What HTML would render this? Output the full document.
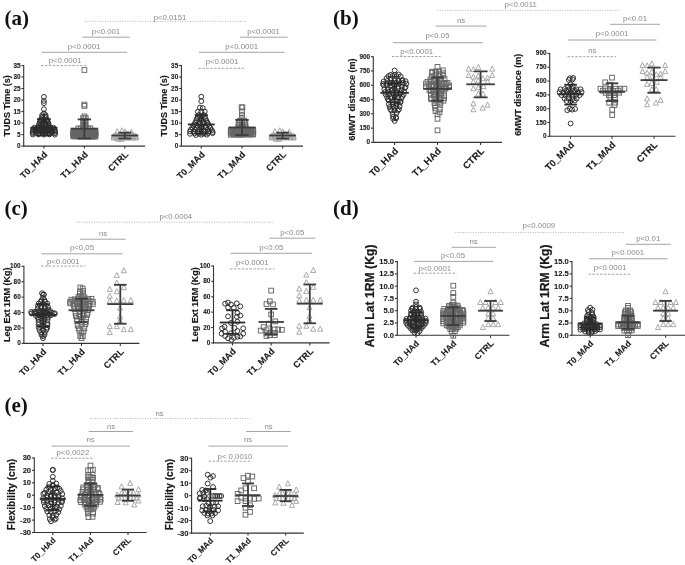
<!DOCTYPE html>
<html><head><meta charset="utf-8"><title>Figure</title>
<style>
html,body{margin:0;padding:0;background:#fff;}
body{width:685px;height:565px;overflow:hidden;font-family:"Liberation Sans",sans-serif;}
svg{display:block;will-change:transform;}
svg text{font-family:"Liberation Sans",sans-serif;}
</style></head><body>
<svg width="685" height="565" viewBox="0 0 685 565">
<rect width="685" height="565" fill="#fff"/>
<text x="4.5" y="24.8" style="font-family:'Liberation Serif',serif" font-size="21" font-weight="bold" fill="#111">(a)</text>
<text x="333" y="24.8" style="font-family:'Liberation Serif',serif" font-size="21" font-weight="bold" fill="#111">(b)</text>
<text x="4.5" y="214.9" style="font-family:'Liberation Serif',serif" font-size="21" font-weight="bold" fill="#111">(c)</text>
<text x="333" y="214.9" style="font-family:'Liberation Serif',serif" font-size="21" font-weight="bold" fill="#111">(d)</text>
<text x="4.5" y="411.6" style="font-family:'Liberation Serif',serif" font-size="21" font-weight="bold" fill="#111">(e)</text>
<g stroke="#333" stroke-width="1.1" fill="none">
<line x1="23.7" y1="65" x2="23.7" y2="146.6"/>
<line x1="23.2" y1="146.1" x2="145" y2="146.1"/>
<line x1="21.4" y1="146.1" x2="23.7" y2="146.1"/>
<line x1="21.4" y1="134.59" x2="23.7" y2="134.59"/>
<line x1="21.4" y1="123.07" x2="23.7" y2="123.07"/>
<line x1="21.4" y1="111.56" x2="23.7" y2="111.56"/>
<line x1="21.4" y1="100.04" x2="23.7" y2="100.04"/>
<line x1="21.4" y1="88.53" x2="23.7" y2="88.53"/>
<line x1="21.4" y1="77.01" x2="23.7" y2="77.01"/>
<line x1="21.4" y1="65.5" x2="23.7" y2="65.5"/>
<line x1="43.9" y1="146.1" x2="43.9" y2="148.6"/>
<line x1="84.4" y1="146.1" x2="84.4" y2="148.6"/>
<line x1="124.8" y1="146.1" x2="124.8" y2="148.6"/>
</g>
<g font-size="6.4" font-weight="bold" fill="#1a1a1a" stroke="#1a1a1a" stroke-width="0.1" text-anchor="end">
<text x="20.5" y="148.15">0</text>
<text x="20.5" y="136.63">5</text>
<text x="20.5" y="125.12">10</text>
<text x="20.5" y="113.61">15</text>
<text x="20.5" y="102.09">20</text>
<text x="20.5" y="90.58">25</text>
<text x="20.5" y="79.06">30</text>
<text x="20.5" y="67.55">35</text>
</g>
<g font-size="9" font-weight="bold" fill="#1a1a1a" stroke="#1a1a1a" stroke-width="0.12" text-anchor="end">
<text transform="translate(47.9 155.1) rotate(-45)">T0_HAd</text>
<text transform="translate(88.4 155.1) rotate(-45)">T1_HAd</text>
<text transform="translate(128.8 155.1) rotate(-45)">CTRL</text>
</g>
<text transform="translate(10 105.8) rotate(-90)" font-size="9" font-weight="bold" fill="#1a1a1a" stroke="#1a1a1a" stroke-width="0.16" text-anchor="middle">TUDS Time (s)</text>
<circle cx="32.9" cy="134.52" r="2.42" fill="none" stroke="#2a2a2a" stroke-width="0.95"/>
<circle cx="38.4" cy="134.45" r="2.42" fill="none" stroke="#2a2a2a" stroke-width="0.95"/>
<circle cx="43.9" cy="134.65" r="2.42" fill="none" stroke="#2a2a2a" stroke-width="0.95"/>
<circle cx="49.4" cy="134.41" r="2.42" fill="none" stroke="#2a2a2a" stroke-width="0.95"/>
<circle cx="54.9" cy="134.6" r="2.42" fill="none" stroke="#2a2a2a" stroke-width="0.95"/>
<circle cx="32.7" cy="133.15" r="2.42" fill="none" stroke="#2a2a2a" stroke-width="0.95"/>
<circle cx="35.9" cy="133.03" r="2.42" fill="none" stroke="#2a2a2a" stroke-width="0.95"/>
<circle cx="39.1" cy="133.21" r="2.42" fill="none" stroke="#2a2a2a" stroke-width="0.95"/>
<circle cx="42.3" cy="133.02" r="2.42" fill="none" stroke="#2a2a2a" stroke-width="0.95"/>
<circle cx="45.5" cy="133.18" r="2.42" fill="none" stroke="#2a2a2a" stroke-width="0.95"/>
<circle cx="48.7" cy="133.03" r="2.42" fill="none" stroke="#2a2a2a" stroke-width="0.95"/>
<circle cx="51.9" cy="133.04" r="2.42" fill="none" stroke="#2a2a2a" stroke-width="0.95"/>
<circle cx="55.1" cy="133.17" r="2.42" fill="none" stroke="#2a2a2a" stroke-width="0.95"/>
<circle cx="32.7" cy="131.95" r="2.42" fill="none" stroke="#2a2a2a" stroke-width="0.95"/>
<circle cx="35.5" cy="131.67" r="2.42" fill="none" stroke="#2a2a2a" stroke-width="0.95"/>
<circle cx="38.3" cy="131.71" r="2.42" fill="none" stroke="#2a2a2a" stroke-width="0.95"/>
<circle cx="41.1" cy="131.87" r="2.42" fill="none" stroke="#2a2a2a" stroke-width="0.95"/>
<circle cx="43.9" cy="132" r="2.42" fill="none" stroke="#2a2a2a" stroke-width="0.95"/>
<circle cx="46.7" cy="131.85" r="2.42" fill="none" stroke="#2a2a2a" stroke-width="0.95"/>
<circle cx="49.5" cy="131.78" r="2.42" fill="none" stroke="#2a2a2a" stroke-width="0.95"/>
<circle cx="52.3" cy="132.01" r="2.42" fill="none" stroke="#2a2a2a" stroke-width="0.95"/>
<circle cx="55.1" cy="131.64" r="2.42" fill="none" stroke="#2a2a2a" stroke-width="0.95"/>
<circle cx="32.9" cy="130.58" r="2.42" fill="none" stroke="#2a2a2a" stroke-width="0.95"/>
<circle cx="35.65" cy="130.36" r="2.42" fill="none" stroke="#2a2a2a" stroke-width="0.95"/>
<circle cx="38.4" cy="130.3" r="2.42" fill="none" stroke="#2a2a2a" stroke-width="0.95"/>
<circle cx="41.15" cy="130.29" r="2.42" fill="none" stroke="#2a2a2a" stroke-width="0.95"/>
<circle cx="43.9" cy="130.36" r="2.42" fill="none" stroke="#2a2a2a" stroke-width="0.95"/>
<circle cx="46.65" cy="130.57" r="2.42" fill="none" stroke="#2a2a2a" stroke-width="0.95"/>
<circle cx="49.4" cy="130.31" r="2.42" fill="none" stroke="#2a2a2a" stroke-width="0.95"/>
<circle cx="52.15" cy="130.47" r="2.42" fill="none" stroke="#2a2a2a" stroke-width="0.95"/>
<circle cx="54.9" cy="130.5" r="2.42" fill="none" stroke="#2a2a2a" stroke-width="0.95"/>
<circle cx="33.4" cy="129.01" r="2.42" fill="none" stroke="#2a2a2a" stroke-width="0.95"/>
<circle cx="36.4" cy="129.08" r="2.42" fill="none" stroke="#2a2a2a" stroke-width="0.95"/>
<circle cx="39.4" cy="128.88" r="2.42" fill="none" stroke="#2a2a2a" stroke-width="0.95"/>
<circle cx="42.4" cy="128.88" r="2.42" fill="none" stroke="#2a2a2a" stroke-width="0.95"/>
<circle cx="45.4" cy="128.94" r="2.42" fill="none" stroke="#2a2a2a" stroke-width="0.95"/>
<circle cx="48.4" cy="129.13" r="2.42" fill="none" stroke="#2a2a2a" stroke-width="0.95"/>
<circle cx="51.4" cy="129.03" r="2.42" fill="none" stroke="#2a2a2a" stroke-width="0.95"/>
<circle cx="54.4" cy="128.98" r="2.42" fill="none" stroke="#2a2a2a" stroke-width="0.95"/>
<circle cx="34.4" cy="127.71" r="2.42" fill="none" stroke="#2a2a2a" stroke-width="0.95"/>
<circle cx="37.57" cy="127.66" r="2.42" fill="none" stroke="#2a2a2a" stroke-width="0.95"/>
<circle cx="40.73" cy="127.6" r="2.42" fill="none" stroke="#2a2a2a" stroke-width="0.95"/>
<circle cx="43.9" cy="127.79" r="2.42" fill="none" stroke="#2a2a2a" stroke-width="0.95"/>
<circle cx="47.07" cy="127.76" r="2.42" fill="none" stroke="#2a2a2a" stroke-width="0.95"/>
<circle cx="50.23" cy="127.57" r="2.42" fill="none" stroke="#2a2a2a" stroke-width="0.95"/>
<circle cx="53.4" cy="127.71" r="2.42" fill="none" stroke="#2a2a2a" stroke-width="0.95"/>
<circle cx="38.9" cy="126.31" r="2.42" fill="none" stroke="#2a2a2a" stroke-width="0.95"/>
<circle cx="42.23" cy="126.45" r="2.42" fill="none" stroke="#2a2a2a" stroke-width="0.95"/>
<circle cx="45.57" cy="126.39" r="2.42" fill="none" stroke="#2a2a2a" stroke-width="0.95"/>
<circle cx="48.9" cy="126.21" r="2.42" fill="none" stroke="#2a2a2a" stroke-width="0.95"/>
<circle cx="39.1" cy="125.11" r="2.42" fill="none" stroke="#2a2a2a" stroke-width="0.95"/>
<circle cx="42.3" cy="124.76" r="2.42" fill="none" stroke="#2a2a2a" stroke-width="0.95"/>
<circle cx="45.5" cy="124.88" r="2.42" fill="none" stroke="#2a2a2a" stroke-width="0.95"/>
<circle cx="48.7" cy="125.02" r="2.42" fill="none" stroke="#2a2a2a" stroke-width="0.95"/>
<circle cx="39.4" cy="123.39" r="2.42" fill="none" stroke="#2a2a2a" stroke-width="0.95"/>
<circle cx="42.4" cy="123.53" r="2.42" fill="none" stroke="#2a2a2a" stroke-width="0.95"/>
<circle cx="45.4" cy="123.35" r="2.42" fill="none" stroke="#2a2a2a" stroke-width="0.95"/>
<circle cx="48.4" cy="123.6" r="2.42" fill="none" stroke="#2a2a2a" stroke-width="0.95"/>
<circle cx="39.9" cy="122.26" r="2.42" fill="none" stroke="#2a2a2a" stroke-width="0.95"/>
<circle cx="43.9" cy="122.18" r="2.42" fill="none" stroke="#2a2a2a" stroke-width="0.95"/>
<circle cx="47.9" cy="122.3" r="2.42" fill="none" stroke="#2a2a2a" stroke-width="0.95"/>
<circle cx="40.4" cy="120.69" r="2.42" fill="none" stroke="#2a2a2a" stroke-width="0.95"/>
<circle cx="43.9" cy="120.85" r="2.42" fill="none" stroke="#2a2a2a" stroke-width="0.95"/>
<circle cx="47.4" cy="120.81" r="2.42" fill="none" stroke="#2a2a2a" stroke-width="0.95"/>
<circle cx="40.9" cy="119.42" r="2.42" fill="none" stroke="#2a2a2a" stroke-width="0.95"/>
<circle cx="43.9" cy="119.37" r="2.42" fill="none" stroke="#2a2a2a" stroke-width="0.95"/>
<circle cx="46.9" cy="119.52" r="2.42" fill="none" stroke="#2a2a2a" stroke-width="0.95"/>
<circle cx="42.1" cy="118.18" r="2.42" fill="none" stroke="#2a2a2a" stroke-width="0.95"/>
<circle cx="45.7" cy="117.99" r="2.42" fill="none" stroke="#2a2a2a" stroke-width="0.95"/>
<circle cx="42.2" cy="116.69" r="2.42" fill="none" stroke="#2a2a2a" stroke-width="0.95"/>
<circle cx="45.6" cy="116.45" r="2.42" fill="none" stroke="#2a2a2a" stroke-width="0.95"/>
<circle cx="42.2" cy="115.09" r="2.42" fill="none" stroke="#2a2a2a" stroke-width="0.95"/>
<circle cx="45.6" cy="115.07" r="2.42" fill="none" stroke="#2a2a2a" stroke-width="0.95"/>
<circle cx="43.9" cy="113.37" r="2.42" fill="none" stroke="#2a2a2a" stroke-width="0.95"/>
<circle cx="43.9" cy="109.15" r="2.42" fill="none" stroke="#2a2a2a" stroke-width="0.95"/>
<circle cx="43.9" cy="103.18" r="2.42" fill="none" stroke="#2a2a2a" stroke-width="0.95"/>
<circle cx="43.9" cy="100.92" r="2.42" fill="none" stroke="#2a2a2a" stroke-width="0.95"/>
<circle cx="43.9" cy="96.89" r="2.42" fill="none" stroke="#2a2a2a" stroke-width="0.95"/>
<g stroke="#2a2a2a" stroke-width="1.8" fill="none">
<line x1="30.4" y1="127.68" x2="57.4" y2="127.68"/>
<line x1="43.9" y1="119.16" x2="43.9" y2="135.51"/>
<line x1="37" y1="119.16" x2="50.8" y2="119.16"/>
<line x1="37" y1="135.51" x2="50.8" y2="135.51"/>
</g>
<rect x="71.03" y="133.91" width="4.74" height="4.74" fill="none" stroke="#666666" stroke-width="0.95"/>
<rect x="72.6" y="134.04" width="4.74" height="4.74" fill="none" stroke="#666666" stroke-width="0.95"/>
<rect x="74.17" y="133.96" width="4.74" height="4.74" fill="none" stroke="#666666" stroke-width="0.95"/>
<rect x="75.74" y="133.94" width="4.74" height="4.74" fill="none" stroke="#666666" stroke-width="0.95"/>
<rect x="77.31" y="133.92" width="4.74" height="4.74" fill="none" stroke="#666666" stroke-width="0.95"/>
<rect x="78.89" y="134.14" width="4.74" height="4.74" fill="none" stroke="#666666" stroke-width="0.95"/>
<rect x="80.46" y="133.95" width="4.74" height="4.74" fill="none" stroke="#666666" stroke-width="0.95"/>
<rect x="82.03" y="133.98" width="4.74" height="4.74" fill="none" stroke="#666666" stroke-width="0.95"/>
<rect x="83.6" y="134.02" width="4.74" height="4.74" fill="none" stroke="#666666" stroke-width="0.95"/>
<rect x="85.17" y="134.17" width="4.74" height="4.74" fill="none" stroke="#666666" stroke-width="0.95"/>
<rect x="86.74" y="133.93" width="4.74" height="4.74" fill="none" stroke="#666666" stroke-width="0.95"/>
<rect x="88.31" y="134.04" width="4.74" height="4.74" fill="none" stroke="#666666" stroke-width="0.95"/>
<rect x="89.89" y="134.07" width="4.74" height="4.74" fill="none" stroke="#666666" stroke-width="0.95"/>
<rect x="91.46" y="134.17" width="4.74" height="4.74" fill="none" stroke="#666666" stroke-width="0.95"/>
<rect x="93.03" y="134.15" width="4.74" height="4.74" fill="none" stroke="#666666" stroke-width="0.95"/>
<rect x="71.03" y="133.24" width="4.74" height="4.74" fill="none" stroke="#666666" stroke-width="0.95"/>
<rect x="72.5" y="133.07" width="4.74" height="4.74" fill="none" stroke="#666666" stroke-width="0.95"/>
<rect x="73.96" y="133.11" width="4.74" height="4.74" fill="none" stroke="#666666" stroke-width="0.95"/>
<rect x="75.43" y="133.09" width="4.74" height="4.74" fill="none" stroke="#666666" stroke-width="0.95"/>
<rect x="76.9" y="133.25" width="4.74" height="4.74" fill="none" stroke="#666666" stroke-width="0.95"/>
<rect x="78.36" y="133.27" width="4.74" height="4.74" fill="none" stroke="#666666" stroke-width="0.95"/>
<rect x="79.83" y="133.03" width="4.74" height="4.74" fill="none" stroke="#666666" stroke-width="0.95"/>
<rect x="81.3" y="133.04" width="4.74" height="4.74" fill="none" stroke="#666666" stroke-width="0.95"/>
<rect x="82.76" y="133.05" width="4.74" height="4.74" fill="none" stroke="#666666" stroke-width="0.95"/>
<rect x="84.23" y="133.06" width="4.74" height="4.74" fill="none" stroke="#666666" stroke-width="0.95"/>
<rect x="85.7" y="133.13" width="4.74" height="4.74" fill="none" stroke="#666666" stroke-width="0.95"/>
<rect x="87.16" y="133.16" width="4.74" height="4.74" fill="none" stroke="#666666" stroke-width="0.95"/>
<rect x="88.63" y="133.06" width="4.74" height="4.74" fill="none" stroke="#666666" stroke-width="0.95"/>
<rect x="90.1" y="132.99" width="4.74" height="4.74" fill="none" stroke="#666666" stroke-width="0.95"/>
<rect x="91.56" y="133.11" width="4.74" height="4.74" fill="none" stroke="#666666" stroke-width="0.95"/>
<rect x="93.03" y="133.1" width="4.74" height="4.74" fill="none" stroke="#666666" stroke-width="0.95"/>
<rect x="71.03" y="132" width="4.74" height="4.74" fill="none" stroke="#666666" stroke-width="0.95"/>
<rect x="72.5" y="132.12" width="4.74" height="4.74" fill="none" stroke="#666666" stroke-width="0.95"/>
<rect x="73.96" y="132.04" width="4.74" height="4.74" fill="none" stroke="#666666" stroke-width="0.95"/>
<rect x="75.43" y="131.99" width="4.74" height="4.74" fill="none" stroke="#666666" stroke-width="0.95"/>
<rect x="76.9" y="132.02" width="4.74" height="4.74" fill="none" stroke="#666666" stroke-width="0.95"/>
<rect x="78.36" y="132.04" width="4.74" height="4.74" fill="none" stroke="#666666" stroke-width="0.95"/>
<rect x="79.83" y="131.85" width="4.74" height="4.74" fill="none" stroke="#666666" stroke-width="0.95"/>
<rect x="81.3" y="132.1" width="4.74" height="4.74" fill="none" stroke="#666666" stroke-width="0.95"/>
<rect x="82.76" y="132.07" width="4.74" height="4.74" fill="none" stroke="#666666" stroke-width="0.95"/>
<rect x="84.23" y="132.1" width="4.74" height="4.74" fill="none" stroke="#666666" stroke-width="0.95"/>
<rect x="85.7" y="132.07" width="4.74" height="4.74" fill="none" stroke="#666666" stroke-width="0.95"/>
<rect x="87.16" y="131.95" width="4.74" height="4.74" fill="none" stroke="#666666" stroke-width="0.95"/>
<rect x="88.63" y="131.95" width="4.74" height="4.74" fill="none" stroke="#666666" stroke-width="0.95"/>
<rect x="90.1" y="131.86" width="4.74" height="4.74" fill="none" stroke="#666666" stroke-width="0.95"/>
<rect x="91.56" y="132.02" width="4.74" height="4.74" fill="none" stroke="#666666" stroke-width="0.95"/>
<rect x="93.03" y="131.85" width="4.74" height="4.74" fill="none" stroke="#666666" stroke-width="0.95"/>
<rect x="71.03" y="130.7" width="4.74" height="4.74" fill="none" stroke="#666666" stroke-width="0.95"/>
<rect x="72.5" y="130.75" width="4.74" height="4.74" fill="none" stroke="#666666" stroke-width="0.95"/>
<rect x="73.96" y="130.73" width="4.74" height="4.74" fill="none" stroke="#666666" stroke-width="0.95"/>
<rect x="75.43" y="130.78" width="4.74" height="4.74" fill="none" stroke="#666666" stroke-width="0.95"/>
<rect x="76.9" y="130.7" width="4.74" height="4.74" fill="none" stroke="#666666" stroke-width="0.95"/>
<rect x="78.36" y="130.68" width="4.74" height="4.74" fill="none" stroke="#666666" stroke-width="0.95"/>
<rect x="79.83" y="130.73" width="4.74" height="4.74" fill="none" stroke="#666666" stroke-width="0.95"/>
<rect x="81.3" y="130.71" width="4.74" height="4.74" fill="none" stroke="#666666" stroke-width="0.95"/>
<rect x="82.76" y="130.79" width="4.74" height="4.74" fill="none" stroke="#666666" stroke-width="0.95"/>
<rect x="84.23" y="130.69" width="4.74" height="4.74" fill="none" stroke="#666666" stroke-width="0.95"/>
<rect x="85.7" y="130.94" width="4.74" height="4.74" fill="none" stroke="#666666" stroke-width="0.95"/>
<rect x="87.16" y="130.87" width="4.74" height="4.74" fill="none" stroke="#666666" stroke-width="0.95"/>
<rect x="88.63" y="130.73" width="4.74" height="4.74" fill="none" stroke="#666666" stroke-width="0.95"/>
<rect x="90.1" y="130.76" width="4.74" height="4.74" fill="none" stroke="#666666" stroke-width="0.95"/>
<rect x="91.56" y="130.79" width="4.74" height="4.74" fill="none" stroke="#666666" stroke-width="0.95"/>
<rect x="93.03" y="130.79" width="4.74" height="4.74" fill="none" stroke="#666666" stroke-width="0.95"/>
<rect x="71.03" y="129.57" width="4.74" height="4.74" fill="none" stroke="#666666" stroke-width="0.95"/>
<rect x="72.5" y="129.79" width="4.74" height="4.74" fill="none" stroke="#666666" stroke-width="0.95"/>
<rect x="73.96" y="129.83" width="4.74" height="4.74" fill="none" stroke="#666666" stroke-width="0.95"/>
<rect x="75.43" y="129.67" width="4.74" height="4.74" fill="none" stroke="#666666" stroke-width="0.95"/>
<rect x="76.9" y="129.68" width="4.74" height="4.74" fill="none" stroke="#666666" stroke-width="0.95"/>
<rect x="78.36" y="129.56" width="4.74" height="4.74" fill="none" stroke="#666666" stroke-width="0.95"/>
<rect x="79.83" y="129.56" width="4.74" height="4.74" fill="none" stroke="#666666" stroke-width="0.95"/>
<rect x="81.3" y="129.63" width="4.74" height="4.74" fill="none" stroke="#666666" stroke-width="0.95"/>
<rect x="82.76" y="129.61" width="4.74" height="4.74" fill="none" stroke="#666666" stroke-width="0.95"/>
<rect x="84.23" y="129.78" width="4.74" height="4.74" fill="none" stroke="#666666" stroke-width="0.95"/>
<rect x="85.7" y="129.58" width="4.74" height="4.74" fill="none" stroke="#666666" stroke-width="0.95"/>
<rect x="87.16" y="129.54" width="4.74" height="4.74" fill="none" stroke="#666666" stroke-width="0.95"/>
<rect x="88.63" y="129.82" width="4.74" height="4.74" fill="none" stroke="#666666" stroke-width="0.95"/>
<rect x="90.1" y="129.69" width="4.74" height="4.74" fill="none" stroke="#666666" stroke-width="0.95"/>
<rect x="91.56" y="129.57" width="4.74" height="4.74" fill="none" stroke="#666666" stroke-width="0.95"/>
<rect x="93.03" y="129.69" width="4.74" height="4.74" fill="none" stroke="#666666" stroke-width="0.95"/>
<rect x="71.03" y="128.39" width="4.74" height="4.74" fill="none" stroke="#666666" stroke-width="0.95"/>
<rect x="72.5" y="128.54" width="4.74" height="4.74" fill="none" stroke="#666666" stroke-width="0.95"/>
<rect x="73.96" y="128.67" width="4.74" height="4.74" fill="none" stroke="#666666" stroke-width="0.95"/>
<rect x="75.43" y="128.64" width="4.74" height="4.74" fill="none" stroke="#666666" stroke-width="0.95"/>
<rect x="76.9" y="128.59" width="4.74" height="4.74" fill="none" stroke="#666666" stroke-width="0.95"/>
<rect x="78.36" y="128.46" width="4.74" height="4.74" fill="none" stroke="#666666" stroke-width="0.95"/>
<rect x="79.83" y="128.49" width="4.74" height="4.74" fill="none" stroke="#666666" stroke-width="0.95"/>
<rect x="81.3" y="128.43" width="4.74" height="4.74" fill="none" stroke="#666666" stroke-width="0.95"/>
<rect x="82.76" y="128.61" width="4.74" height="4.74" fill="none" stroke="#666666" stroke-width="0.95"/>
<rect x="84.23" y="128.54" width="4.74" height="4.74" fill="none" stroke="#666666" stroke-width="0.95"/>
<rect x="85.7" y="128.61" width="4.74" height="4.74" fill="none" stroke="#666666" stroke-width="0.95"/>
<rect x="87.16" y="128.48" width="4.74" height="4.74" fill="none" stroke="#666666" stroke-width="0.95"/>
<rect x="88.63" y="128.45" width="4.74" height="4.74" fill="none" stroke="#666666" stroke-width="0.95"/>
<rect x="90.1" y="128.62" width="4.74" height="4.74" fill="none" stroke="#666666" stroke-width="0.95"/>
<rect x="91.56" y="128.68" width="4.74" height="4.74" fill="none" stroke="#666666" stroke-width="0.95"/>
<rect x="93.03" y="128.64" width="4.74" height="4.74" fill="none" stroke="#666666" stroke-width="0.95"/>
<rect x="76.03" y="126.09" width="4.74" height="4.74" fill="none" stroke="#666666" stroke-width="0.95"/>
<rect x="78.43" y="126.09" width="4.74" height="4.74" fill="none" stroke="#666666" stroke-width="0.95"/>
<rect x="80.83" y="126.07" width="4.74" height="4.74" fill="none" stroke="#666666" stroke-width="0.95"/>
<rect x="83.23" y="125.91" width="4.74" height="4.74" fill="none" stroke="#666666" stroke-width="0.95"/>
<rect x="85.63" y="126" width="4.74" height="4.74" fill="none" stroke="#666666" stroke-width="0.95"/>
<rect x="88.03" y="125.95" width="4.74" height="4.74" fill="none" stroke="#666666" stroke-width="0.95"/>
<rect x="81.03" y="123.78" width="4.74" height="4.74" fill="none" stroke="#666666" stroke-width="0.95"/>
<rect x="83.03" y="123.78" width="4.74" height="4.74" fill="none" stroke="#666666" stroke-width="0.95"/>
<rect x="81.03" y="122.25" width="4.74" height="4.74" fill="none" stroke="#666666" stroke-width="0.95"/>
<rect x="83.03" y="122.24" width="4.74" height="4.74" fill="none" stroke="#666666" stroke-width="0.95"/>
<rect x="81.03" y="120.3" width="4.74" height="4.74" fill="none" stroke="#666666" stroke-width="0.95"/>
<rect x="83.03" y="120.38" width="4.74" height="4.74" fill="none" stroke="#666666" stroke-width="0.95"/>
<rect x="81.03" y="118.38" width="4.74" height="4.74" fill="none" stroke="#666666" stroke-width="0.95"/>
<rect x="83.03" y="118.53" width="4.74" height="4.74" fill="none" stroke="#666666" stroke-width="0.95"/>
<rect x="80.73" y="115.78" width="4.74" height="4.74" fill="none" stroke="#666666" stroke-width="0.95"/>
<rect x="83.33" y="115.77" width="4.74" height="4.74" fill="none" stroke="#666666" stroke-width="0.95"/>
<rect x="82.03" y="113.98" width="4.74" height="4.74" fill="none" stroke="#666666" stroke-width="0.95"/>
<rect x="82.03" y="103.57" width="4.74" height="4.74" fill="none" stroke="#666666" stroke-width="0.95"/>
<rect x="82.03" y="102.2" width="4.74" height="4.74" fill="none" stroke="#666666" stroke-width="0.95"/>
<rect x="82.03" y="67.64" width="4.74" height="4.74" fill="none" stroke="#666666" stroke-width="0.95"/>
<g stroke="#3c3c3c" stroke-width="1.8" fill="none">
<line x1="70.9" y1="128.6" x2="97.9" y2="128.6"/>
<line x1="84.4" y1="119.39" x2="84.4" y2="138.5"/>
<line x1="77.7" y1="119.39" x2="91.1" y2="119.39"/>
<line x1="77.7" y1="138.5" x2="91.1" y2="138.5"/>
</g>
<path d="M118.3 136.21L120.82 141.24L115.78 141.24Z" fill="none" stroke="#a4a4a4" stroke-width="0.95"/>
<path d="M121.3 136.33L123.82 141.37L118.78 141.37Z" fill="none" stroke="#a4a4a4" stroke-width="0.95"/>
<path d="M113.8 135.04L116.32 140.07L111.28 140.07Z" fill="none" stroke="#a4a4a4" stroke-width="0.95"/>
<path d="M116.94 135.02L119.46 140.05L114.43 140.05Z" fill="none" stroke="#a4a4a4" stroke-width="0.95"/>
<path d="M120.09 134.91L122.6 139.94L117.57 139.94Z" fill="none" stroke="#a4a4a4" stroke-width="0.95"/>
<path d="M123.23 134.96L125.75 139.99L120.71 139.99Z" fill="none" stroke="#a4a4a4" stroke-width="0.95"/>
<path d="M126.37 135.01L128.89 140.04L123.85 140.04Z" fill="none" stroke="#a4a4a4" stroke-width="0.95"/>
<path d="M129.51 134.79L132.03 139.82L127 139.82Z" fill="none" stroke="#a4a4a4" stroke-width="0.95"/>
<path d="M132.66 134.96L135.17 140L130.14 140Z" fill="none" stroke="#a4a4a4" stroke-width="0.95"/>
<path d="M135.8 135.04L138.32 140.07L133.28 140.07Z" fill="none" stroke="#a4a4a4" stroke-width="0.95"/>
<path d="M113.8 134.08L116.32 139.11L111.28 139.11Z" fill="none" stroke="#a4a4a4" stroke-width="0.95"/>
<path d="M116.55 134.07L119.07 139.1L114.03 139.1Z" fill="none" stroke="#a4a4a4" stroke-width="0.95"/>
<path d="M119.3 133.99L121.82 139.02L116.78 139.02Z" fill="none" stroke="#a4a4a4" stroke-width="0.95"/>
<path d="M122.05 133.9L124.57 138.93L119.53 138.93Z" fill="none" stroke="#a4a4a4" stroke-width="0.95"/>
<path d="M124.8 134.08L127.32 139.11L122.28 139.11Z" fill="none" stroke="#a4a4a4" stroke-width="0.95"/>
<path d="M127.55 133.94L130.07 138.98L125.03 138.98Z" fill="none" stroke="#a4a4a4" stroke-width="0.95"/>
<path d="M130.3 134.08L132.82 139.12L127.78 139.12Z" fill="none" stroke="#a4a4a4" stroke-width="0.95"/>
<path d="M133.05 134.14L135.57 139.17L130.53 139.17Z" fill="none" stroke="#a4a4a4" stroke-width="0.95"/>
<path d="M135.8 133.96L138.32 139L133.28 139Z" fill="none" stroke="#a4a4a4" stroke-width="0.95"/>
<path d="M113.8 133.04L116.32 138.08L111.28 138.08Z" fill="none" stroke="#a4a4a4" stroke-width="0.95"/>
<path d="M116.94 133.21L119.46 138.24L114.43 138.24Z" fill="none" stroke="#a4a4a4" stroke-width="0.95"/>
<path d="M120.09 133.14L122.6 138.17L117.57 138.17Z" fill="none" stroke="#a4a4a4" stroke-width="0.95"/>
<path d="M123.23 132.97L125.75 138.01L120.71 138.01Z" fill="none" stroke="#a4a4a4" stroke-width="0.95"/>
<path d="M126.37 132.96L128.89 137.99L123.85 137.99Z" fill="none" stroke="#a4a4a4" stroke-width="0.95"/>
<path d="M129.51 132.97L132.03 138L127 138Z" fill="none" stroke="#a4a4a4" stroke-width="0.95"/>
<path d="M132.66 133.19L135.17 138.23L130.14 138.23Z" fill="none" stroke="#a4a4a4" stroke-width="0.95"/>
<path d="M135.8 133.17L138.32 138.2L133.28 138.2Z" fill="none" stroke="#a4a4a4" stroke-width="0.95"/>
<path d="M116.3 132.05L118.82 137.08L113.78 137.08Z" fill="none" stroke="#a4a4a4" stroke-width="0.95"/>
<path d="M120.55 132.25L123.07 137.28L118.03 137.28Z" fill="none" stroke="#a4a4a4" stroke-width="0.95"/>
<path d="M124.8 132.3L127.32 137.33L122.28 137.33Z" fill="none" stroke="#a4a4a4" stroke-width="0.95"/>
<path d="M129.05 132.2L131.57 137.23L126.53 137.23Z" fill="none" stroke="#a4a4a4" stroke-width="0.95"/>
<path d="M133.3 132.11L135.82 137.14L130.78 137.14Z" fill="none" stroke="#a4a4a4" stroke-width="0.95"/>
<path d="M120.8 131.25L123.32 136.28L118.28 136.28Z" fill="none" stroke="#a4a4a4" stroke-width="0.95"/>
<path d="M125.8 131.12L128.32 136.15L123.28 136.15Z" fill="none" stroke="#a4a4a4" stroke-width="0.95"/>
<path d="M130.8 131.09L133.32 136.12L128.28 136.12Z" fill="none" stroke="#a4a4a4" stroke-width="0.95"/>
<path d="M117.1 128.7L119.62 133.73L114.58 133.73Z" fill="none" stroke="#a4a4a4" stroke-width="0.95"/>
<path d="M121.9 127.78L124.42 132.81L119.38 132.81Z" fill="none" stroke="#a4a4a4" stroke-width="0.95"/>
<path d="M125 128.93L127.52 133.96L122.48 133.96Z" fill="none" stroke="#a4a4a4" stroke-width="0.95"/>
<path d="M127.9 131L130.42 136.03L125.38 136.03Z" fill="none" stroke="#a4a4a4" stroke-width="0.95"/>
<path d="M131.3 129.39L133.82 134.42L128.78 134.42Z" fill="none" stroke="#a4a4a4" stroke-width="0.95"/>
<g stroke="#3c3c3c" stroke-width="1.8" fill="none">
<line x1="111.3" y1="135.51" x2="138.3" y2="135.51"/>
<line x1="124.8" y1="132.74" x2="124.8" y2="138.5"/>
<line x1="118.4" y1="132.74" x2="131.2" y2="132.74"/>
<line x1="118.4" y1="138.5" x2="131.2" y2="138.5"/>
</g>
<line x1="85" y1="21.4" x2="246" y2="21.4" stroke="#9a9a9a" stroke-width="0.8" stroke-dasharray="0.9 1.6"/>
<text x="170" y="19.54" font-size="7.8" fill="#8a8a8a" text-anchor="middle">p&lt;0.0151</text>
<line x1="82.4" y1="37.2" x2="130" y2="37.2" stroke="#9a9a9a" stroke-width="0.9"/>
<text x="106" y="33.94" font-size="7.8" fill="#8a8a8a" text-anchor="middle">p&lt;0.001</text>
<line x1="41.7" y1="52.3" x2="127" y2="52.3" stroke="#9a9a9a" stroke-width="0.9"/>
<text x="84" y="48.54" font-size="7.8" fill="#8a8a8a" text-anchor="middle">p&lt;0.0001</text>
<line x1="41" y1="65.6" x2="87.4" y2="65.6" stroke="#9a9a9a" stroke-width="0.9" stroke-dasharray="2.5 1.4"/>
<text x="65" y="62.54" font-size="7.8" fill="#8a8a8a" text-anchor="middle">p&lt;0.0001</text>
<g stroke="#333" stroke-width="1.1" fill="none">
<line x1="181.4" y1="65" x2="181.4" y2="146.6"/>
<line x1="180.9" y1="146.1" x2="303" y2="146.1"/>
<line x1="179.1" y1="146.1" x2="181.4" y2="146.1"/>
<line x1="179.1" y1="134.59" x2="181.4" y2="134.59"/>
<line x1="179.1" y1="123.07" x2="181.4" y2="123.07"/>
<line x1="179.1" y1="111.56" x2="181.4" y2="111.56"/>
<line x1="179.1" y1="100.04" x2="181.4" y2="100.04"/>
<line x1="179.1" y1="88.53" x2="181.4" y2="88.53"/>
<line x1="179.1" y1="77.01" x2="181.4" y2="77.01"/>
<line x1="179.1" y1="65.5" x2="181.4" y2="65.5"/>
<line x1="201.3" y1="146.1" x2="201.3" y2="148.6"/>
<line x1="242" y1="146.1" x2="242" y2="148.6"/>
<line x1="282.6" y1="146.1" x2="282.6" y2="148.6"/>
</g>
<g font-size="6.4" font-weight="bold" fill="#1a1a1a" stroke="#1a1a1a" stroke-width="0.1" text-anchor="end">
<text x="178.2" y="148.15">0</text>
<text x="178.2" y="136.63">5</text>
<text x="178.2" y="125.12">10</text>
<text x="178.2" y="113.61">15</text>
<text x="178.2" y="102.09">20</text>
<text x="178.2" y="90.58">25</text>
<text x="178.2" y="79.06">30</text>
<text x="178.2" y="67.55">35</text>
</g>
<g font-size="9" font-weight="bold" fill="#1a1a1a" stroke="#1a1a1a" stroke-width="0.12" text-anchor="end">
<text transform="translate(205.3 155.1) rotate(-45)">T0_MAd</text>
<text transform="translate(246 155.1) rotate(-45)">T1_MAd</text>
<text transform="translate(286.6 155.1) rotate(-45)">CTRL</text>
</g>
<text transform="translate(167 105.8) rotate(-90)" font-size="9" font-weight="bold" fill="#1a1a1a" stroke="#1a1a1a" stroke-width="0.16" text-anchor="middle">TUDS Time (s)</text>
<circle cx="195.8" cy="135.01" r="2.42" fill="none" stroke="#2a2a2a" stroke-width="0.95"/>
<circle cx="201.3" cy="134.72" r="2.42" fill="none" stroke="#2a2a2a" stroke-width="0.95"/>
<circle cx="206.8" cy="134.61" r="2.42" fill="none" stroke="#2a2a2a" stroke-width="0.95"/>
<circle cx="190" cy="133.82" r="2.42" fill="none" stroke="#2a2a2a" stroke-width="0.95"/>
<circle cx="194.52" cy="133.37" r="2.42" fill="none" stroke="#2a2a2a" stroke-width="0.95"/>
<circle cx="199.04" cy="133.77" r="2.42" fill="none" stroke="#2a2a2a" stroke-width="0.95"/>
<circle cx="203.56" cy="133.73" r="2.42" fill="none" stroke="#2a2a2a" stroke-width="0.95"/>
<circle cx="208.08" cy="133.17" r="2.42" fill="none" stroke="#2a2a2a" stroke-width="0.95"/>
<circle cx="212.6" cy="133.21" r="2.42" fill="none" stroke="#2a2a2a" stroke-width="0.95"/>
<circle cx="190" cy="131.41" r="2.42" fill="none" stroke="#2a2a2a" stroke-width="0.95"/>
<circle cx="193.77" cy="131.36" r="2.42" fill="none" stroke="#2a2a2a" stroke-width="0.95"/>
<circle cx="197.53" cy="131.67" r="2.42" fill="none" stroke="#2a2a2a" stroke-width="0.95"/>
<circle cx="201.3" cy="131.38" r="2.42" fill="none" stroke="#2a2a2a" stroke-width="0.95"/>
<circle cx="205.07" cy="131.52" r="2.42" fill="none" stroke="#2a2a2a" stroke-width="0.95"/>
<circle cx="208.83" cy="131.26" r="2.42" fill="none" stroke="#2a2a2a" stroke-width="0.95"/>
<circle cx="212.6" cy="131.96" r="2.42" fill="none" stroke="#2a2a2a" stroke-width="0.95"/>
<circle cx="190.8" cy="129.62" r="2.42" fill="none" stroke="#2a2a2a" stroke-width="0.95"/>
<circle cx="195" cy="129.71" r="2.42" fill="none" stroke="#2a2a2a" stroke-width="0.95"/>
<circle cx="199.2" cy="129.82" r="2.42" fill="none" stroke="#2a2a2a" stroke-width="0.95"/>
<circle cx="203.4" cy="130.11" r="2.42" fill="none" stroke="#2a2a2a" stroke-width="0.95"/>
<circle cx="207.6" cy="129.68" r="2.42" fill="none" stroke="#2a2a2a" stroke-width="0.95"/>
<circle cx="211.8" cy="130.13" r="2.42" fill="none" stroke="#2a2a2a" stroke-width="0.95"/>
<circle cx="192.3" cy="127.91" r="2.42" fill="none" stroke="#2a2a2a" stroke-width="0.95"/>
<circle cx="196.8" cy="127.94" r="2.42" fill="none" stroke="#2a2a2a" stroke-width="0.95"/>
<circle cx="201.3" cy="127.93" r="2.42" fill="none" stroke="#2a2a2a" stroke-width="0.95"/>
<circle cx="205.8" cy="127.47" r="2.42" fill="none" stroke="#2a2a2a" stroke-width="0.95"/>
<circle cx="210.3" cy="127.85" r="2.42" fill="none" stroke="#2a2a2a" stroke-width="0.95"/>
<circle cx="193.3" cy="125.78" r="2.42" fill="none" stroke="#2a2a2a" stroke-width="0.95"/>
<circle cx="197.3" cy="125.62" r="2.42" fill="none" stroke="#2a2a2a" stroke-width="0.95"/>
<circle cx="201.3" cy="126.33" r="2.42" fill="none" stroke="#2a2a2a" stroke-width="0.95"/>
<circle cx="205.3" cy="125.77" r="2.42" fill="none" stroke="#2a2a2a" stroke-width="0.95"/>
<circle cx="209.3" cy="126.04" r="2.42" fill="none" stroke="#2a2a2a" stroke-width="0.95"/>
<circle cx="194.3" cy="124.43" r="2.42" fill="none" stroke="#2a2a2a" stroke-width="0.95"/>
<circle cx="198.97" cy="124.27" r="2.42" fill="none" stroke="#2a2a2a" stroke-width="0.95"/>
<circle cx="203.63" cy="124.07" r="2.42" fill="none" stroke="#2a2a2a" stroke-width="0.95"/>
<circle cx="208.3" cy="124.24" r="2.42" fill="none" stroke="#2a2a2a" stroke-width="0.95"/>
<circle cx="195.3" cy="122.43" r="2.42" fill="none" stroke="#2a2a2a" stroke-width="0.95"/>
<circle cx="199.3" cy="122.64" r="2.42" fill="none" stroke="#2a2a2a" stroke-width="0.95"/>
<circle cx="203.3" cy="122.03" r="2.42" fill="none" stroke="#2a2a2a" stroke-width="0.95"/>
<circle cx="207.3" cy="122.43" r="2.42" fill="none" stroke="#2a2a2a" stroke-width="0.95"/>
<circle cx="196.3" cy="120.31" r="2.42" fill="none" stroke="#2a2a2a" stroke-width="0.95"/>
<circle cx="201.3" cy="120.34" r="2.42" fill="none" stroke="#2a2a2a" stroke-width="0.95"/>
<circle cx="206.3" cy="120.78" r="2.42" fill="none" stroke="#2a2a2a" stroke-width="0.95"/>
<circle cx="197" cy="118.7" r="2.42" fill="none" stroke="#2a2a2a" stroke-width="0.95"/>
<circle cx="201.3" cy="118.75" r="2.42" fill="none" stroke="#2a2a2a" stroke-width="0.95"/>
<circle cx="205.6" cy="118.93" r="2.42" fill="none" stroke="#2a2a2a" stroke-width="0.95"/>
<circle cx="197.7" cy="117.22" r="2.42" fill="none" stroke="#2a2a2a" stroke-width="0.95"/>
<circle cx="201.3" cy="116.8" r="2.42" fill="none" stroke="#2a2a2a" stroke-width="0.95"/>
<circle cx="204.9" cy="116.95" r="2.42" fill="none" stroke="#2a2a2a" stroke-width="0.95"/>
<circle cx="198.8" cy="115.02" r="2.42" fill="none" stroke="#2a2a2a" stroke-width="0.95"/>
<circle cx="203.8" cy="115.02" r="2.42" fill="none" stroke="#2a2a2a" stroke-width="0.95"/>
<circle cx="197.8" cy="111.73" r="2.42" fill="none" stroke="#2a2a2a" stroke-width="0.95"/>
<circle cx="201.3" cy="111.51" r="2.42" fill="none" stroke="#2a2a2a" stroke-width="0.95"/>
<circle cx="204.8" cy="111.59" r="2.42" fill="none" stroke="#2a2a2a" stroke-width="0.95"/>
<circle cx="199.9" cy="107.62" r="2.42" fill="none" stroke="#2a2a2a" stroke-width="0.95"/>
<circle cx="202.7" cy="108.04" r="2.42" fill="none" stroke="#2a2a2a" stroke-width="0.95"/>
<circle cx="201.3" cy="101.14" r="2.42" fill="none" stroke="#2a2a2a" stroke-width="0.95"/>
<circle cx="201.3" cy="96.7" r="2.42" fill="none" stroke="#2a2a2a" stroke-width="0.95"/>
<g stroke="#2a2a2a" stroke-width="1.8" fill="none">
<line x1="187.9" y1="124.45" x2="214.7" y2="124.45"/>
<line x1="201.3" y1="115.01" x2="201.3" y2="133.89"/>
<line x1="194.8" y1="115.01" x2="207.8" y2="115.01"/>
<line x1="194.8" y1="133.89" x2="207.8" y2="133.89"/>
</g>
<rect x="228.43" y="132.35" width="4.74" height="4.74" fill="none" stroke="#666666" stroke-width="0.95"/>
<rect x="231.23" y="132.14" width="4.74" height="4.74" fill="none" stroke="#666666" stroke-width="0.95"/>
<rect x="234.03" y="132.23" width="4.74" height="4.74" fill="none" stroke="#666666" stroke-width="0.95"/>
<rect x="236.83" y="132.35" width="4.74" height="4.74" fill="none" stroke="#666666" stroke-width="0.95"/>
<rect x="239.63" y="132.32" width="4.74" height="4.74" fill="none" stroke="#666666" stroke-width="0.95"/>
<rect x="242.43" y="132.11" width="4.74" height="4.74" fill="none" stroke="#666666" stroke-width="0.95"/>
<rect x="245.23" y="132.1" width="4.74" height="4.74" fill="none" stroke="#666666" stroke-width="0.95"/>
<rect x="248.03" y="132.2" width="4.74" height="4.74" fill="none" stroke="#666666" stroke-width="0.95"/>
<rect x="250.83" y="132.09" width="4.74" height="4.74" fill="none" stroke="#666666" stroke-width="0.95"/>
<rect x="228.43" y="131.22" width="4.74" height="4.74" fill="none" stroke="#666666" stroke-width="0.95"/>
<rect x="230.92" y="131.16" width="4.74" height="4.74" fill="none" stroke="#666666" stroke-width="0.95"/>
<rect x="233.41" y="131.34" width="4.74" height="4.74" fill="none" stroke="#666666" stroke-width="0.95"/>
<rect x="235.9" y="131.38" width="4.74" height="4.74" fill="none" stroke="#666666" stroke-width="0.95"/>
<rect x="238.38" y="131.41" width="4.74" height="4.74" fill="none" stroke="#666666" stroke-width="0.95"/>
<rect x="240.87" y="131.19" width="4.74" height="4.74" fill="none" stroke="#666666" stroke-width="0.95"/>
<rect x="243.36" y="131.36" width="4.74" height="4.74" fill="none" stroke="#666666" stroke-width="0.95"/>
<rect x="245.85" y="131.34" width="4.74" height="4.74" fill="none" stroke="#666666" stroke-width="0.95"/>
<rect x="248.34" y="131.19" width="4.74" height="4.74" fill="none" stroke="#666666" stroke-width="0.95"/>
<rect x="250.83" y="131.41" width="4.74" height="4.74" fill="none" stroke="#666666" stroke-width="0.95"/>
<rect x="228.43" y="130.51" width="4.74" height="4.74" fill="none" stroke="#666666" stroke-width="0.95"/>
<rect x="230.67" y="130.29" width="4.74" height="4.74" fill="none" stroke="#666666" stroke-width="0.95"/>
<rect x="232.91" y="130.51" width="4.74" height="4.74" fill="none" stroke="#666666" stroke-width="0.95"/>
<rect x="235.15" y="130.34" width="4.74" height="4.74" fill="none" stroke="#666666" stroke-width="0.95"/>
<rect x="237.39" y="130.37" width="4.74" height="4.74" fill="none" stroke="#666666" stroke-width="0.95"/>
<rect x="239.63" y="130.52" width="4.74" height="4.74" fill="none" stroke="#666666" stroke-width="0.95"/>
<rect x="241.87" y="130.47" width="4.74" height="4.74" fill="none" stroke="#666666" stroke-width="0.95"/>
<rect x="244.11" y="130.27" width="4.74" height="4.74" fill="none" stroke="#666666" stroke-width="0.95"/>
<rect x="246.35" y="130.35" width="4.74" height="4.74" fill="none" stroke="#666666" stroke-width="0.95"/>
<rect x="248.59" y="130.38" width="4.74" height="4.74" fill="none" stroke="#666666" stroke-width="0.95"/>
<rect x="250.83" y="130.32" width="4.74" height="4.74" fill="none" stroke="#666666" stroke-width="0.95"/>
<rect x="228.43" y="129.36" width="4.74" height="4.74" fill="none" stroke="#666666" stroke-width="0.95"/>
<rect x="230.67" y="129.4" width="4.74" height="4.74" fill="none" stroke="#666666" stroke-width="0.95"/>
<rect x="232.91" y="129.52" width="4.74" height="4.74" fill="none" stroke="#666666" stroke-width="0.95"/>
<rect x="235.15" y="129.31" width="4.74" height="4.74" fill="none" stroke="#666666" stroke-width="0.95"/>
<rect x="237.39" y="129.47" width="4.74" height="4.74" fill="none" stroke="#666666" stroke-width="0.95"/>
<rect x="239.63" y="129.43" width="4.74" height="4.74" fill="none" stroke="#666666" stroke-width="0.95"/>
<rect x="241.87" y="129.31" width="4.74" height="4.74" fill="none" stroke="#666666" stroke-width="0.95"/>
<rect x="244.11" y="129.4" width="4.74" height="4.74" fill="none" stroke="#666666" stroke-width="0.95"/>
<rect x="246.35" y="129.49" width="4.74" height="4.74" fill="none" stroke="#666666" stroke-width="0.95"/>
<rect x="248.59" y="129.45" width="4.74" height="4.74" fill="none" stroke="#666666" stroke-width="0.95"/>
<rect x="250.83" y="129.32" width="4.74" height="4.74" fill="none" stroke="#666666" stroke-width="0.95"/>
<rect x="228.43" y="128.68" width="4.74" height="4.74" fill="none" stroke="#666666" stroke-width="0.95"/>
<rect x="230.67" y="128.62" width="4.74" height="4.74" fill="none" stroke="#666666" stroke-width="0.95"/>
<rect x="232.91" y="128.67" width="4.74" height="4.74" fill="none" stroke="#666666" stroke-width="0.95"/>
<rect x="235.15" y="128.41" width="4.74" height="4.74" fill="none" stroke="#666666" stroke-width="0.95"/>
<rect x="237.39" y="128.46" width="4.74" height="4.74" fill="none" stroke="#666666" stroke-width="0.95"/>
<rect x="239.63" y="128.39" width="4.74" height="4.74" fill="none" stroke="#666666" stroke-width="0.95"/>
<rect x="241.87" y="128.61" width="4.74" height="4.74" fill="none" stroke="#666666" stroke-width="0.95"/>
<rect x="244.11" y="128.46" width="4.74" height="4.74" fill="none" stroke="#666666" stroke-width="0.95"/>
<rect x="246.35" y="128.42" width="4.74" height="4.74" fill="none" stroke="#666666" stroke-width="0.95"/>
<rect x="248.59" y="128.51" width="4.74" height="4.74" fill="none" stroke="#666666" stroke-width="0.95"/>
<rect x="250.83" y="128.65" width="4.74" height="4.74" fill="none" stroke="#666666" stroke-width="0.95"/>
<rect x="228.43" y="127.82" width="4.74" height="4.74" fill="none" stroke="#666666" stroke-width="0.95"/>
<rect x="230.67" y="127.65" width="4.74" height="4.74" fill="none" stroke="#666666" stroke-width="0.95"/>
<rect x="232.91" y="127.62" width="4.74" height="4.74" fill="none" stroke="#666666" stroke-width="0.95"/>
<rect x="235.15" y="127.85" width="4.74" height="4.74" fill="none" stroke="#666666" stroke-width="0.95"/>
<rect x="237.39" y="127.74" width="4.74" height="4.74" fill="none" stroke="#666666" stroke-width="0.95"/>
<rect x="239.63" y="127.78" width="4.74" height="4.74" fill="none" stroke="#666666" stroke-width="0.95"/>
<rect x="241.87" y="127.6" width="4.74" height="4.74" fill="none" stroke="#666666" stroke-width="0.95"/>
<rect x="244.11" y="127.59" width="4.74" height="4.74" fill="none" stroke="#666666" stroke-width="0.95"/>
<rect x="246.35" y="127.78" width="4.74" height="4.74" fill="none" stroke="#666666" stroke-width="0.95"/>
<rect x="248.59" y="127.7" width="4.74" height="4.74" fill="none" stroke="#666666" stroke-width="0.95"/>
<rect x="250.83" y="127.6" width="4.74" height="4.74" fill="none" stroke="#666666" stroke-width="0.95"/>
<rect x="236.13" y="126.13" width="4.74" height="4.74" fill="none" stroke="#666666" stroke-width="0.95"/>
<rect x="238.46" y="126.04" width="4.74" height="4.74" fill="none" stroke="#666666" stroke-width="0.95"/>
<rect x="240.8" y="126.09" width="4.74" height="4.74" fill="none" stroke="#666666" stroke-width="0.95"/>
<rect x="243.13" y="125.87" width="4.74" height="4.74" fill="none" stroke="#666666" stroke-width="0.95"/>
<rect x="236.13" y="124.26" width="4.74" height="4.74" fill="none" stroke="#666666" stroke-width="0.95"/>
<rect x="239.63" y="124.02" width="4.74" height="4.74" fill="none" stroke="#666666" stroke-width="0.95"/>
<rect x="243.13" y="124.26" width="4.74" height="4.74" fill="none" stroke="#666666" stroke-width="0.95"/>
<rect x="236.33" y="122.3" width="4.74" height="4.74" fill="none" stroke="#666666" stroke-width="0.95"/>
<rect x="239.63" y="122.26" width="4.74" height="4.74" fill="none" stroke="#666666" stroke-width="0.95"/>
<rect x="242.93" y="122.33" width="4.74" height="4.74" fill="none" stroke="#666666" stroke-width="0.95"/>
<rect x="236.33" y="120.6" width="4.74" height="4.74" fill="none" stroke="#666666" stroke-width="0.95"/>
<rect x="239.63" y="120.4" width="4.74" height="4.74" fill="none" stroke="#666666" stroke-width="0.95"/>
<rect x="242.93" y="120.36" width="4.74" height="4.74" fill="none" stroke="#666666" stroke-width="0.95"/>
<rect x="237.63" y="118.41" width="4.74" height="4.74" fill="none" stroke="#666666" stroke-width="0.95"/>
<rect x="241.63" y="118.32" width="4.74" height="4.74" fill="none" stroke="#666666" stroke-width="0.95"/>
<rect x="239.63" y="115.52" width="4.74" height="4.74" fill="none" stroke="#666666" stroke-width="0.95"/>
<rect x="239.63" y="112.31" width="4.74" height="4.74" fill="none" stroke="#666666" stroke-width="0.95"/>
<rect x="239.63" y="109.05" width="4.74" height="4.74" fill="none" stroke="#666666" stroke-width="0.95"/>
<rect x="239.23" y="104.95" width="4.74" height="4.74" fill="none" stroke="#666666" stroke-width="0.95"/>
<rect x="240.03" y="104.98" width="4.74" height="4.74" fill="none" stroke="#666666" stroke-width="0.95"/>
<g stroke="#3c3c3c" stroke-width="1.8" fill="none">
<line x1="228.6" y1="127.45" x2="255.4" y2="127.45"/>
<line x1="242" y1="119.85" x2="242" y2="135.05"/>
<line x1="235.3" y1="119.85" x2="248.7" y2="119.85"/>
<line x1="235.3" y1="135.05" x2="248.7" y2="135.05"/>
</g>
<path d="M276.1 136.24L278.62 141.27L273.58 141.27Z" fill="none" stroke="#a4a4a4" stroke-width="0.95"/>
<path d="M279.1 136.37L281.62 141.41L276.58 141.41Z" fill="none" stroke="#a4a4a4" stroke-width="0.95"/>
<path d="M271.6 134.85L274.12 139.89L269.08 139.89Z" fill="none" stroke="#a4a4a4" stroke-width="0.95"/>
<path d="M274.74 134.92L277.26 139.95L272.23 139.95Z" fill="none" stroke="#a4a4a4" stroke-width="0.95"/>
<path d="M277.89 134.82L280.4 139.85L275.37 139.85Z" fill="none" stroke="#a4a4a4" stroke-width="0.95"/>
<path d="M281.03 134.87L283.55 139.9L278.51 139.9Z" fill="none" stroke="#a4a4a4" stroke-width="0.95"/>
<path d="M284.17 134.77L286.69 139.8L281.65 139.8Z" fill="none" stroke="#a4a4a4" stroke-width="0.95"/>
<path d="M287.31 134.84L289.83 139.87L284.8 139.87Z" fill="none" stroke="#a4a4a4" stroke-width="0.95"/>
<path d="M290.46 134.77L292.97 139.8L287.94 139.8Z" fill="none" stroke="#a4a4a4" stroke-width="0.95"/>
<path d="M293.6 134.99L296.12 140.02L291.08 140.02Z" fill="none" stroke="#a4a4a4" stroke-width="0.95"/>
<path d="M271.6 134.01L274.12 139.04L269.08 139.04Z" fill="none" stroke="#a4a4a4" stroke-width="0.95"/>
<path d="M274.35 133.9L276.87 138.93L271.83 138.93Z" fill="none" stroke="#a4a4a4" stroke-width="0.95"/>
<path d="M277.1 133.99L279.62 139.02L274.58 139.02Z" fill="none" stroke="#a4a4a4" stroke-width="0.95"/>
<path d="M279.85 134.12L282.37 139.16L277.33 139.16Z" fill="none" stroke="#a4a4a4" stroke-width="0.95"/>
<path d="M282.6 133.88L285.12 138.91L280.08 138.91Z" fill="none" stroke="#a4a4a4" stroke-width="0.95"/>
<path d="M285.35 134.09L287.87 139.12L282.83 139.12Z" fill="none" stroke="#a4a4a4" stroke-width="0.95"/>
<path d="M288.1 133.97L290.62 139.01L285.58 139.01Z" fill="none" stroke="#a4a4a4" stroke-width="0.95"/>
<path d="M290.85 133.99L293.37 139.03L288.33 139.03Z" fill="none" stroke="#a4a4a4" stroke-width="0.95"/>
<path d="M293.6 134.09L296.12 139.13L291.08 139.13Z" fill="none" stroke="#a4a4a4" stroke-width="0.95"/>
<path d="M271.6 133.04L274.12 138.07L269.08 138.07Z" fill="none" stroke="#a4a4a4" stroke-width="0.95"/>
<path d="M274.74 133.08L277.26 138.11L272.23 138.11Z" fill="none" stroke="#a4a4a4" stroke-width="0.95"/>
<path d="M277.89 133.13L280.4 138.16L275.37 138.16Z" fill="none" stroke="#a4a4a4" stroke-width="0.95"/>
<path d="M281.03 133.22L283.55 138.25L278.51 138.25Z" fill="none" stroke="#a4a4a4" stroke-width="0.95"/>
<path d="M284.17 133.03L286.69 138.06L281.65 138.06Z" fill="none" stroke="#a4a4a4" stroke-width="0.95"/>
<path d="M287.31 133.17L289.83 138.21L284.8 138.21Z" fill="none" stroke="#a4a4a4" stroke-width="0.95"/>
<path d="M290.46 133.14L292.97 138.17L287.94 138.17Z" fill="none" stroke="#a4a4a4" stroke-width="0.95"/>
<path d="M293.6 133.11L296.12 138.15L291.08 138.15Z" fill="none" stroke="#a4a4a4" stroke-width="0.95"/>
<path d="M274.1 132.12L276.62 137.16L271.58 137.16Z" fill="none" stroke="#a4a4a4" stroke-width="0.95"/>
<path d="M278.35 132.11L280.87 137.14L275.83 137.14Z" fill="none" stroke="#a4a4a4" stroke-width="0.95"/>
<path d="M282.6 132.02L285.12 137.05L280.08 137.05Z" fill="none" stroke="#a4a4a4" stroke-width="0.95"/>
<path d="M286.85 132.04L289.37 137.07L284.33 137.07Z" fill="none" stroke="#a4a4a4" stroke-width="0.95"/>
<path d="M291.1 132.02L293.62 137.06L288.58 137.06Z" fill="none" stroke="#a4a4a4" stroke-width="0.95"/>
<path d="M278.6 131.3L281.12 136.34L276.08 136.34Z" fill="none" stroke="#a4a4a4" stroke-width="0.95"/>
<path d="M283.6 131.16L286.12 136.19L281.08 136.19Z" fill="none" stroke="#a4a4a4" stroke-width="0.95"/>
<path d="M288.6 131.13L291.12 136.16L286.08 136.16Z" fill="none" stroke="#a4a4a4" stroke-width="0.95"/>
<path d="M274.9 128.7L277.42 133.73L272.38 133.73Z" fill="none" stroke="#a4a4a4" stroke-width="0.95"/>
<path d="M279.7 127.78L282.22 132.81L277.18 132.81Z" fill="none" stroke="#a4a4a4" stroke-width="0.95"/>
<path d="M282.8 128.93L285.32 133.96L280.28 133.96Z" fill="none" stroke="#a4a4a4" stroke-width="0.95"/>
<path d="M285.7 131L288.22 136.03L283.18 136.03Z" fill="none" stroke="#a4a4a4" stroke-width="0.95"/>
<path d="M289.1 129.39L291.62 134.42L286.58 134.42Z" fill="none" stroke="#a4a4a4" stroke-width="0.95"/>
<g stroke="#3c3c3c" stroke-width="1.8" fill="none">
<line x1="269.1" y1="135.51" x2="296.1" y2="135.51"/>
<line x1="282.6" y1="132.74" x2="282.6" y2="138.5"/>
<line x1="276.2" y1="132.74" x2="289" y2="132.74"/>
<line x1="276.2" y1="138.5" x2="289" y2="138.5"/>
</g>
<line x1="240" y1="37.2" x2="287.7" y2="37.2" stroke="#9a9a9a" stroke-width="0.9"/>
<text x="263.6" y="33.54" font-size="7.8" fill="#8a8a8a" text-anchor="middle">p&lt;0.0001</text>
<line x1="199" y1="52.3" x2="284.4" y2="52.3" stroke="#9a9a9a" stroke-width="0.9"/>
<text x="241.7" y="48.54" font-size="7.8" fill="#8a8a8a" text-anchor="middle">p&lt;0.0001</text>
<line x1="198.5" y1="68.3" x2="245" y2="68.3" stroke="#9a9a9a" stroke-width="0.9" stroke-dasharray="2.5 1.4"/>
<text x="222" y="64.34" font-size="7.8" fill="#8a8a8a" text-anchor="middle">p&lt;0.0001</text>
<g stroke="#333" stroke-width="1.1" fill="none">
<line x1="373.3" y1="56.2" x2="373.3" y2="142.9"/>
<line x1="372.8" y1="142.4" x2="502" y2="142.4"/>
<line x1="371" y1="142.4" x2="373.3" y2="142.4"/>
<line x1="371" y1="128.12" x2="373.3" y2="128.12"/>
<line x1="371" y1="113.83" x2="373.3" y2="113.83"/>
<line x1="371" y1="99.55" x2="373.3" y2="99.55"/>
<line x1="371" y1="85.27" x2="373.3" y2="85.27"/>
<line x1="371" y1="70.98" x2="373.3" y2="70.98"/>
<line x1="371" y1="56.7" x2="373.3" y2="56.7"/>
<line x1="394.6" y1="142.4" x2="394.6" y2="144.9"/>
<line x1="437.5" y1="142.4" x2="437.5" y2="144.9"/>
<line x1="480.6" y1="142.4" x2="480.6" y2="144.9"/>
</g>
<g font-size="6.4" font-weight="bold" fill="#1a1a1a" stroke="#1a1a1a" stroke-width="0.1" text-anchor="end">
<text x="370.1" y="144.45">0</text>
<text x="370.1" y="130.16">150</text>
<text x="370.1" y="115.88">300</text>
<text x="370.1" y="101.6">450</text>
<text x="370.1" y="87.31">600</text>
<text x="370.1" y="73.03">750</text>
<text x="370.1" y="58.75">900</text>
</g>
<g font-size="9.6" font-weight="bold" fill="#1a1a1a" stroke="#1a1a1a" stroke-width="0.12" text-anchor="end">
<text transform="translate(398.8 151.7) rotate(-45)">T0_HAd</text>
<text transform="translate(441.7 151.7) rotate(-45)">T1_HAd</text>
<text transform="translate(484.8 151.7) rotate(-45)">CTRL</text>
</g>
<text transform="translate(355 99.55) rotate(-90)" font-size="9" font-weight="bold" fill="#1a1a1a" stroke="#1a1a1a" stroke-width="0.16" text-anchor="middle">6MWT distance (m)</text>
<circle cx="394.6" cy="70.46" r="2.42" fill="none" stroke="#2a2a2a" stroke-width="0.95"/>
<circle cx="390.6" cy="74.85" r="2.42" fill="none" stroke="#2a2a2a" stroke-width="0.95"/>
<circle cx="394.6" cy="74.92" r="2.42" fill="none" stroke="#2a2a2a" stroke-width="0.95"/>
<circle cx="398.6" cy="74.44" r="2.42" fill="none" stroke="#2a2a2a" stroke-width="0.95"/>
<circle cx="388.6" cy="75.98" r="2.42" fill="none" stroke="#2a2a2a" stroke-width="0.95"/>
<circle cx="392.6" cy="75.89" r="2.42" fill="none" stroke="#2a2a2a" stroke-width="0.95"/>
<circle cx="396.6" cy="76.01" r="2.42" fill="none" stroke="#2a2a2a" stroke-width="0.95"/>
<circle cx="400.6" cy="76.41" r="2.42" fill="none" stroke="#2a2a2a" stroke-width="0.95"/>
<circle cx="386.6" cy="78.16" r="2.42" fill="none" stroke="#2a2a2a" stroke-width="0.95"/>
<circle cx="390.6" cy="78.85" r="2.42" fill="none" stroke="#2a2a2a" stroke-width="0.95"/>
<circle cx="394.6" cy="78.41" r="2.42" fill="none" stroke="#2a2a2a" stroke-width="0.95"/>
<circle cx="398.6" cy="80.09" r="2.42" fill="none" stroke="#2a2a2a" stroke-width="0.95"/>
<circle cx="402.6" cy="80.12" r="2.42" fill="none" stroke="#2a2a2a" stroke-width="0.95"/>
<circle cx="383.6" cy="81.57" r="2.42" fill="none" stroke="#2a2a2a" stroke-width="0.95"/>
<circle cx="387.27" cy="80.84" r="2.42" fill="none" stroke="#2a2a2a" stroke-width="0.95"/>
<circle cx="390.93" cy="82.58" r="2.42" fill="none" stroke="#2a2a2a" stroke-width="0.95"/>
<circle cx="394.6" cy="81" r="2.42" fill="none" stroke="#2a2a2a" stroke-width="0.95"/>
<circle cx="398.27" cy="81.11" r="2.42" fill="none" stroke="#2a2a2a" stroke-width="0.95"/>
<circle cx="401.93" cy="80.26" r="2.42" fill="none" stroke="#2a2a2a" stroke-width="0.95"/>
<circle cx="405.6" cy="81.17" r="2.42" fill="none" stroke="#2a2a2a" stroke-width="0.95"/>
<circle cx="382.9" cy="83.87" r="2.42" fill="none" stroke="#2a2a2a" stroke-width="0.95"/>
<circle cx="386.24" cy="83.94" r="2.42" fill="none" stroke="#2a2a2a" stroke-width="0.95"/>
<circle cx="389.59" cy="83.22" r="2.42" fill="none" stroke="#2a2a2a" stroke-width="0.95"/>
<circle cx="392.93" cy="83.94" r="2.42" fill="none" stroke="#2a2a2a" stroke-width="0.95"/>
<circle cx="396.27" cy="82.75" r="2.42" fill="none" stroke="#2a2a2a" stroke-width="0.95"/>
<circle cx="399.61" cy="83.37" r="2.42" fill="none" stroke="#2a2a2a" stroke-width="0.95"/>
<circle cx="402.96" cy="82.95" r="2.42" fill="none" stroke="#2a2a2a" stroke-width="0.95"/>
<circle cx="406.3" cy="83.69" r="2.42" fill="none" stroke="#2a2a2a" stroke-width="0.95"/>
<circle cx="383.6" cy="85.31" r="2.42" fill="none" stroke="#2a2a2a" stroke-width="0.95"/>
<circle cx="387.27" cy="85.26" r="2.42" fill="none" stroke="#2a2a2a" stroke-width="0.95"/>
<circle cx="390.93" cy="85.94" r="2.42" fill="none" stroke="#2a2a2a" stroke-width="0.95"/>
<circle cx="394.6" cy="85.77" r="2.42" fill="none" stroke="#2a2a2a" stroke-width="0.95"/>
<circle cx="398.27" cy="86.61" r="2.42" fill="none" stroke="#2a2a2a" stroke-width="0.95"/>
<circle cx="401.93" cy="86.48" r="2.42" fill="none" stroke="#2a2a2a" stroke-width="0.95"/>
<circle cx="405.6" cy="87.01" r="2.42" fill="none" stroke="#2a2a2a" stroke-width="0.95"/>
<circle cx="384.3" cy="89.26" r="2.42" fill="none" stroke="#2a2a2a" stroke-width="0.95"/>
<circle cx="387.73" cy="89.4" r="2.42" fill="none" stroke="#2a2a2a" stroke-width="0.95"/>
<circle cx="391.17" cy="89.79" r="2.42" fill="none" stroke="#2a2a2a" stroke-width="0.95"/>
<circle cx="394.6" cy="88.62" r="2.42" fill="none" stroke="#2a2a2a" stroke-width="0.95"/>
<circle cx="398.03" cy="88.47" r="2.42" fill="none" stroke="#2a2a2a" stroke-width="0.95"/>
<circle cx="401.47" cy="90.05" r="2.42" fill="none" stroke="#2a2a2a" stroke-width="0.95"/>
<circle cx="404.9" cy="88.04" r="2.42" fill="none" stroke="#2a2a2a" stroke-width="0.95"/>
<circle cx="385.1" cy="91.9" r="2.42" fill="none" stroke="#2a2a2a" stroke-width="0.95"/>
<circle cx="388.9" cy="91.7" r="2.42" fill="none" stroke="#2a2a2a" stroke-width="0.95"/>
<circle cx="392.7" cy="90.27" r="2.42" fill="none" stroke="#2a2a2a" stroke-width="0.95"/>
<circle cx="396.5" cy="92.17" r="2.42" fill="none" stroke="#2a2a2a" stroke-width="0.95"/>
<circle cx="400.3" cy="92.3" r="2.42" fill="none" stroke="#2a2a2a" stroke-width="0.95"/>
<circle cx="404.1" cy="91.67" r="2.42" fill="none" stroke="#2a2a2a" stroke-width="0.95"/>
<circle cx="385.6" cy="94.4" r="2.42" fill="none" stroke="#2a2a2a" stroke-width="0.95"/>
<circle cx="389.2" cy="94.59" r="2.42" fill="none" stroke="#2a2a2a" stroke-width="0.95"/>
<circle cx="392.8" cy="92.97" r="2.42" fill="none" stroke="#2a2a2a" stroke-width="0.95"/>
<circle cx="396.4" cy="93.89" r="2.42" fill="none" stroke="#2a2a2a" stroke-width="0.95"/>
<circle cx="400" cy="93.85" r="2.42" fill="none" stroke="#2a2a2a" stroke-width="0.95"/>
<circle cx="403.6" cy="94.64" r="2.42" fill="none" stroke="#2a2a2a" stroke-width="0.95"/>
<circle cx="387.1" cy="97.04" r="2.42" fill="none" stroke="#2a2a2a" stroke-width="0.95"/>
<circle cx="390.85" cy="97.1" r="2.42" fill="none" stroke="#2a2a2a" stroke-width="0.95"/>
<circle cx="394.6" cy="96.51" r="2.42" fill="none" stroke="#2a2a2a" stroke-width="0.95"/>
<circle cx="398.35" cy="97.26" r="2.42" fill="none" stroke="#2a2a2a" stroke-width="0.95"/>
<circle cx="402.1" cy="96.75" r="2.42" fill="none" stroke="#2a2a2a" stroke-width="0.95"/>
<circle cx="388" cy="99.25" r="2.42" fill="none" stroke="#2a2a2a" stroke-width="0.95"/>
<circle cx="391.3" cy="98.14" r="2.42" fill="none" stroke="#2a2a2a" stroke-width="0.95"/>
<circle cx="394.6" cy="97.66" r="2.42" fill="none" stroke="#2a2a2a" stroke-width="0.95"/>
<circle cx="397.9" cy="97.91" r="2.42" fill="none" stroke="#2a2a2a" stroke-width="0.95"/>
<circle cx="401.2" cy="98.45" r="2.42" fill="none" stroke="#2a2a2a" stroke-width="0.95"/>
<circle cx="388.6" cy="100.32" r="2.42" fill="none" stroke="#2a2a2a" stroke-width="0.95"/>
<circle cx="392.6" cy="102.07" r="2.42" fill="none" stroke="#2a2a2a" stroke-width="0.95"/>
<circle cx="396.6" cy="101.4" r="2.42" fill="none" stroke="#2a2a2a" stroke-width="0.95"/>
<circle cx="400.6" cy="101.57" r="2.42" fill="none" stroke="#2a2a2a" stroke-width="0.95"/>
<circle cx="388.9" cy="104.04" r="2.42" fill="none" stroke="#2a2a2a" stroke-width="0.95"/>
<circle cx="392.7" cy="104.17" r="2.42" fill="none" stroke="#2a2a2a" stroke-width="0.95"/>
<circle cx="396.5" cy="103.71" r="2.42" fill="none" stroke="#2a2a2a" stroke-width="0.95"/>
<circle cx="400.3" cy="102.55" r="2.42" fill="none" stroke="#2a2a2a" stroke-width="0.95"/>
<circle cx="389.6" cy="106.93" r="2.42" fill="none" stroke="#2a2a2a" stroke-width="0.95"/>
<circle cx="392.93" cy="106.81" r="2.42" fill="none" stroke="#2a2a2a" stroke-width="0.95"/>
<circle cx="396.27" cy="106.22" r="2.42" fill="none" stroke="#2a2a2a" stroke-width="0.95"/>
<circle cx="399.6" cy="106.3" r="2.42" fill="none" stroke="#2a2a2a" stroke-width="0.95"/>
<circle cx="390.3" cy="109.07" r="2.42" fill="none" stroke="#2a2a2a" stroke-width="0.95"/>
<circle cx="394.6" cy="107.65" r="2.42" fill="none" stroke="#2a2a2a" stroke-width="0.95"/>
<circle cx="398.9" cy="109.26" r="2.42" fill="none" stroke="#2a2a2a" stroke-width="0.95"/>
<circle cx="391.3" cy="110.57" r="2.42" fill="none" stroke="#2a2a2a" stroke-width="0.95"/>
<circle cx="394.6" cy="110.15" r="2.42" fill="none" stroke="#2a2a2a" stroke-width="0.95"/>
<circle cx="397.9" cy="110.6" r="2.42" fill="none" stroke="#2a2a2a" stroke-width="0.95"/>
<circle cx="392.6" cy="114.19" r="2.42" fill="none" stroke="#2a2a2a" stroke-width="0.95"/>
<circle cx="396.6" cy="112.94" r="2.42" fill="none" stroke="#2a2a2a" stroke-width="0.95"/>
<circle cx="393.1" cy="116.69" r="2.42" fill="none" stroke="#2a2a2a" stroke-width="0.95"/>
<circle cx="396.1" cy="117.26" r="2.42" fill="none" stroke="#2a2a2a" stroke-width="0.95"/>
<circle cx="393.1" cy="118.58" r="2.42" fill="none" stroke="#2a2a2a" stroke-width="0.95"/>
<circle cx="396.1" cy="118.31" r="2.42" fill="none" stroke="#2a2a2a" stroke-width="0.95"/>
<circle cx="394.6" cy="120.92" r="2.42" fill="none" stroke="#2a2a2a" stroke-width="0.95"/>
<g stroke="#2a2a2a" stroke-width="1.8" fill="none">
<line x1="380.3" y1="92.79" x2="408.9" y2="92.79"/>
<line x1="394.6" y1="83.17" x2="394.6" y2="102.41"/>
<line x1="388.3" y1="83.17" x2="400.9" y2="83.17"/>
<line x1="388.3" y1="102.41" x2="400.9" y2="102.41"/>
</g>
<rect x="435.13" y="64.5" width="4.74" height="4.74" fill="none" stroke="#666666" stroke-width="0.95"/>
<rect x="429.83" y="69.34" width="4.74" height="4.74" fill="none" stroke="#666666" stroke-width="0.95"/>
<rect x="433.36" y="69.04" width="4.74" height="4.74" fill="none" stroke="#666666" stroke-width="0.95"/>
<rect x="436.9" y="69.09" width="4.74" height="4.74" fill="none" stroke="#666666" stroke-width="0.95"/>
<rect x="440.43" y="67.96" width="4.74" height="4.74" fill="none" stroke="#666666" stroke-width="0.95"/>
<rect x="429.83" y="70.57" width="4.74" height="4.74" fill="none" stroke="#666666" stroke-width="0.95"/>
<rect x="433.36" y="70.79" width="4.74" height="4.74" fill="none" stroke="#666666" stroke-width="0.95"/>
<rect x="436.9" y="71.76" width="4.74" height="4.74" fill="none" stroke="#666666" stroke-width="0.95"/>
<rect x="440.43" y="70.89" width="4.74" height="4.74" fill="none" stroke="#666666" stroke-width="0.95"/>
<rect x="429.63" y="73.98" width="4.74" height="4.74" fill="none" stroke="#666666" stroke-width="0.95"/>
<rect x="433.3" y="72.87" width="4.74" height="4.74" fill="none" stroke="#666666" stroke-width="0.95"/>
<rect x="436.96" y="72.97" width="4.74" height="4.74" fill="none" stroke="#666666" stroke-width="0.95"/>
<rect x="440.63" y="73.39" width="4.74" height="4.74" fill="none" stroke="#666666" stroke-width="0.95"/>
<rect x="428.13" y="77.05" width="4.74" height="4.74" fill="none" stroke="#666666" stroke-width="0.95"/>
<rect x="431.63" y="77.09" width="4.74" height="4.74" fill="none" stroke="#666666" stroke-width="0.95"/>
<rect x="435.13" y="77.06" width="4.74" height="4.74" fill="none" stroke="#666666" stroke-width="0.95"/>
<rect x="438.63" y="76.29" width="4.74" height="4.74" fill="none" stroke="#666666" stroke-width="0.95"/>
<rect x="442.13" y="76.74" width="4.74" height="4.74" fill="none" stroke="#666666" stroke-width="0.95"/>
<rect x="425.13" y="79.49" width="4.74" height="4.74" fill="none" stroke="#666666" stroke-width="0.95"/>
<rect x="428.46" y="79.49" width="4.74" height="4.74" fill="none" stroke="#666666" stroke-width="0.95"/>
<rect x="431.8" y="78.8" width="4.74" height="4.74" fill="none" stroke="#666666" stroke-width="0.95"/>
<rect x="435.13" y="80.35" width="4.74" height="4.74" fill="none" stroke="#666666" stroke-width="0.95"/>
<rect x="438.46" y="78.96" width="4.74" height="4.74" fill="none" stroke="#666666" stroke-width="0.95"/>
<rect x="441.8" y="80.52" width="4.74" height="4.74" fill="none" stroke="#666666" stroke-width="0.95"/>
<rect x="445.13" y="80.43" width="4.74" height="4.74" fill="none" stroke="#666666" stroke-width="0.95"/>
<rect x="423.63" y="81.17" width="4.74" height="4.74" fill="none" stroke="#666666" stroke-width="0.95"/>
<rect x="426.91" y="82.05" width="4.74" height="4.74" fill="none" stroke="#666666" stroke-width="0.95"/>
<rect x="430.2" y="82.77" width="4.74" height="4.74" fill="none" stroke="#666666" stroke-width="0.95"/>
<rect x="433.49" y="83.07" width="4.74" height="4.74" fill="none" stroke="#666666" stroke-width="0.95"/>
<rect x="436.77" y="82.03" width="4.74" height="4.74" fill="none" stroke="#666666" stroke-width="0.95"/>
<rect x="440.06" y="81.67" width="4.74" height="4.74" fill="none" stroke="#666666" stroke-width="0.95"/>
<rect x="443.34" y="81.55" width="4.74" height="4.74" fill="none" stroke="#666666" stroke-width="0.95"/>
<rect x="446.63" y="83.02" width="4.74" height="4.74" fill="none" stroke="#666666" stroke-width="0.95"/>
<rect x="423.63" y="84.03" width="4.74" height="4.74" fill="none" stroke="#666666" stroke-width="0.95"/>
<rect x="426.91" y="84.77" width="4.74" height="4.74" fill="none" stroke="#666666" stroke-width="0.95"/>
<rect x="430.2" y="83.89" width="4.74" height="4.74" fill="none" stroke="#666666" stroke-width="0.95"/>
<rect x="433.49" y="84.66" width="4.74" height="4.74" fill="none" stroke="#666666" stroke-width="0.95"/>
<rect x="436.77" y="85.51" width="4.74" height="4.74" fill="none" stroke="#666666" stroke-width="0.95"/>
<rect x="440.06" y="83.87" width="4.74" height="4.74" fill="none" stroke="#666666" stroke-width="0.95"/>
<rect x="443.34" y="85.25" width="4.74" height="4.74" fill="none" stroke="#666666" stroke-width="0.95"/>
<rect x="446.63" y="84.63" width="4.74" height="4.74" fill="none" stroke="#666666" stroke-width="0.95"/>
<rect x="427.13" y="87.95" width="4.74" height="4.74" fill="none" stroke="#666666" stroke-width="0.95"/>
<rect x="430.33" y="87.59" width="4.74" height="4.74" fill="none" stroke="#666666" stroke-width="0.95"/>
<rect x="433.53" y="86.64" width="4.74" height="4.74" fill="none" stroke="#666666" stroke-width="0.95"/>
<rect x="436.73" y="87.98" width="4.74" height="4.74" fill="none" stroke="#666666" stroke-width="0.95"/>
<rect x="439.93" y="87.15" width="4.74" height="4.74" fill="none" stroke="#666666" stroke-width="0.95"/>
<rect x="443.13" y="86.23" width="4.74" height="4.74" fill="none" stroke="#666666" stroke-width="0.95"/>
<rect x="428.53" y="88.76" width="4.74" height="4.74" fill="none" stroke="#666666" stroke-width="0.95"/>
<rect x="431.83" y="89.73" width="4.74" height="4.74" fill="none" stroke="#666666" stroke-width="0.95"/>
<rect x="435.13" y="89.65" width="4.74" height="4.74" fill="none" stroke="#666666" stroke-width="0.95"/>
<rect x="438.43" y="89.35" width="4.74" height="4.74" fill="none" stroke="#666666" stroke-width="0.95"/>
<rect x="441.73" y="89.03" width="4.74" height="4.74" fill="none" stroke="#666666" stroke-width="0.95"/>
<rect x="428.53" y="92.11" width="4.74" height="4.74" fill="none" stroke="#666666" stroke-width="0.95"/>
<rect x="431.83" y="92.05" width="4.74" height="4.74" fill="none" stroke="#666666" stroke-width="0.95"/>
<rect x="435.13" y="93.1" width="4.74" height="4.74" fill="none" stroke="#666666" stroke-width="0.95"/>
<rect x="438.43" y="91.42" width="4.74" height="4.74" fill="none" stroke="#666666" stroke-width="0.95"/>
<rect x="441.73" y="92.92" width="4.74" height="4.74" fill="none" stroke="#666666" stroke-width="0.95"/>
<rect x="428.53" y="95.76" width="4.74" height="4.74" fill="none" stroke="#666666" stroke-width="0.95"/>
<rect x="431.83" y="94.32" width="4.74" height="4.74" fill="none" stroke="#666666" stroke-width="0.95"/>
<rect x="435.13" y="95.94" width="4.74" height="4.74" fill="none" stroke="#666666" stroke-width="0.95"/>
<rect x="438.43" y="95.51" width="4.74" height="4.74" fill="none" stroke="#666666" stroke-width="0.95"/>
<rect x="441.73" y="95.89" width="4.74" height="4.74" fill="none" stroke="#666666" stroke-width="0.95"/>
<rect x="429.13" y="96.95" width="4.74" height="4.74" fill="none" stroke="#666666" stroke-width="0.95"/>
<rect x="433.13" y="97.11" width="4.74" height="4.74" fill="none" stroke="#666666" stroke-width="0.95"/>
<rect x="437.13" y="97.15" width="4.74" height="4.74" fill="none" stroke="#666666" stroke-width="0.95"/>
<rect x="441.13" y="98.37" width="4.74" height="4.74" fill="none" stroke="#666666" stroke-width="0.95"/>
<rect x="432.13" y="100.69" width="4.74" height="4.74" fill="none" stroke="#666666" stroke-width="0.95"/>
<rect x="435.13" y="100.23" width="4.74" height="4.74" fill="none" stroke="#666666" stroke-width="0.95"/>
<rect x="438.13" y="100.37" width="4.74" height="4.74" fill="none" stroke="#666666" stroke-width="0.95"/>
<rect x="432.83" y="102.92" width="4.74" height="4.74" fill="none" stroke="#666666" stroke-width="0.95"/>
<rect x="437.43" y="102.46" width="4.74" height="4.74" fill="none" stroke="#666666" stroke-width="0.95"/>
<rect x="432.83" y="105.43" width="4.74" height="4.74" fill="none" stroke="#666666" stroke-width="0.95"/>
<rect x="437.43" y="106.89" width="4.74" height="4.74" fill="none" stroke="#666666" stroke-width="0.95"/>
<rect x="433.13" y="108.65" width="4.74" height="4.74" fill="none" stroke="#666666" stroke-width="0.95"/>
<rect x="437.13" y="109.95" width="4.74" height="4.74" fill="none" stroke="#666666" stroke-width="0.95"/>
<rect x="435.13" y="111.91" width="4.74" height="4.74" fill="none" stroke="#666666" stroke-width="0.95"/>
<rect x="435.13" y="116.42" width="4.74" height="4.74" fill="none" stroke="#666666" stroke-width="0.95"/>
<rect x="435.13" y="127.96" width="4.74" height="4.74" fill="none" stroke="#666666" stroke-width="0.95"/>
<g stroke="#3c3c3c" stroke-width="1.8" fill="none">
<line x1="423.2" y1="88.79" x2="451.8" y2="88.79"/>
<line x1="437.5" y1="77.46" x2="437.5" y2="100.79"/>
<line x1="431.2" y1="77.46" x2="443.8" y2="77.46"/>
<line x1="431.2" y1="100.79" x2="443.8" y2="100.79"/>
</g>
<path d="M468.6 66.09L471.12 71.12L466.08 71.12Z" fill="none" stroke="#a4a4a4" stroke-width="0.95"/>
<path d="M473.4 66.57L475.92 71.6L470.88 71.6Z" fill="none" stroke="#a4a4a4" stroke-width="0.95"/>
<path d="M478.3 64.47L480.82 69.5L475.78 69.5Z" fill="none" stroke="#a4a4a4" stroke-width="0.95"/>
<path d="M492.2 66.09L494.72 71.12L489.68 71.12Z" fill="none" stroke="#a4a4a4" stroke-width="0.95"/>
<path d="M468.6 72.47L471.12 77.5L466.08 77.5Z" fill="none" stroke="#a4a4a4" stroke-width="0.95"/>
<path d="M473.4 74.09L475.92 79.12L470.88 79.12Z" fill="none" stroke="#a4a4a4" stroke-width="0.95"/>
<path d="M478.3 72.95L480.82 77.98L475.78 77.98Z" fill="none" stroke="#a4a4a4" stroke-width="0.95"/>
<path d="M482.9 75.71L485.42 80.74L480.38 80.74Z" fill="none" stroke="#a4a4a4" stroke-width="0.95"/>
<path d="M487.5 75.04L490.02 80.07L484.98 80.07Z" fill="none" stroke="#a4a4a4" stroke-width="0.95"/>
<path d="M492.2 72.47L494.72 77.5L489.68 77.5Z" fill="none" stroke="#a4a4a4" stroke-width="0.95"/>
<path d="M473.4 78.75L475.92 83.79L470.88 83.79Z" fill="none" stroke="#a4a4a4" stroke-width="0.95"/>
<path d="M478.3 77.8L480.82 82.84L475.78 82.84Z" fill="none" stroke="#a4a4a4" stroke-width="0.95"/>
<path d="M487.5 78.75L490.02 83.79L484.98 83.79Z" fill="none" stroke="#a4a4a4" stroke-width="0.95"/>
<path d="M473.4 85.71L475.92 90.74L470.88 90.74Z" fill="none" stroke="#a4a4a4" stroke-width="0.95"/>
<path d="M478.3 84.66L480.82 89.69L475.78 89.69Z" fill="none" stroke="#a4a4a4" stroke-width="0.95"/>
<path d="M483.6 83.61L486.12 88.64L481.08 88.64Z" fill="none" stroke="#a4a4a4" stroke-width="0.95"/>
<path d="M478.3 91.04L480.82 96.07L475.78 96.07Z" fill="none" stroke="#a4a4a4" stroke-width="0.95"/>
<path d="M482.9 91.04L485.42 96.07L480.38 96.07Z" fill="none" stroke="#a4a4a4" stroke-width="0.95"/>
<path d="M473.4 100.66L475.92 105.69L470.88 105.69Z" fill="none" stroke="#a4a4a4" stroke-width="0.95"/>
<path d="M487.5 102.08L490.02 107.12L484.98 107.12Z" fill="none" stroke="#a4a4a4" stroke-width="0.95"/>
<path d="M473.4 106.75L475.92 111.78L470.88 111.78Z" fill="none" stroke="#a4a4a4" stroke-width="0.95"/>
<path d="M482.6 105.04L485.12 110.07L480.08 110.07Z" fill="none" stroke="#a4a4a4" stroke-width="0.95"/>
<g stroke="#3c3c3c" stroke-width="1.8" fill="none">
<line x1="466.3" y1="84.31" x2="494.9" y2="84.31"/>
<line x1="480.6" y1="71.36" x2="480.6" y2="97.36"/>
<line x1="473.6" y1="71.36" x2="487.6" y2="71.36"/>
<line x1="473.6" y1="97.36" x2="487.6" y2="97.36"/>
</g>
<line x1="437.5" y1="10.4" x2="620" y2="10.4" stroke="#9a9a9a" stroke-width="0.8" stroke-dasharray="0.9 1.6"/>
<text x="520.7" y="6.74" font-size="7.8" fill="#8a8a8a" text-anchor="middle">p&lt;0.0011</text>
<line x1="435.5" y1="26.1" x2="486.3" y2="26.1" stroke="#9a9a9a" stroke-width="0.9"/>
<text x="461" y="22.54" font-size="7.8" fill="#8a8a8a" text-anchor="middle">ns</text>
<line x1="392.8" y1="42.7" x2="482.8" y2="42.7" stroke="#9a9a9a" stroke-width="0.9"/>
<text x="437.5" y="38.24" font-size="7.8" fill="#8a8a8a" text-anchor="middle">p&lt;0.05</text>
<line x1="392" y1="56.5" x2="440.6" y2="56.5" stroke="#9a9a9a" stroke-width="0.9" stroke-dasharray="2.5 1.4"/>
<text x="416.7" y="53.54" font-size="7.8" fill="#8a8a8a" text-anchor="middle">p&lt;0.0001</text>
<g stroke="#333" stroke-width="1.1" fill="none">
<line x1="549.7" y1="52.9" x2="549.7" y2="136.8"/>
<line x1="549.2" y1="136.3" x2="675.5" y2="136.3"/>
<line x1="547.4" y1="136.3" x2="549.7" y2="136.3"/>
<line x1="547.4" y1="122.48" x2="549.7" y2="122.48"/>
<line x1="547.4" y1="108.67" x2="549.7" y2="108.67"/>
<line x1="547.4" y1="94.85" x2="549.7" y2="94.85"/>
<line x1="547.4" y1="81.03" x2="549.7" y2="81.03"/>
<line x1="547.4" y1="67.22" x2="549.7" y2="67.22"/>
<line x1="547.4" y1="53.4" x2="549.7" y2="53.4"/>
<line x1="570.6" y1="136.3" x2="570.6" y2="138.8"/>
<line x1="612" y1="136.3" x2="612" y2="138.8"/>
<line x1="654" y1="136.3" x2="654" y2="138.8"/>
</g>
<g font-size="6.4" font-weight="bold" fill="#1a1a1a" stroke="#1a1a1a" stroke-width="0.1" text-anchor="end">
<text x="546.5" y="138.35">0</text>
<text x="546.5" y="124.53">150</text>
<text x="546.5" y="110.71">300</text>
<text x="546.5" y="96.9">450</text>
<text x="546.5" y="83.08">600</text>
<text x="546.5" y="69.26">750</text>
<text x="546.5" y="55.45">900</text>
</g>
<g font-size="9.4" font-weight="bold" fill="#1a1a1a" stroke="#1a1a1a" stroke-width="0.12" text-anchor="end">
<text transform="translate(574.7 145.5) rotate(-45)">T0_MAd</text>
<text transform="translate(616.1 145.5) rotate(-45)">T1_MAd</text>
<text transform="translate(658.1 145.5) rotate(-45)">CTRL</text>
</g>
<text transform="translate(520.6 94.85) rotate(-90)" font-size="9" font-weight="bold" fill="#1a1a1a" stroke="#1a1a1a" stroke-width="0.16" text-anchor="middle">6MWT distance (m)</text>
<circle cx="570.6" cy="123.5" r="2.42" fill="none" stroke="#2a2a2a" stroke-width="0.95"/>
<circle cx="567.3" cy="110.23" r="2.42" fill="none" stroke="#2a2a2a" stroke-width="0.95"/>
<circle cx="572.1" cy="109.59" r="2.42" fill="none" stroke="#2a2a2a" stroke-width="0.95"/>
<circle cx="569.8" cy="108.67" r="2.42" fill="none" stroke="#2a2a2a" stroke-width="0.95"/>
<circle cx="575.1" cy="108.94" r="2.42" fill="none" stroke="#2a2a2a" stroke-width="0.95"/>
<circle cx="566.6" cy="100.93" r="2.42" fill="none" stroke="#2a2a2a" stroke-width="0.95"/>
<circle cx="570.6" cy="101.3" r="2.42" fill="none" stroke="#2a2a2a" stroke-width="0.95"/>
<circle cx="574.8" cy="100.56" r="2.42" fill="none" stroke="#2a2a2a" stroke-width="0.95"/>
<circle cx="564.6" cy="98.63" r="2.42" fill="none" stroke="#2a2a2a" stroke-width="0.95"/>
<circle cx="568.6" cy="98.35" r="2.42" fill="none" stroke="#2a2a2a" stroke-width="0.95"/>
<circle cx="572.8" cy="99" r="2.42" fill="none" stroke="#2a2a2a" stroke-width="0.95"/>
<circle cx="576.6" cy="98.53" r="2.42" fill="none" stroke="#2a2a2a" stroke-width="0.95"/>
<circle cx="561.6" cy="95.13" r="2.42" fill="none" stroke="#2a2a2a" stroke-width="0.95"/>
<circle cx="565.3" cy="95.4" r="2.42" fill="none" stroke="#2a2a2a" stroke-width="0.95"/>
<circle cx="568.9" cy="94.85" r="2.42" fill="none" stroke="#2a2a2a" stroke-width="0.95"/>
<circle cx="572.5" cy="95.31" r="2.42" fill="none" stroke="#2a2a2a" stroke-width="0.95"/>
<circle cx="576.1" cy="94.94" r="2.42" fill="none" stroke="#2a2a2a" stroke-width="0.95"/>
<circle cx="579.6" cy="95.22" r="2.42" fill="none" stroke="#2a2a2a" stroke-width="0.95"/>
<circle cx="559.6" cy="92.18" r="2.42" fill="none" stroke="#2a2a2a" stroke-width="0.95"/>
<circle cx="563.3" cy="92.46" r="2.42" fill="none" stroke="#2a2a2a" stroke-width="0.95"/>
<circle cx="566.9" cy="91.9" r="2.42" fill="none" stroke="#2a2a2a" stroke-width="0.95"/>
<circle cx="570.6" cy="92.27" r="2.42" fill="none" stroke="#2a2a2a" stroke-width="0.95"/>
<circle cx="574.3" cy="91.99" r="2.42" fill="none" stroke="#2a2a2a" stroke-width="0.95"/>
<circle cx="577.9" cy="92.36" r="2.42" fill="none" stroke="#2a2a2a" stroke-width="0.95"/>
<circle cx="581.6" cy="92.09" r="2.42" fill="none" stroke="#2a2a2a" stroke-width="0.95"/>
<circle cx="560.6" cy="89.32" r="2.42" fill="none" stroke="#2a2a2a" stroke-width="0.95"/>
<circle cx="564.6" cy="89.05" r="2.42" fill="none" stroke="#2a2a2a" stroke-width="0.95"/>
<circle cx="568.6" cy="89.51" r="2.42" fill="none" stroke="#2a2a2a" stroke-width="0.95"/>
<circle cx="572.6" cy="89.14" r="2.42" fill="none" stroke="#2a2a2a" stroke-width="0.95"/>
<circle cx="576.6" cy="89.42" r="2.42" fill="none" stroke="#2a2a2a" stroke-width="0.95"/>
<circle cx="580.6" cy="89.23" r="2.42" fill="none" stroke="#2a2a2a" stroke-width="0.95"/>
<circle cx="566.1" cy="90.52" r="2.42" fill="none" stroke="#2a2a2a" stroke-width="0.95"/>
<circle cx="575.1" cy="90.71" r="2.42" fill="none" stroke="#2a2a2a" stroke-width="0.95"/>
<circle cx="568.1" cy="86.56" r="2.42" fill="none" stroke="#2a2a2a" stroke-width="0.95"/>
<circle cx="572.6" cy="86.1" r="2.42" fill="none" stroke="#2a2a2a" stroke-width="0.95"/>
<circle cx="570.6" cy="84.26" r="2.42" fill="none" stroke="#2a2a2a" stroke-width="0.95"/>
<circle cx="568.8" cy="79.93" r="2.42" fill="none" stroke="#2a2a2a" stroke-width="0.95"/>
<circle cx="572.6" cy="79.38" r="2.42" fill="none" stroke="#2a2a2a" stroke-width="0.95"/>
<circle cx="569.8" cy="78.27" r="2.42" fill="none" stroke="#2a2a2a" stroke-width="0.95"/>
<circle cx="573.2" cy="77.9" r="2.42" fill="none" stroke="#2a2a2a" stroke-width="0.95"/>
<g stroke="#2a2a2a" stroke-width="1.8" fill="none">
<line x1="557.6" y1="94.39" x2="583.6" y2="94.39"/>
<line x1="570.6" y1="84.72" x2="570.6" y2="104.61"/>
<line x1="564.3" y1="84.72" x2="576.9" y2="84.72"/>
<line x1="564.3" y1="104.61" x2="576.9" y2="104.61"/>
</g>
<rect x="609.63" y="75.25" width="4.74" height="4.74" fill="none" stroke="#666666" stroke-width="0.95"/>
<rect x="602.83" y="79.95" width="4.74" height="4.74" fill="none" stroke="#666666" stroke-width="0.95"/>
<rect x="608.13" y="82.35" width="4.74" height="4.74" fill="none" stroke="#666666" stroke-width="0.95"/>
<rect x="598.13" y="86.31" width="4.74" height="4.74" fill="none" stroke="#666666" stroke-width="0.95"/>
<rect x="602.83" y="86.12" width="4.74" height="4.74" fill="none" stroke="#666666" stroke-width="0.95"/>
<rect x="608.03" y="86.49" width="4.74" height="4.74" fill="none" stroke="#666666" stroke-width="0.95"/>
<rect x="613.33" y="86.21" width="4.74" height="4.74" fill="none" stroke="#666666" stroke-width="0.95"/>
<rect x="617.93" y="86.4" width="4.74" height="4.74" fill="none" stroke="#666666" stroke-width="0.95"/>
<rect x="622.03" y="86.31" width="4.74" height="4.74" fill="none" stroke="#666666" stroke-width="0.95"/>
<rect x="600.63" y="88.33" width="4.74" height="4.74" fill="none" stroke="#666666" stroke-width="0.95"/>
<rect x="605.63" y="88.15" width="4.74" height="4.74" fill="none" stroke="#666666" stroke-width="0.95"/>
<rect x="610.63" y="88.52" width="4.74" height="4.74" fill="none" stroke="#666666" stroke-width="0.95"/>
<rect x="615.63" y="88.24" width="4.74" height="4.74" fill="none" stroke="#666666" stroke-width="0.95"/>
<rect x="603.33" y="90.45" width="4.74" height="4.74" fill="none" stroke="#666666" stroke-width="0.95"/>
<rect x="608.03" y="90.27" width="4.74" height="4.74" fill="none" stroke="#666666" stroke-width="0.95"/>
<rect x="612.73" y="90.64" width="4.74" height="4.74" fill="none" stroke="#666666" stroke-width="0.95"/>
<rect x="616.83" y="90.36" width="4.74" height="4.74" fill="none" stroke="#666666" stroke-width="0.95"/>
<rect x="606.63" y="92.94" width="4.74" height="4.74" fill="none" stroke="#666666" stroke-width="0.95"/>
<rect x="611.63" y="92.75" width="4.74" height="4.74" fill="none" stroke="#666666" stroke-width="0.95"/>
<rect x="608.03" y="95.15" width="4.74" height="4.74" fill="none" stroke="#666666" stroke-width="0.95"/>
<rect x="612.73" y="94.97" width="4.74" height="4.74" fill="none" stroke="#666666" stroke-width="0.95"/>
<rect x="606.83" y="100.31" width="4.74" height="4.74" fill="none" stroke="#666666" stroke-width="0.95"/>
<rect x="612.73" y="100.31" width="4.74" height="4.74" fill="none" stroke="#666666" stroke-width="0.95"/>
<rect x="612.13" y="102.7" width="4.74" height="4.74" fill="none" stroke="#666666" stroke-width="0.95"/>
<rect x="609.83" y="107.31" width="4.74" height="4.74" fill="none" stroke="#666666" stroke-width="0.95"/>
<rect x="609.83" y="112.65" width="4.74" height="4.74" fill="none" stroke="#666666" stroke-width="0.95"/>
<g stroke="#3c3c3c" stroke-width="1.8" fill="none">
<line x1="599" y1="91.9" x2="625" y2="91.9"/>
<line x1="612" y1="83.34" x2="612" y2="101.02"/>
<line x1="605.7" y1="83.34" x2="618.3" y2="83.34"/>
<line x1="605.7" y1="101.02" x2="618.3" y2="101.02"/>
</g>
<path d="M642.48 62.39L645 67.42L639.96 67.42Z" fill="none" stroke="#a4a4a4" stroke-width="0.95"/>
<path d="M647.09 62.85L649.6 67.88L644.57 67.88Z" fill="none" stroke="#a4a4a4" stroke-width="0.95"/>
<path d="M651.79 60.82L654.31 65.86L649.28 65.86Z" fill="none" stroke="#a4a4a4" stroke-width="0.95"/>
<path d="M665.14 62.39L667.65 67.42L662.62 67.42Z" fill="none" stroke="#a4a4a4" stroke-width="0.95"/>
<path d="M642.48 68.56L645 73.59L639.96 73.59Z" fill="none" stroke="#a4a4a4" stroke-width="0.95"/>
<path d="M647.09 70.13L649.6 75.16L644.57 75.16Z" fill="none" stroke="#a4a4a4" stroke-width="0.95"/>
<path d="M651.79 69.02L654.31 74.05L649.28 74.05Z" fill="none" stroke="#a4a4a4" stroke-width="0.95"/>
<path d="M656.21 71.69L658.72 76.72L653.69 76.72Z" fill="none" stroke="#a4a4a4" stroke-width="0.95"/>
<path d="M660.62 71.05L663.14 76.08L658.11 76.08Z" fill="none" stroke="#a4a4a4" stroke-width="0.95"/>
<path d="M665.14 68.56L667.65 73.59L662.62 73.59Z" fill="none" stroke="#a4a4a4" stroke-width="0.95"/>
<path d="M647.09 74.64L649.6 79.67L644.57 79.67Z" fill="none" stroke="#a4a4a4" stroke-width="0.95"/>
<path d="M651.79 73.72L654.31 78.75L649.28 78.75Z" fill="none" stroke="#a4a4a4" stroke-width="0.95"/>
<path d="M660.62 74.64L663.14 79.67L658.11 79.67Z" fill="none" stroke="#a4a4a4" stroke-width="0.95"/>
<path d="M647.09 81.36L649.6 86.4L644.57 86.4Z" fill="none" stroke="#a4a4a4" stroke-width="0.95"/>
<path d="M651.79 80.35L654.31 85.38L649.28 85.38Z" fill="none" stroke="#a4a4a4" stroke-width="0.95"/>
<path d="M656.88 79.34L659.4 84.37L654.36 84.37Z" fill="none" stroke="#a4a4a4" stroke-width="0.95"/>
<path d="M651.79 86.52L654.31 91.55L649.28 91.55Z" fill="none" stroke="#a4a4a4" stroke-width="0.95"/>
<path d="M656.21 86.52L658.72 91.55L653.69 91.55Z" fill="none" stroke="#a4a4a4" stroke-width="0.95"/>
<path d="M647.09 95.82L649.6 100.86L644.57 100.86Z" fill="none" stroke="#a4a4a4" stroke-width="0.95"/>
<path d="M660.62 97.21L663.14 102.24L658.11 102.24Z" fill="none" stroke="#a4a4a4" stroke-width="0.95"/>
<path d="M647.09 101.72L649.6 106.75L644.57 106.75Z" fill="none" stroke="#a4a4a4" stroke-width="0.95"/>
<path d="M655.92 100.06L658.44 105.1L653.4 105.1Z" fill="none" stroke="#a4a4a4" stroke-width="0.95"/>
<g stroke="#3c3c3c" stroke-width="1.8" fill="none">
<line x1="640.5" y1="80.11" x2="667.5" y2="80.11"/>
<line x1="654" y1="67.59" x2="654" y2="92.82"/>
<line x1="647.4" y1="67.59" x2="660.6" y2="67.59"/>
<line x1="647.4" y1="92.82" x2="660.6" y2="92.82"/>
</g>
<line x1="610" y1="24.3" x2="660" y2="24.3" stroke="#9a9a9a" stroke-width="0.9"/>
<text x="635" y="20.54" font-size="7.8" fill="#8a8a8a" text-anchor="middle">p&lt;0.01</text>
<line x1="568.3" y1="40" x2="656.6" y2="40" stroke="#9a9a9a" stroke-width="0.9"/>
<text x="612" y="35.74" font-size="7.8" fill="#8a8a8a" text-anchor="middle">p&lt;0.0001</text>
<line x1="567.5" y1="56.7" x2="616" y2="56.7" stroke="#9a9a9a" stroke-width="0.9" stroke-dasharray="2.5 1.4"/>
<text x="592.4" y="52.54" font-size="7.8" fill="#8a8a8a" text-anchor="middle">ns</text>
<g stroke="#333" stroke-width="1.1" fill="none">
<line x1="23.9" y1="265.8" x2="23.9" y2="343.9"/>
<line x1="23.4" y1="343.4" x2="139.4" y2="343.4"/>
<line x1="21.6" y1="343.4" x2="23.9" y2="343.4"/>
<line x1="21.6" y1="327.98" x2="23.9" y2="327.98"/>
<line x1="21.6" y1="312.56" x2="23.9" y2="312.56"/>
<line x1="21.6" y1="297.14" x2="23.9" y2="297.14"/>
<line x1="21.6" y1="281.72" x2="23.9" y2="281.72"/>
<line x1="21.6" y1="266.3" x2="23.9" y2="266.3"/>
<line x1="43" y1="343.4" x2="43" y2="345.9"/>
<line x1="81.5" y1="343.4" x2="81.5" y2="345.9"/>
<line x1="120.3" y1="343.4" x2="120.3" y2="345.9"/>
</g>
<g font-size="6.4" font-weight="bold" fill="#1a1a1a" stroke="#1a1a1a" stroke-width="0.1" text-anchor="end">
<text x="20.7" y="345.45">0</text>
<text x="20.7" y="330.03">20</text>
<text x="20.7" y="314.61">40</text>
<text x="20.7" y="299.19">60</text>
<text x="20.7" y="283.77">80</text>
<text x="20.7" y="268.35">100</text>
</g>
<g font-size="9" font-weight="bold" fill="#1a1a1a" stroke="#1a1a1a" stroke-width="0.12" text-anchor="end">
<text transform="translate(47 352.4) rotate(-45)">T0_HAd</text>
<text transform="translate(85.5 352.4) rotate(-45)">T1_HAd</text>
<text transform="translate(124.3 352.4) rotate(-45)">CTRL</text>
</g>
<text transform="translate(10 304.85) rotate(-90)" font-size="9" font-weight="bold" fill="#1a1a1a" stroke="#1a1a1a" stroke-width="0.16" text-anchor="middle">Leg Ext 1RM (Kg)</text>
<circle cx="43" cy="338.22" r="2.42" fill="none" stroke="#2a2a2a" stroke-width="0.95"/>
<circle cx="43" cy="336.23" r="2.42" fill="none" stroke="#2a2a2a" stroke-width="0.95"/>
<circle cx="41.5" cy="334.97" r="2.42" fill="none" stroke="#2a2a2a" stroke-width="0.95"/>
<circle cx="44.5" cy="334.84" r="2.42" fill="none" stroke="#2a2a2a" stroke-width="0.95"/>
<circle cx="41" cy="332.4" r="2.42" fill="none" stroke="#2a2a2a" stroke-width="0.95"/>
<circle cx="45" cy="332.07" r="2.42" fill="none" stroke="#2a2a2a" stroke-width="0.95"/>
<circle cx="39.5" cy="330.27" r="2.42" fill="none" stroke="#2a2a2a" stroke-width="0.95"/>
<circle cx="43" cy="330.32" r="2.42" fill="none" stroke="#2a2a2a" stroke-width="0.95"/>
<circle cx="46.5" cy="329.61" r="2.42" fill="none" stroke="#2a2a2a" stroke-width="0.95"/>
<circle cx="38.8" cy="327.6" r="2.42" fill="none" stroke="#2a2a2a" stroke-width="0.95"/>
<circle cx="43" cy="326.4" r="2.42" fill="none" stroke="#2a2a2a" stroke-width="0.95"/>
<circle cx="47.2" cy="327.63" r="2.42" fill="none" stroke="#2a2a2a" stroke-width="0.95"/>
<circle cx="38.5" cy="324.81" r="2.42" fill="none" stroke="#2a2a2a" stroke-width="0.95"/>
<circle cx="43" cy="325.35" r="2.42" fill="none" stroke="#2a2a2a" stroke-width="0.95"/>
<circle cx="47.5" cy="325.16" r="2.42" fill="none" stroke="#2a2a2a" stroke-width="0.95"/>
<circle cx="38.5" cy="322.2" r="2.42" fill="none" stroke="#2a2a2a" stroke-width="0.95"/>
<circle cx="43" cy="321.77" r="2.42" fill="none" stroke="#2a2a2a" stroke-width="0.95"/>
<circle cx="47.5" cy="323.35" r="2.42" fill="none" stroke="#2a2a2a" stroke-width="0.95"/>
<circle cx="38.5" cy="319.6" r="2.42" fill="none" stroke="#2a2a2a" stroke-width="0.95"/>
<circle cx="43" cy="320.22" r="2.42" fill="none" stroke="#2a2a2a" stroke-width="0.95"/>
<circle cx="47.5" cy="319.99" r="2.42" fill="none" stroke="#2a2a2a" stroke-width="0.95"/>
<circle cx="38" cy="317.59" r="2.42" fill="none" stroke="#2a2a2a" stroke-width="0.95"/>
<circle cx="41.33" cy="318.39" r="2.42" fill="none" stroke="#2a2a2a" stroke-width="0.95"/>
<circle cx="44.67" cy="318.81" r="2.42" fill="none" stroke="#2a2a2a" stroke-width="0.95"/>
<circle cx="48" cy="317.53" r="2.42" fill="none" stroke="#2a2a2a" stroke-width="0.95"/>
<circle cx="36" cy="315.92" r="2.42" fill="none" stroke="#2a2a2a" stroke-width="0.95"/>
<circle cx="39.5" cy="315.29" r="2.42" fill="none" stroke="#2a2a2a" stroke-width="0.95"/>
<circle cx="43" cy="315.75" r="2.42" fill="none" stroke="#2a2a2a" stroke-width="0.95"/>
<circle cx="46.5" cy="315.45" r="2.42" fill="none" stroke="#2a2a2a" stroke-width="0.95"/>
<circle cx="50" cy="315.05" r="2.42" fill="none" stroke="#2a2a2a" stroke-width="0.95"/>
<circle cx="31.5" cy="313.49" r="2.42" fill="none" stroke="#2a2a2a" stroke-width="0.95"/>
<circle cx="34.79" cy="313.58" r="2.42" fill="none" stroke="#2a2a2a" stroke-width="0.95"/>
<circle cx="38.07" cy="314.83" r="2.42" fill="none" stroke="#2a2a2a" stroke-width="0.95"/>
<circle cx="41.36" cy="314.1" r="2.42" fill="none" stroke="#2a2a2a" stroke-width="0.95"/>
<circle cx="44.64" cy="313.6" r="2.42" fill="none" stroke="#2a2a2a" stroke-width="0.95"/>
<circle cx="47.93" cy="314.83" r="2.42" fill="none" stroke="#2a2a2a" stroke-width="0.95"/>
<circle cx="51.21" cy="315" r="2.42" fill="none" stroke="#2a2a2a" stroke-width="0.95"/>
<circle cx="54.5" cy="314.01" r="2.42" fill="none" stroke="#2a2a2a" stroke-width="0.95"/>
<circle cx="31.2" cy="311.91" r="2.42" fill="none" stroke="#2a2a2a" stroke-width="0.95"/>
<circle cx="34.15" cy="312.01" r="2.42" fill="none" stroke="#2a2a2a" stroke-width="0.95"/>
<circle cx="37.1" cy="311.82" r="2.42" fill="none" stroke="#2a2a2a" stroke-width="0.95"/>
<circle cx="40.05" cy="312.28" r="2.42" fill="none" stroke="#2a2a2a" stroke-width="0.95"/>
<circle cx="43" cy="311.82" r="2.42" fill="none" stroke="#2a2a2a" stroke-width="0.95"/>
<circle cx="45.95" cy="312.09" r="2.42" fill="none" stroke="#2a2a2a" stroke-width="0.95"/>
<circle cx="48.9" cy="312.13" r="2.42" fill="none" stroke="#2a2a2a" stroke-width="0.95"/>
<circle cx="51.85" cy="312.69" r="2.42" fill="none" stroke="#2a2a2a" stroke-width="0.95"/>
<circle cx="54.8" cy="313.26" r="2.42" fill="none" stroke="#2a2a2a" stroke-width="0.95"/>
<circle cx="36" cy="311.47" r="2.42" fill="none" stroke="#2a2a2a" stroke-width="0.95"/>
<circle cx="39.5" cy="310.86" r="2.42" fill="none" stroke="#2a2a2a" stroke-width="0.95"/>
<circle cx="43" cy="310.86" r="2.42" fill="none" stroke="#2a2a2a" stroke-width="0.95"/>
<circle cx="46.5" cy="311.06" r="2.42" fill="none" stroke="#2a2a2a" stroke-width="0.95"/>
<circle cx="50" cy="310.8" r="2.42" fill="none" stroke="#2a2a2a" stroke-width="0.95"/>
<circle cx="37.8" cy="308.41" r="2.42" fill="none" stroke="#2a2a2a" stroke-width="0.95"/>
<circle cx="41.27" cy="307.92" r="2.42" fill="none" stroke="#2a2a2a" stroke-width="0.95"/>
<circle cx="44.73" cy="308.3" r="2.42" fill="none" stroke="#2a2a2a" stroke-width="0.95"/>
<circle cx="48.2" cy="309.55" r="2.42" fill="none" stroke="#2a2a2a" stroke-width="0.95"/>
<circle cx="38" cy="305.72" r="2.42" fill="none" stroke="#2a2a2a" stroke-width="0.95"/>
<circle cx="41.33" cy="306.4" r="2.42" fill="none" stroke="#2a2a2a" stroke-width="0.95"/>
<circle cx="44.67" cy="306.63" r="2.42" fill="none" stroke="#2a2a2a" stroke-width="0.95"/>
<circle cx="48" cy="307.05" r="2.42" fill="none" stroke="#2a2a2a" stroke-width="0.95"/>
<circle cx="38.7" cy="303.57" r="2.42" fill="none" stroke="#2a2a2a" stroke-width="0.95"/>
<circle cx="43" cy="303.67" r="2.42" fill="none" stroke="#2a2a2a" stroke-width="0.95"/>
<circle cx="47.3" cy="303.63" r="2.42" fill="none" stroke="#2a2a2a" stroke-width="0.95"/>
<circle cx="41" cy="301.59" r="2.42" fill="none" stroke="#2a2a2a" stroke-width="0.95"/>
<circle cx="45" cy="301.67" r="2.42" fill="none" stroke="#2a2a2a" stroke-width="0.95"/>
<circle cx="41.5" cy="300.27" r="2.42" fill="none" stroke="#2a2a2a" stroke-width="0.95"/>
<circle cx="44.5" cy="300.08" r="2.42" fill="none" stroke="#2a2a2a" stroke-width="0.95"/>
<circle cx="43" cy="297.81" r="2.42" fill="none" stroke="#2a2a2a" stroke-width="0.95"/>
<circle cx="43" cy="294.74" r="2.42" fill="none" stroke="#2a2a2a" stroke-width="0.95"/>
<circle cx="42" cy="293.21" r="2.42" fill="none" stroke="#2a2a2a" stroke-width="0.95"/>
<circle cx="44" cy="294.43" r="2.42" fill="none" stroke="#2a2a2a" stroke-width="0.95"/>
<g stroke="#2a2a2a" stroke-width="1.8" fill="none">
<line x1="30" y1="314.87" x2="56" y2="314.87"/>
<line x1="43" y1="304.08" x2="43" y2="326.44"/>
<line x1="36.7" y1="304.08" x2="49.3" y2="304.08"/>
<line x1="36.7" y1="326.44" x2="49.3" y2="326.44"/>
</g>
<rect x="79.13" y="335.8" width="4.74" height="4.74" fill="none" stroke="#666666" stroke-width="0.95"/>
<rect x="77.83" y="333.67" width="4.74" height="4.74" fill="none" stroke="#666666" stroke-width="0.95"/>
<rect x="80.43" y="333.83" width="4.74" height="4.74" fill="none" stroke="#666666" stroke-width="0.95"/>
<rect x="79.13" y="330.31" width="4.74" height="4.74" fill="none" stroke="#666666" stroke-width="0.95"/>
<rect x="77.13" y="328.16" width="4.74" height="4.74" fill="none" stroke="#666666" stroke-width="0.95"/>
<rect x="81.13" y="328.9" width="4.74" height="4.74" fill="none" stroke="#666666" stroke-width="0.95"/>
<rect x="76.33" y="326.06" width="4.74" height="4.74" fill="none" stroke="#666666" stroke-width="0.95"/>
<rect x="81.93" y="326.11" width="4.74" height="4.74" fill="none" stroke="#666666" stroke-width="0.95"/>
<rect x="75.33" y="323.19" width="4.74" height="4.74" fill="none" stroke="#666666" stroke-width="0.95"/>
<rect x="79.13" y="322.17" width="4.74" height="4.74" fill="none" stroke="#666666" stroke-width="0.95"/>
<rect x="82.93" y="321.98" width="4.74" height="4.74" fill="none" stroke="#666666" stroke-width="0.95"/>
<rect x="74.83" y="318.96" width="4.74" height="4.74" fill="none" stroke="#666666" stroke-width="0.95"/>
<rect x="79.13" y="319.47" width="4.74" height="4.74" fill="none" stroke="#666666" stroke-width="0.95"/>
<rect x="83.43" y="319.7" width="4.74" height="4.74" fill="none" stroke="#666666" stroke-width="0.95"/>
<rect x="74.53" y="316.97" width="4.74" height="4.74" fill="none" stroke="#666666" stroke-width="0.95"/>
<rect x="79.13" y="316.67" width="4.74" height="4.74" fill="none" stroke="#666666" stroke-width="0.95"/>
<rect x="83.73" y="316.56" width="4.74" height="4.74" fill="none" stroke="#666666" stroke-width="0.95"/>
<rect x="73.63" y="313.64" width="4.74" height="4.74" fill="none" stroke="#666666" stroke-width="0.95"/>
<rect x="77.3" y="313.21" width="4.74" height="4.74" fill="none" stroke="#666666" stroke-width="0.95"/>
<rect x="80.96" y="313.34" width="4.74" height="4.74" fill="none" stroke="#666666" stroke-width="0.95"/>
<rect x="84.63" y="312.63" width="4.74" height="4.74" fill="none" stroke="#666666" stroke-width="0.95"/>
<rect x="73.13" y="310.58" width="4.74" height="4.74" fill="none" stroke="#666666" stroke-width="0.95"/>
<rect x="77.13" y="309.81" width="4.74" height="4.74" fill="none" stroke="#666666" stroke-width="0.95"/>
<rect x="81.13" y="310.78" width="4.74" height="4.74" fill="none" stroke="#666666" stroke-width="0.95"/>
<rect x="85.13" y="310.39" width="4.74" height="4.74" fill="none" stroke="#666666" stroke-width="0.95"/>
<rect x="72.13" y="306.83" width="4.74" height="4.74" fill="none" stroke="#666666" stroke-width="0.95"/>
<rect x="75.63" y="306.58" width="4.74" height="4.74" fill="none" stroke="#666666" stroke-width="0.95"/>
<rect x="79.13" y="306.76" width="4.74" height="4.74" fill="none" stroke="#666666" stroke-width="0.95"/>
<rect x="82.63" y="307.3" width="4.74" height="4.74" fill="none" stroke="#666666" stroke-width="0.95"/>
<rect x="86.13" y="307.38" width="4.74" height="4.74" fill="none" stroke="#666666" stroke-width="0.95"/>
<rect x="71.63" y="303.48" width="4.74" height="4.74" fill="none" stroke="#666666" stroke-width="0.95"/>
<rect x="75.38" y="303.42" width="4.74" height="4.74" fill="none" stroke="#666666" stroke-width="0.95"/>
<rect x="79.13" y="304.05" width="4.74" height="4.74" fill="none" stroke="#666666" stroke-width="0.95"/>
<rect x="82.88" y="304.14" width="4.74" height="4.74" fill="none" stroke="#666666" stroke-width="0.95"/>
<rect x="86.63" y="303.86" width="4.74" height="4.74" fill="none" stroke="#666666" stroke-width="0.95"/>
<rect x="67.83" y="300.93" width="4.74" height="4.74" fill="none" stroke="#666666" stroke-width="0.95"/>
<rect x="71.06" y="301.46" width="4.74" height="4.74" fill="none" stroke="#666666" stroke-width="0.95"/>
<rect x="74.29" y="300.64" width="4.74" height="4.74" fill="none" stroke="#666666" stroke-width="0.95"/>
<rect x="77.51" y="301.04" width="4.74" height="4.74" fill="none" stroke="#666666" stroke-width="0.95"/>
<rect x="80.74" y="301.27" width="4.74" height="4.74" fill="none" stroke="#666666" stroke-width="0.95"/>
<rect x="83.97" y="301.96" width="4.74" height="4.74" fill="none" stroke="#666666" stroke-width="0.95"/>
<rect x="87.2" y="301.52" width="4.74" height="4.74" fill="none" stroke="#666666" stroke-width="0.95"/>
<rect x="90.43" y="301.86" width="4.74" height="4.74" fill="none" stroke="#666666" stroke-width="0.95"/>
<rect x="67.83" y="299.36" width="4.74" height="4.74" fill="none" stroke="#666666" stroke-width="0.95"/>
<rect x="71.06" y="299.02" width="4.74" height="4.74" fill="none" stroke="#666666" stroke-width="0.95"/>
<rect x="74.29" y="299.04" width="4.74" height="4.74" fill="none" stroke="#666666" stroke-width="0.95"/>
<rect x="77.51" y="300.04" width="4.74" height="4.74" fill="none" stroke="#666666" stroke-width="0.95"/>
<rect x="80.74" y="299.68" width="4.74" height="4.74" fill="none" stroke="#666666" stroke-width="0.95"/>
<rect x="83.97" y="299.12" width="4.74" height="4.74" fill="none" stroke="#666666" stroke-width="0.95"/>
<rect x="87.2" y="298.72" width="4.74" height="4.74" fill="none" stroke="#666666" stroke-width="0.95"/>
<rect x="90.43" y="299.39" width="4.74" height="4.74" fill="none" stroke="#666666" stroke-width="0.95"/>
<rect x="69.13" y="297.33" width="4.74" height="4.74" fill="none" stroke="#666666" stroke-width="0.95"/>
<rect x="72.46" y="296.97" width="4.74" height="4.74" fill="none" stroke="#666666" stroke-width="0.95"/>
<rect x="75.8" y="296.74" width="4.74" height="4.74" fill="none" stroke="#666666" stroke-width="0.95"/>
<rect x="79.13" y="297.32" width="4.74" height="4.74" fill="none" stroke="#666666" stroke-width="0.95"/>
<rect x="82.46" y="297.68" width="4.74" height="4.74" fill="none" stroke="#666666" stroke-width="0.95"/>
<rect x="85.8" y="296.7" width="4.74" height="4.74" fill="none" stroke="#666666" stroke-width="0.95"/>
<rect x="89.13" y="296.43" width="4.74" height="4.74" fill="none" stroke="#666666" stroke-width="0.95"/>
<rect x="76.13" y="294.54" width="4.74" height="4.74" fill="none" stroke="#666666" stroke-width="0.95"/>
<rect x="79.13" y="294.66" width="4.74" height="4.74" fill="none" stroke="#666666" stroke-width="0.95"/>
<rect x="82.13" y="295.02" width="4.74" height="4.74" fill="none" stroke="#666666" stroke-width="0.95"/>
<rect x="77.63" y="291.26" width="4.74" height="4.74" fill="none" stroke="#666666" stroke-width="0.95"/>
<rect x="80.63" y="292.1" width="4.74" height="4.74" fill="none" stroke="#666666" stroke-width="0.95"/>
<rect x="77.63" y="288.94" width="4.74" height="4.74" fill="none" stroke="#666666" stroke-width="0.95"/>
<rect x="80.63" y="288.61" width="4.74" height="4.74" fill="none" stroke="#666666" stroke-width="0.95"/>
<rect x="77.93" y="285.1" width="4.74" height="4.74" fill="none" stroke="#666666" stroke-width="0.95"/>
<rect x="80.33" y="286.17" width="4.74" height="4.74" fill="none" stroke="#666666" stroke-width="0.95"/>
<g stroke="#3c3c3c" stroke-width="1.8" fill="none">
<line x1="68.5" y1="310.25" x2="94.5" y2="310.25"/>
<line x1="81.5" y1="298.68" x2="81.5" y2="322.2"/>
<line x1="75.2" y1="298.68" x2="87.8" y2="298.68"/>
<line x1="75.2" y1="322.2" x2="87.8" y2="322.2"/>
</g>
<path d="M123.8 267.72L126.32 272.76L121.28 272.76Z" fill="none" stroke="#a4a4a4" stroke-width="0.95"/>
<path d="M116.8 272.43L119.32 277.46L114.28 277.46Z" fill="none" stroke="#a4a4a4" stroke-width="0.95"/>
<path d="M116.8 279.98L119.32 285.02L114.28 285.02Z" fill="none" stroke="#a4a4a4" stroke-width="0.95"/>
<path d="M123.8 284.69L126.32 289.72L121.28 289.72Z" fill="none" stroke="#a4a4a4" stroke-width="0.95"/>
<path d="M109.8 286.38L112.32 291.42L107.28 291.42Z" fill="none" stroke="#a4a4a4" stroke-width="0.95"/>
<path d="M116.8 288.69L119.32 293.73L114.28 293.73Z" fill="none" stroke="#a4a4a4" stroke-width="0.95"/>
<path d="M109.8 293.09L112.32 298.12L107.28 298.12Z" fill="none" stroke="#a4a4a4" stroke-width="0.95"/>
<path d="M109.8 298.18L112.32 303.21L107.28 303.21Z" fill="none" stroke="#a4a4a4" stroke-width="0.95"/>
<path d="M116.8 297.79L119.32 302.83L114.28 302.83Z" fill="none" stroke="#a4a4a4" stroke-width="0.95"/>
<path d="M123.8 297.48L126.32 302.52L121.28 302.52Z" fill="none" stroke="#a4a4a4" stroke-width="0.95"/>
<path d="M130.8 297.48L133.32 302.52L128.28 302.52Z" fill="none" stroke="#a4a4a4" stroke-width="0.95"/>
<path d="M120 305.12L122.52 310.15L117.48 310.15Z" fill="none" stroke="#a4a4a4" stroke-width="0.95"/>
<path d="M120 313.83L122.52 318.86L117.48 318.86Z" fill="none" stroke="#a4a4a4" stroke-width="0.95"/>
<path d="M120 317.92L122.52 322.95L117.48 322.95Z" fill="none" stroke="#a4a4a4" stroke-width="0.95"/>
<path d="M109.8 323.62L112.32 328.65L107.28 328.65Z" fill="none" stroke="#a4a4a4" stroke-width="0.95"/>
<path d="M116.8 323.62L119.32 328.65L114.28 328.65Z" fill="none" stroke="#a4a4a4" stroke-width="0.95"/>
<path d="M123.8 326.63L126.32 331.66L121.28 331.66Z" fill="none" stroke="#a4a4a4" stroke-width="0.95"/>
<path d="M130.8 326.63L133.32 331.66L128.28 331.66Z" fill="none" stroke="#a4a4a4" stroke-width="0.95"/>
<path d="M109.8 329.63L112.32 334.67L107.28 334.67Z" fill="none" stroke="#a4a4a4" stroke-width="0.95"/>
<g stroke="#3c3c3c" stroke-width="1.8" fill="none">
<line x1="107.3" y1="304.08" x2="133.3" y2="304.08"/>
<line x1="120.3" y1="284.8" x2="120.3" y2="323.74"/>
<line x1="114" y1="284.8" x2="126.6" y2="284.8"/>
<line x1="114" y1="323.74" x2="126.6" y2="323.74"/>
</g>
<line x1="76.6" y1="222.2" x2="273.6" y2="222.2" stroke="#9a9a9a" stroke-width="0.8" stroke-dasharray="0.9 1.6"/>
<text x="175.8" y="218.94" font-size="7.8" fill="#8a8a8a" text-anchor="middle">p&lt;0.0004</text>
<line x1="80" y1="239.2" x2="125.6" y2="239.2" stroke="#9a9a9a" stroke-width="0.9"/>
<text x="103" y="235.74" font-size="7.8" fill="#8a8a8a" text-anchor="middle">ns</text>
<line x1="41.5" y1="253.8" x2="122.6" y2="253.8" stroke="#9a9a9a" stroke-width="0.9"/>
<text x="82" y="250.04" font-size="7.8" fill="#8a8a8a" text-anchor="middle">p&lt;0,05</text>
<line x1="41" y1="266.1" x2="85" y2="266.1" stroke="#9a9a9a" stroke-width="0.9" stroke-dasharray="2.5 1.4"/>
<text x="63.3" y="263.94" font-size="7.8" fill="#8a8a8a" text-anchor="middle">p&lt;0.0001</text>
<g stroke="#333" stroke-width="1.1" fill="none">
<line x1="213.5" y1="265.5" x2="213.5" y2="343.4"/>
<line x1="213" y1="342.9" x2="329.6" y2="342.9"/>
<line x1="211.2" y1="342.9" x2="213.5" y2="342.9"/>
<line x1="211.2" y1="327.52" x2="213.5" y2="327.52"/>
<line x1="211.2" y1="312.14" x2="213.5" y2="312.14"/>
<line x1="211.2" y1="296.76" x2="213.5" y2="296.76"/>
<line x1="211.2" y1="281.38" x2="213.5" y2="281.38"/>
<line x1="211.2" y1="266" x2="213.5" y2="266"/>
<line x1="232.5" y1="342.9" x2="232.5" y2="345.4"/>
<line x1="271.2" y1="342.9" x2="271.2" y2="345.4"/>
<line x1="309.8" y1="342.9" x2="309.8" y2="345.4"/>
</g>
<g font-size="6.4" font-weight="bold" fill="#1a1a1a" stroke="#1a1a1a" stroke-width="0.1" text-anchor="end">
<text x="210.3" y="344.95">0</text>
<text x="210.3" y="329.57">20</text>
<text x="210.3" y="314.19">40</text>
<text x="210.3" y="298.81">60</text>
<text x="210.3" y="283.43">80</text>
<text x="210.3" y="268.05">100</text>
</g>
<g font-size="9" font-weight="bold" fill="#1a1a1a" stroke="#1a1a1a" stroke-width="0.12" text-anchor="end">
<text transform="translate(236.5 351.9) rotate(-45)">T0_MAd</text>
<text transform="translate(275.2 351.9) rotate(-45)">T1_MAd</text>
<text transform="translate(313.8 351.9) rotate(-45)">CTRL</text>
</g>
<text transform="translate(197.5 304.45) rotate(-90)" font-size="9" font-weight="bold" fill="#1a1a1a" stroke="#1a1a1a" stroke-width="0.16" text-anchor="middle">Leg Ext 1RM (Kg)</text>
<circle cx="225.1" cy="303.68" r="2.42" fill="none" stroke="#2a2a2a" stroke-width="0.95"/>
<circle cx="228" cy="302.53" r="2.42" fill="none" stroke="#2a2a2a" stroke-width="0.95"/>
<circle cx="231" cy="304.45" r="2.42" fill="none" stroke="#2a2a2a" stroke-width="0.95"/>
<circle cx="236.8" cy="303.3" r="2.42" fill="none" stroke="#2a2a2a" stroke-width="0.95"/>
<circle cx="240.3" cy="306.37" r="2.42" fill="none" stroke="#2a2a2a" stroke-width="0.95"/>
<circle cx="228" cy="307.53" r="2.42" fill="none" stroke="#2a2a2a" stroke-width="0.95"/>
<circle cx="233.9" cy="307.91" r="2.42" fill="none" stroke="#2a2a2a" stroke-width="0.95"/>
<circle cx="237.4" cy="312.91" r="2.42" fill="none" stroke="#2a2a2a" stroke-width="0.95"/>
<circle cx="228" cy="316.37" r="2.42" fill="none" stroke="#2a2a2a" stroke-width="0.95"/>
<circle cx="240.3" cy="315.6" r="2.42" fill="none" stroke="#2a2a2a" stroke-width="0.95"/>
<circle cx="236.8" cy="316.75" r="2.42" fill="none" stroke="#2a2a2a" stroke-width="0.95"/>
<circle cx="231" cy="322.91" r="2.42" fill="none" stroke="#2a2a2a" stroke-width="0.95"/>
<circle cx="237.4" cy="321.75" r="2.42" fill="none" stroke="#2a2a2a" stroke-width="0.95"/>
<circle cx="224.5" cy="326.75" r="2.42" fill="none" stroke="#2a2a2a" stroke-width="0.95"/>
<circle cx="222" cy="328.29" r="2.42" fill="none" stroke="#2a2a2a" stroke-width="0.95"/>
<circle cx="243.2" cy="328.29" r="2.42" fill="none" stroke="#2a2a2a" stroke-width="0.95"/>
<circle cx="234.5" cy="327.9" r="2.42" fill="none" stroke="#2a2a2a" stroke-width="0.95"/>
<circle cx="225.1" cy="331.75" r="2.42" fill="none" stroke="#2a2a2a" stroke-width="0.95"/>
<circle cx="237.4" cy="330.98" r="2.42" fill="none" stroke="#2a2a2a" stroke-width="0.95"/>
<circle cx="221.6" cy="333.67" r="2.42" fill="none" stroke="#2a2a2a" stroke-width="0.95"/>
<circle cx="243.2" cy="333.67" r="2.42" fill="none" stroke="#2a2a2a" stroke-width="0.95"/>
<circle cx="231" cy="333.29" r="2.42" fill="none" stroke="#2a2a2a" stroke-width="0.95"/>
<circle cx="228" cy="338.29" r="2.42" fill="none" stroke="#2a2a2a" stroke-width="0.95"/>
<circle cx="233.9" cy="337.9" r="2.42" fill="none" stroke="#2a2a2a" stroke-width="0.95"/>
<circle cx="237.4" cy="336.75" r="2.42" fill="none" stroke="#2a2a2a" stroke-width="0.95"/>
<circle cx="225.1" cy="335.98" r="2.42" fill="none" stroke="#2a2a2a" stroke-width="0.95"/>
<circle cx="240.3" cy="336.36" r="2.42" fill="none" stroke="#2a2a2a" stroke-width="0.95"/>
<circle cx="231.5" cy="339.82" r="2.42" fill="none" stroke="#2a2a2a" stroke-width="0.95"/>
<g stroke="#2a2a2a" stroke-width="1.8" fill="none">
<line x1="219.8" y1="322.52" x2="245.2" y2="322.52"/>
<line x1="232.5" y1="310.29" x2="232.5" y2="333.9"/>
<line x1="226.2" y1="310.29" x2="238.8" y2="310.29"/>
<line x1="226.2" y1="333.9" x2="238.8" y2="333.9"/>
</g>
<rect x="268.83" y="288.24" width="4.74" height="4.74" fill="none" stroke="#666666" stroke-width="0.95"/>
<rect x="267.43" y="299" width="4.74" height="4.74" fill="none" stroke="#666666" stroke-width="0.95"/>
<rect x="264.13" y="301.69" width="4.74" height="4.74" fill="none" stroke="#666666" stroke-width="0.95"/>
<rect x="270.63" y="302.08" width="4.74" height="4.74" fill="none" stroke="#666666" stroke-width="0.95"/>
<rect x="268.83" y="312.08" width="4.74" height="4.74" fill="none" stroke="#666666" stroke-width="0.95"/>
<rect x="272.93" y="319" width="4.74" height="4.74" fill="none" stroke="#666666" stroke-width="0.95"/>
<rect x="266.53" y="321.3" width="4.74" height="4.74" fill="none" stroke="#666666" stroke-width="0.95"/>
<rect x="261.23" y="324.76" width="4.74" height="4.74" fill="none" stroke="#666666" stroke-width="0.95"/>
<rect x="258.33" y="328.22" width="4.74" height="4.74" fill="none" stroke="#666666" stroke-width="0.95"/>
<rect x="264.13" y="327.84" width="4.74" height="4.74" fill="none" stroke="#666666" stroke-width="0.95"/>
<rect x="272.33" y="327.07" width="4.74" height="4.74" fill="none" stroke="#666666" stroke-width="0.95"/>
<rect x="275.83" y="327.07" width="4.74" height="4.74" fill="none" stroke="#666666" stroke-width="0.95"/>
<rect x="279.53" y="327.46" width="4.74" height="4.74" fill="none" stroke="#666666" stroke-width="0.95"/>
<rect x="264.13" y="330.92" width="4.74" height="4.74" fill="none" stroke="#666666" stroke-width="0.95"/>
<rect x="267.63" y="330.53" width="4.74" height="4.74" fill="none" stroke="#666666" stroke-width="0.95"/>
<rect x="272.33" y="330.53" width="4.74" height="4.74" fill="none" stroke="#666666" stroke-width="0.95"/>
<rect x="264.13" y="333.61" width="4.74" height="4.74" fill="none" stroke="#666666" stroke-width="0.95"/>
<rect x="267.43" y="332.84" width="4.74" height="4.74" fill="none" stroke="#666666" stroke-width="0.95"/>
<rect x="272.33" y="332.84" width="4.74" height="4.74" fill="none" stroke="#666666" stroke-width="0.95"/>
<g stroke="#3c3c3c" stroke-width="1.8" fill="none">
<line x1="258.5" y1="321.98" x2="283.9" y2="321.98"/>
<line x1="271.2" y1="308.91" x2="271.2" y2="334.29"/>
<line x1="264.9" y1="308.91" x2="277.5" y2="308.91"/>
<line x1="264.9" y1="334.29" x2="277.5" y2="334.29"/>
</g>
<path d="M313.3 267.41L315.82 272.45L310.78 272.45Z" fill="none" stroke="#a4a4a4" stroke-width="0.95"/>
<path d="M306.3 272.1L308.82 277.14L303.78 277.14Z" fill="none" stroke="#a4a4a4" stroke-width="0.95"/>
<path d="M306.3 279.64L308.82 284.67L303.78 284.67Z" fill="none" stroke="#a4a4a4" stroke-width="0.95"/>
<path d="M313.3 284.33L315.82 289.36L310.78 289.36Z" fill="none" stroke="#a4a4a4" stroke-width="0.95"/>
<path d="M299.3 286.02L301.82 291.06L296.78 291.06Z" fill="none" stroke="#a4a4a4" stroke-width="0.95"/>
<path d="M306.3 288.33L308.82 293.36L303.78 293.36Z" fill="none" stroke="#a4a4a4" stroke-width="0.95"/>
<path d="M299.3 292.71L301.82 297.75L296.78 297.75Z" fill="none" stroke="#a4a4a4" stroke-width="0.95"/>
<path d="M299.3 297.79L301.82 302.82L296.78 302.82Z" fill="none" stroke="#a4a4a4" stroke-width="0.95"/>
<path d="M306.3 297.4L308.82 302.44L303.78 302.44Z" fill="none" stroke="#a4a4a4" stroke-width="0.95"/>
<path d="M313.3 297.1L315.82 302.13L310.78 302.13Z" fill="none" stroke="#a4a4a4" stroke-width="0.95"/>
<path d="M320.3 297.1L322.82 302.13L317.78 302.13Z" fill="none" stroke="#a4a4a4" stroke-width="0.95"/>
<path d="M309.5 304.71L312.02 309.74L306.98 309.74Z" fill="none" stroke="#a4a4a4" stroke-width="0.95"/>
<path d="M309.5 313.4L312.02 318.43L306.98 318.43Z" fill="none" stroke="#a4a4a4" stroke-width="0.95"/>
<path d="M309.5 317.47L312.02 322.51L306.98 322.51Z" fill="none" stroke="#a4a4a4" stroke-width="0.95"/>
<path d="M299.3 323.16L301.82 328.2L296.78 328.2Z" fill="none" stroke="#a4a4a4" stroke-width="0.95"/>
<path d="M306.3 323.16L308.82 328.2L303.78 328.2Z" fill="none" stroke="#a4a4a4" stroke-width="0.95"/>
<path d="M313.3 326.16L315.82 331.2L310.78 331.2Z" fill="none" stroke="#a4a4a4" stroke-width="0.95"/>
<path d="M320.3 326.16L322.82 331.2L317.78 331.2Z" fill="none" stroke="#a4a4a4" stroke-width="0.95"/>
<path d="M299.3 329.16L301.82 334.2L296.78 334.2Z" fill="none" stroke="#a4a4a4" stroke-width="0.95"/>
<g stroke="#3c3c3c" stroke-width="1.8" fill="none">
<line x1="296.8" y1="303.68" x2="322.8" y2="303.68"/>
<line x1="309.8" y1="284.46" x2="309.8" y2="323.29"/>
<line x1="303.5" y1="284.46" x2="316.1" y2="284.46"/>
<line x1="303.5" y1="323.29" x2="316.1" y2="323.29"/>
</g>
<line x1="269.3" y1="238.2" x2="315.3" y2="238.2" stroke="#9a9a9a" stroke-width="0.9"/>
<text x="292.2" y="235.24" font-size="7.8" fill="#8a8a8a" text-anchor="middle">p&lt;0.05</text>
<line x1="230.4" y1="253.3" x2="312" y2="253.3" stroke="#9a9a9a" stroke-width="0.9"/>
<text x="271.4" y="249.54" font-size="7.8" fill="#8a8a8a" text-anchor="middle">p&lt;0.05</text>
<line x1="230" y1="268.9" x2="274.4" y2="268.9" stroke="#9a9a9a" stroke-width="0.9" stroke-dasharray="2.5 1.4"/>
<text x="252.3" y="265.14" font-size="7.8" fill="#8a8a8a" text-anchor="middle">p&lt;0.0001</text>
<g stroke="#333" stroke-width="1.1" fill="none">
<line x1="397.3" y1="261.1" x2="397.3" y2="335.8"/>
<line x1="396.8" y1="335.3" x2="509.4" y2="335.3"/>
<line x1="395" y1="335.3" x2="397.3" y2="335.3"/>
<line x1="395" y1="323.02" x2="397.3" y2="323.02"/>
<line x1="395" y1="310.73" x2="397.3" y2="310.73"/>
<line x1="395" y1="298.45" x2="397.3" y2="298.45"/>
<line x1="395" y1="286.17" x2="397.3" y2="286.17"/>
<line x1="395" y1="273.88" x2="397.3" y2="273.88"/>
<line x1="395" y1="261.6" x2="397.3" y2="261.6"/>
<line x1="416" y1="335.3" x2="416" y2="337.8"/>
<line x1="453.3" y1="335.3" x2="453.3" y2="337.8"/>
<line x1="490.5" y1="335.3" x2="490.5" y2="337.8"/>
</g>
<g font-size="7.6" font-weight="bold" fill="#1a1a1a" stroke="#1a1a1a" stroke-width="0.1" text-anchor="end">
<text x="394.1" y="337.73">0.0</text>
<text x="394.1" y="325.45">2.5</text>
<text x="394.1" y="313.17">5.0</text>
<text x="394.1" y="300.88">7.5</text>
<text x="394.1" y="288.6">10.0</text>
<text x="394.1" y="276.32">12.5</text>
<text x="394.1" y="264.03">15.0</text>
</g>
<g font-size="8.5" font-weight="bold" fill="#1a1a1a" stroke="#1a1a1a" stroke-width="0.12" text-anchor="end">
<text transform="translate(419.6 344.1) rotate(-45)">T0_HAd</text>
<text transform="translate(456.9 344.1) rotate(-45)">T1_HAd</text>
<text transform="translate(494.1 344.1) rotate(-45)">CTRL</text>
</g>
<text transform="translate(373.5 296) rotate(-90)" font-size="12.2" font-weight="bold" fill="#1a1a1a" stroke="#1a1a1a" stroke-width="0.22" text-anchor="middle">Arm Lat 1RM (Kg)</text>
<circle cx="414.5" cy="332.62" r="2.42" fill="none" stroke="#2a2a2a" stroke-width="0.95"/>
<circle cx="417.5" cy="333.23" r="2.42" fill="none" stroke="#2a2a2a" stroke-width="0.95"/>
<circle cx="412.5" cy="330.55" r="2.42" fill="none" stroke="#2a2a2a" stroke-width="0.95"/>
<circle cx="416" cy="330.54" r="2.42" fill="none" stroke="#2a2a2a" stroke-width="0.95"/>
<circle cx="419.5" cy="331.19" r="2.42" fill="none" stroke="#2a2a2a" stroke-width="0.95"/>
<circle cx="411" cy="328.67" r="2.42" fill="none" stroke="#2a2a2a" stroke-width="0.95"/>
<circle cx="414.33" cy="329.45" r="2.42" fill="none" stroke="#2a2a2a" stroke-width="0.95"/>
<circle cx="417.67" cy="328.91" r="2.42" fill="none" stroke="#2a2a2a" stroke-width="0.95"/>
<circle cx="421" cy="328.54" r="2.42" fill="none" stroke="#2a2a2a" stroke-width="0.95"/>
<circle cx="409.2" cy="326.62" r="2.42" fill="none" stroke="#2a2a2a" stroke-width="0.95"/>
<circle cx="412.6" cy="326.85" r="2.42" fill="none" stroke="#2a2a2a" stroke-width="0.95"/>
<circle cx="416" cy="327.15" r="2.42" fill="none" stroke="#2a2a2a" stroke-width="0.95"/>
<circle cx="419.4" cy="327.49" r="2.42" fill="none" stroke="#2a2a2a" stroke-width="0.95"/>
<circle cx="422.8" cy="326.52" r="2.42" fill="none" stroke="#2a2a2a" stroke-width="0.95"/>
<circle cx="407.5" cy="324.85" r="2.42" fill="none" stroke="#2a2a2a" stroke-width="0.95"/>
<circle cx="410.9" cy="324.64" r="2.42" fill="none" stroke="#2a2a2a" stroke-width="0.95"/>
<circle cx="414.3" cy="325.55" r="2.42" fill="none" stroke="#2a2a2a" stroke-width="0.95"/>
<circle cx="417.7" cy="324.55" r="2.42" fill="none" stroke="#2a2a2a" stroke-width="0.95"/>
<circle cx="421.1" cy="324.44" r="2.42" fill="none" stroke="#2a2a2a" stroke-width="0.95"/>
<circle cx="424.5" cy="324.45" r="2.42" fill="none" stroke="#2a2a2a" stroke-width="0.95"/>
<circle cx="406.2" cy="322.89" r="2.42" fill="none" stroke="#2a2a2a" stroke-width="0.95"/>
<circle cx="409.47" cy="323.49" r="2.42" fill="none" stroke="#2a2a2a" stroke-width="0.95"/>
<circle cx="412.73" cy="323.48" r="2.42" fill="none" stroke="#2a2a2a" stroke-width="0.95"/>
<circle cx="416" cy="323.3" r="2.42" fill="none" stroke="#2a2a2a" stroke-width="0.95"/>
<circle cx="419.27" cy="323.61" r="2.42" fill="none" stroke="#2a2a2a" stroke-width="0.95"/>
<circle cx="422.53" cy="323.53" r="2.42" fill="none" stroke="#2a2a2a" stroke-width="0.95"/>
<circle cx="425.8" cy="322.81" r="2.42" fill="none" stroke="#2a2a2a" stroke-width="0.95"/>
<circle cx="406.2" cy="320.67" r="2.42" fill="none" stroke="#2a2a2a" stroke-width="0.95"/>
<circle cx="409.47" cy="321.57" r="2.42" fill="none" stroke="#2a2a2a" stroke-width="0.95"/>
<circle cx="412.73" cy="321.35" r="2.42" fill="none" stroke="#2a2a2a" stroke-width="0.95"/>
<circle cx="416" cy="320.49" r="2.42" fill="none" stroke="#2a2a2a" stroke-width="0.95"/>
<circle cx="419.27" cy="321.25" r="2.42" fill="none" stroke="#2a2a2a" stroke-width="0.95"/>
<circle cx="422.53" cy="320.91" r="2.42" fill="none" stroke="#2a2a2a" stroke-width="0.95"/>
<circle cx="425.8" cy="320.9" r="2.42" fill="none" stroke="#2a2a2a" stroke-width="0.95"/>
<circle cx="406.5" cy="318.88" r="2.42" fill="none" stroke="#2a2a2a" stroke-width="0.95"/>
<circle cx="409.67" cy="318.69" r="2.42" fill="none" stroke="#2a2a2a" stroke-width="0.95"/>
<circle cx="412.83" cy="318.49" r="2.42" fill="none" stroke="#2a2a2a" stroke-width="0.95"/>
<circle cx="416" cy="318.82" r="2.42" fill="none" stroke="#2a2a2a" stroke-width="0.95"/>
<circle cx="419.17" cy="318.91" r="2.42" fill="none" stroke="#2a2a2a" stroke-width="0.95"/>
<circle cx="422.33" cy="319.63" r="2.42" fill="none" stroke="#2a2a2a" stroke-width="0.95"/>
<circle cx="425.5" cy="318.63" r="2.42" fill="none" stroke="#2a2a2a" stroke-width="0.95"/>
<circle cx="410" cy="317.68" r="2.42" fill="none" stroke="#2a2a2a" stroke-width="0.95"/>
<circle cx="413" cy="316.77" r="2.42" fill="none" stroke="#2a2a2a" stroke-width="0.95"/>
<circle cx="416" cy="316.95" r="2.42" fill="none" stroke="#2a2a2a" stroke-width="0.95"/>
<circle cx="419" cy="317.51" r="2.42" fill="none" stroke="#2a2a2a" stroke-width="0.95"/>
<circle cx="422" cy="317.51" r="2.42" fill="none" stroke="#2a2a2a" stroke-width="0.95"/>
<circle cx="411" cy="315.07" r="2.42" fill="none" stroke="#2a2a2a" stroke-width="0.95"/>
<circle cx="414.33" cy="314.61" r="2.42" fill="none" stroke="#2a2a2a" stroke-width="0.95"/>
<circle cx="417.67" cy="315.12" r="2.42" fill="none" stroke="#2a2a2a" stroke-width="0.95"/>
<circle cx="421" cy="315" r="2.42" fill="none" stroke="#2a2a2a" stroke-width="0.95"/>
<circle cx="411" cy="313.69" r="2.42" fill="none" stroke="#2a2a2a" stroke-width="0.95"/>
<circle cx="414.33" cy="312.82" r="2.42" fill="none" stroke="#2a2a2a" stroke-width="0.95"/>
<circle cx="417.67" cy="313.03" r="2.42" fill="none" stroke="#2a2a2a" stroke-width="0.95"/>
<circle cx="421" cy="313.67" r="2.42" fill="none" stroke="#2a2a2a" stroke-width="0.95"/>
<circle cx="411" cy="310.66" r="2.42" fill="none" stroke="#2a2a2a" stroke-width="0.95"/>
<circle cx="414.33" cy="311.12" r="2.42" fill="none" stroke="#2a2a2a" stroke-width="0.95"/>
<circle cx="417.67" cy="311.6" r="2.42" fill="none" stroke="#2a2a2a" stroke-width="0.95"/>
<circle cx="421" cy="311.54" r="2.42" fill="none" stroke="#2a2a2a" stroke-width="0.95"/>
<circle cx="412" cy="308.71" r="2.42" fill="none" stroke="#2a2a2a" stroke-width="0.95"/>
<circle cx="416" cy="308.7" r="2.42" fill="none" stroke="#2a2a2a" stroke-width="0.95"/>
<circle cx="420" cy="308.73" r="2.42" fill="none" stroke="#2a2a2a" stroke-width="0.95"/>
<circle cx="412.5" cy="307.8" r="2.42" fill="none" stroke="#2a2a2a" stroke-width="0.95"/>
<circle cx="416" cy="307" r="2.42" fill="none" stroke="#2a2a2a" stroke-width="0.95"/>
<circle cx="419.5" cy="307.59" r="2.42" fill="none" stroke="#2a2a2a" stroke-width="0.95"/>
<circle cx="416" cy="304.33" r="2.42" fill="none" stroke="#2a2a2a" stroke-width="0.95"/>
<circle cx="416" cy="301.7" r="2.42" fill="none" stroke="#2a2a2a" stroke-width="0.95"/>
<circle cx="416" cy="290.32" r="2.42" fill="none" stroke="#2a2a2a" stroke-width="0.95"/>
<g stroke="#2a2a2a" stroke-width="1.8" fill="none">
<line x1="403.5" y1="320.07" x2="428.5" y2="320.07"/>
<line x1="416" y1="312.21" x2="416" y2="327.93"/>
<line x1="409.7" y1="312.21" x2="422.3" y2="312.21"/>
<line x1="409.7" y1="327.93" x2="422.3" y2="327.93"/>
</g>
<rect x="450.93" y="333.39" width="4.74" height="4.74" fill="none" stroke="#666666" stroke-width="0.95"/>
<rect x="449.33" y="329.11" width="4.74" height="4.74" fill="none" stroke="#666666" stroke-width="0.95"/>
<rect x="452.53" y="328.76" width="4.74" height="4.74" fill="none" stroke="#666666" stroke-width="0.95"/>
<rect x="447.93" y="326.76" width="4.74" height="4.74" fill="none" stroke="#666666" stroke-width="0.95"/>
<rect x="450.93" y="326.36" width="4.74" height="4.74" fill="none" stroke="#666666" stroke-width="0.95"/>
<rect x="453.93" y="326.32" width="4.74" height="4.74" fill="none" stroke="#666666" stroke-width="0.95"/>
<rect x="446.43" y="324.08" width="4.74" height="4.74" fill="none" stroke="#666666" stroke-width="0.95"/>
<rect x="449.43" y="324.83" width="4.74" height="4.74" fill="none" stroke="#666666" stroke-width="0.95"/>
<rect x="452.43" y="324.99" width="4.74" height="4.74" fill="none" stroke="#666666" stroke-width="0.95"/>
<rect x="455.43" y="324.71" width="4.74" height="4.74" fill="none" stroke="#666666" stroke-width="0.95"/>
<rect x="444.43" y="323.05" width="4.74" height="4.74" fill="none" stroke="#666666" stroke-width="0.95"/>
<rect x="447.68" y="322.13" width="4.74" height="4.74" fill="none" stroke="#666666" stroke-width="0.95"/>
<rect x="450.93" y="322.34" width="4.74" height="4.74" fill="none" stroke="#666666" stroke-width="0.95"/>
<rect x="454.18" y="322.59" width="4.74" height="4.74" fill="none" stroke="#666666" stroke-width="0.95"/>
<rect x="457.43" y="323.07" width="4.74" height="4.74" fill="none" stroke="#666666" stroke-width="0.95"/>
<rect x="440.93" y="321.1" width="4.74" height="4.74" fill="none" stroke="#666666" stroke-width="0.95"/>
<rect x="444.26" y="320.53" width="4.74" height="4.74" fill="none" stroke="#666666" stroke-width="0.95"/>
<rect x="447.6" y="320.4" width="4.74" height="4.74" fill="none" stroke="#666666" stroke-width="0.95"/>
<rect x="450.93" y="320.58" width="4.74" height="4.74" fill="none" stroke="#666666" stroke-width="0.95"/>
<rect x="454.26" y="320.64" width="4.74" height="4.74" fill="none" stroke="#666666" stroke-width="0.95"/>
<rect x="457.6" y="321.07" width="4.74" height="4.74" fill="none" stroke="#666666" stroke-width="0.95"/>
<rect x="460.93" y="320.33" width="4.74" height="4.74" fill="none" stroke="#666666" stroke-width="0.95"/>
<rect x="440.93" y="318.98" width="4.74" height="4.74" fill="none" stroke="#666666" stroke-width="0.95"/>
<rect x="444.26" y="318.92" width="4.74" height="4.74" fill="none" stroke="#666666" stroke-width="0.95"/>
<rect x="447.6" y="319" width="4.74" height="4.74" fill="none" stroke="#666666" stroke-width="0.95"/>
<rect x="450.93" y="318.95" width="4.74" height="4.74" fill="none" stroke="#666666" stroke-width="0.95"/>
<rect x="454.26" y="318.79" width="4.74" height="4.74" fill="none" stroke="#666666" stroke-width="0.95"/>
<rect x="457.6" y="318.51" width="4.74" height="4.74" fill="none" stroke="#666666" stroke-width="0.95"/>
<rect x="460.93" y="318.5" width="4.74" height="4.74" fill="none" stroke="#666666" stroke-width="0.95"/>
<rect x="440.93" y="316.58" width="4.74" height="4.74" fill="none" stroke="#666666" stroke-width="0.95"/>
<rect x="444.26" y="317" width="4.74" height="4.74" fill="none" stroke="#666666" stroke-width="0.95"/>
<rect x="447.6" y="316.29" width="4.74" height="4.74" fill="none" stroke="#666666" stroke-width="0.95"/>
<rect x="450.93" y="316.41" width="4.74" height="4.74" fill="none" stroke="#666666" stroke-width="0.95"/>
<rect x="454.26" y="316.97" width="4.74" height="4.74" fill="none" stroke="#666666" stroke-width="0.95"/>
<rect x="457.6" y="316.46" width="4.74" height="4.74" fill="none" stroke="#666666" stroke-width="0.95"/>
<rect x="460.93" y="316.28" width="4.74" height="4.74" fill="none" stroke="#666666" stroke-width="0.95"/>
<rect x="440.93" y="314.28" width="4.74" height="4.74" fill="none" stroke="#666666" stroke-width="0.95"/>
<rect x="444.26" y="314.8" width="4.74" height="4.74" fill="none" stroke="#666666" stroke-width="0.95"/>
<rect x="447.6" y="314.57" width="4.74" height="4.74" fill="none" stroke="#666666" stroke-width="0.95"/>
<rect x="450.93" y="315.23" width="4.74" height="4.74" fill="none" stroke="#666666" stroke-width="0.95"/>
<rect x="454.26" y="315.13" width="4.74" height="4.74" fill="none" stroke="#666666" stroke-width="0.95"/>
<rect x="457.6" y="315.24" width="4.74" height="4.74" fill="none" stroke="#666666" stroke-width="0.95"/>
<rect x="460.93" y="314.51" width="4.74" height="4.74" fill="none" stroke="#666666" stroke-width="0.95"/>
<rect x="440.93" y="312.37" width="4.74" height="4.74" fill="none" stroke="#666666" stroke-width="0.95"/>
<rect x="444.26" y="312.38" width="4.74" height="4.74" fill="none" stroke="#666666" stroke-width="0.95"/>
<rect x="447.6" y="312.78" width="4.74" height="4.74" fill="none" stroke="#666666" stroke-width="0.95"/>
<rect x="450.93" y="312.99" width="4.74" height="4.74" fill="none" stroke="#666666" stroke-width="0.95"/>
<rect x="454.26" y="312.73" width="4.74" height="4.74" fill="none" stroke="#666666" stroke-width="0.95"/>
<rect x="457.6" y="312.52" width="4.74" height="4.74" fill="none" stroke="#666666" stroke-width="0.95"/>
<rect x="460.93" y="312.7" width="4.74" height="4.74" fill="none" stroke="#666666" stroke-width="0.95"/>
<rect x="440.93" y="310.94" width="4.74" height="4.74" fill="none" stroke="#666666" stroke-width="0.95"/>
<rect x="444.26" y="310.99" width="4.74" height="4.74" fill="none" stroke="#666666" stroke-width="0.95"/>
<rect x="447.6" y="311.07" width="4.74" height="4.74" fill="none" stroke="#666666" stroke-width="0.95"/>
<rect x="450.93" y="311.17" width="4.74" height="4.74" fill="none" stroke="#666666" stroke-width="0.95"/>
<rect x="454.26" y="310.98" width="4.74" height="4.74" fill="none" stroke="#666666" stroke-width="0.95"/>
<rect x="457.6" y="310.44" width="4.74" height="4.74" fill="none" stroke="#666666" stroke-width="0.95"/>
<rect x="460.93" y="311.16" width="4.74" height="4.74" fill="none" stroke="#666666" stroke-width="0.95"/>
<rect x="440.93" y="308.65" width="4.74" height="4.74" fill="none" stroke="#666666" stroke-width="0.95"/>
<rect x="444.26" y="308.92" width="4.74" height="4.74" fill="none" stroke="#666666" stroke-width="0.95"/>
<rect x="447.6" y="308.73" width="4.74" height="4.74" fill="none" stroke="#666666" stroke-width="0.95"/>
<rect x="450.93" y="309.09" width="4.74" height="4.74" fill="none" stroke="#666666" stroke-width="0.95"/>
<rect x="454.26" y="308.55" width="4.74" height="4.74" fill="none" stroke="#666666" stroke-width="0.95"/>
<rect x="457.6" y="308.6" width="4.74" height="4.74" fill="none" stroke="#666666" stroke-width="0.95"/>
<rect x="460.93" y="308.6" width="4.74" height="4.74" fill="none" stroke="#666666" stroke-width="0.95"/>
<rect x="441.93" y="306.54" width="4.74" height="4.74" fill="none" stroke="#666666" stroke-width="0.95"/>
<rect x="445.53" y="307.27" width="4.74" height="4.74" fill="none" stroke="#666666" stroke-width="0.95"/>
<rect x="449.13" y="306.97" width="4.74" height="4.74" fill="none" stroke="#666666" stroke-width="0.95"/>
<rect x="452.73" y="306.71" width="4.74" height="4.74" fill="none" stroke="#666666" stroke-width="0.95"/>
<rect x="456.33" y="306.78" width="4.74" height="4.74" fill="none" stroke="#666666" stroke-width="0.95"/>
<rect x="459.93" y="307.38" width="4.74" height="4.74" fill="none" stroke="#666666" stroke-width="0.95"/>
<rect x="446.43" y="304.93" width="4.74" height="4.74" fill="none" stroke="#666666" stroke-width="0.95"/>
<rect x="449.43" y="304.65" width="4.74" height="4.74" fill="none" stroke="#666666" stroke-width="0.95"/>
<rect x="452.43" y="305.23" width="4.74" height="4.74" fill="none" stroke="#666666" stroke-width="0.95"/>
<rect x="455.43" y="305.08" width="4.74" height="4.74" fill="none" stroke="#666666" stroke-width="0.95"/>
<rect x="446.73" y="303.45" width="4.74" height="4.74" fill="none" stroke="#666666" stroke-width="0.95"/>
<rect x="449.53" y="302.56" width="4.74" height="4.74" fill="none" stroke="#666666" stroke-width="0.95"/>
<rect x="452.33" y="302.93" width="4.74" height="4.74" fill="none" stroke="#666666" stroke-width="0.95"/>
<rect x="455.13" y="303.28" width="4.74" height="4.74" fill="none" stroke="#666666" stroke-width="0.95"/>
<rect x="450.93" y="300.35" width="4.74" height="4.74" fill="none" stroke="#666666" stroke-width="0.95"/>
<rect x="450.93" y="294.53" width="4.74" height="4.74" fill="none" stroke="#666666" stroke-width="0.95"/>
<rect x="450.93" y="290.71" width="4.74" height="4.74" fill="none" stroke="#666666" stroke-width="0.95"/>
<rect x="450.93" y="283.34" width="4.74" height="4.74" fill="none" stroke="#666666" stroke-width="0.95"/>
<g stroke="#3c3c3c" stroke-width="1.8" fill="none">
<line x1="440.8" y1="315.89" x2="465.8" y2="315.89"/>
<line x1="453.3" y1="307.29" x2="453.3" y2="324.98"/>
<line x1="447" y1="307.29" x2="459.6" y2="307.29"/>
<line x1="447" y1="324.98" x2="459.6" y2="324.98"/>
</g>
<path d="M490.5 288.68L493.02 293.71L487.98 293.71Z" fill="none" stroke="#a4a4a4" stroke-width="0.95"/>
<path d="M480.3 299.49L482.82 304.52L477.78 304.52Z" fill="none" stroke="#a4a4a4" stroke-width="0.95"/>
<path d="M485.6 299.49L488.12 304.52L483.08 304.52Z" fill="none" stroke="#a4a4a4" stroke-width="0.95"/>
<path d="M495.5 299.49L498.02 304.52L492.98 304.52Z" fill="none" stroke="#a4a4a4" stroke-width="0.95"/>
<path d="M500.8 299.49L503.32 304.52L498.28 304.52Z" fill="none" stroke="#a4a4a4" stroke-width="0.95"/>
<path d="M482.9 304.89L485.42 309.92L480.38 309.92Z" fill="none" stroke="#a4a4a4" stroke-width="0.95"/>
<path d="M488.2 304.89L490.72 309.92L485.68 309.92Z" fill="none" stroke="#a4a4a4" stroke-width="0.95"/>
<path d="M493.1 304.89L495.62 309.92L490.58 309.92Z" fill="none" stroke="#a4a4a4" stroke-width="0.95"/>
<path d="M498.2 304.89L500.72 309.92L495.68 309.92Z" fill="none" stroke="#a4a4a4" stroke-width="0.95"/>
<path d="M488.2 310.79L490.72 315.82L485.68 315.82Z" fill="none" stroke="#a4a4a4" stroke-width="0.95"/>
<path d="M493.1 310.79L495.62 315.82L490.58 315.82Z" fill="none" stroke="#a4a4a4" stroke-width="0.95"/>
<path d="M488.2 315.21L490.72 320.24L485.68 320.24Z" fill="none" stroke="#a4a4a4" stroke-width="0.95"/>
<path d="M493.1 315.21L495.62 320.24L490.58 320.24Z" fill="none" stroke="#a4a4a4" stroke-width="0.95"/>
<path d="M488.2 321.6L490.72 326.63L485.68 326.63Z" fill="none" stroke="#a4a4a4" stroke-width="0.95"/>
<path d="M493.1 321.6L495.62 326.63L490.58 326.63Z" fill="none" stroke="#a4a4a4" stroke-width="0.95"/>
<path d="M498.2 321.6L500.72 326.63L495.68 326.63Z" fill="none" stroke="#a4a4a4" stroke-width="0.95"/>
<path d="M482.9 324.54L485.42 329.58L480.38 329.58Z" fill="none" stroke="#a4a4a4" stroke-width="0.95"/>
<g stroke="#3c3c3c" stroke-width="1.8" fill="none">
<line x1="478" y1="310.73" x2="503" y2="310.73"/>
<line x1="490.5" y1="300.91" x2="490.5" y2="321.05"/>
<line x1="484.3" y1="300.91" x2="496.7" y2="300.91"/>
<line x1="484.3" y1="321.05" x2="496.7" y2="321.05"/>
</g>
<line x1="455.4" y1="232.5" x2="624.8" y2="232.5" stroke="#9a9a9a" stroke-width="0.8" stroke-dasharray="0.9 1.6"/>
<text x="538.8" y="227.74" font-size="7.8" fill="#8a8a8a" text-anchor="middle">p&lt;0.0009</text>
<line x1="451.7" y1="247.3" x2="496" y2="247.3" stroke="#9a9a9a" stroke-width="0.9"/>
<text x="473.5" y="244.34" font-size="7.8" fill="#8a8a8a" text-anchor="middle">ns</text>
<line x1="414" y1="261.4" x2="493" y2="261.4" stroke="#9a9a9a" stroke-width="0.9"/>
<text x="453" y="257.84" font-size="7.8" fill="#8a8a8a" text-anchor="middle">p&lt;0.05</text>
<line x1="413.5" y1="273.2" x2="456.7" y2="273.2" stroke="#9a9a9a" stroke-width="0.9" stroke-dasharray="2.5 1.4"/>
<text x="434.8" y="271.14" font-size="7.8" fill="#8a8a8a" text-anchor="middle">p&lt;0.0001</text>
<g stroke="#333" stroke-width="1.1" fill="none">
<line x1="572" y1="261.1" x2="572" y2="335.8"/>
<line x1="571.5" y1="335.3" x2="686" y2="335.3"/>
<line x1="569.7" y1="335.3" x2="572" y2="335.3"/>
<line x1="569.7" y1="323.02" x2="572" y2="323.02"/>
<line x1="569.7" y1="310.73" x2="572" y2="310.73"/>
<line x1="569.7" y1="298.45" x2="572" y2="298.45"/>
<line x1="569.7" y1="286.17" x2="572" y2="286.17"/>
<line x1="569.7" y1="273.88" x2="572" y2="273.88"/>
<line x1="569.7" y1="261.6" x2="572" y2="261.6"/>
<line x1="590.2" y1="335.3" x2="590.2" y2="337.8"/>
<line x1="628" y1="335.3" x2="628" y2="337.8"/>
<line x1="665.6" y1="335.3" x2="665.6" y2="337.8"/>
</g>
<g font-size="7.6" font-weight="bold" fill="#1a1a1a" stroke="#1a1a1a" stroke-width="0.1" text-anchor="end">
<text x="568.8" y="337.73">0.0</text>
<text x="568.8" y="325.45">2.5</text>
<text x="568.8" y="313.17">5.0</text>
<text x="568.8" y="300.88">7.5</text>
<text x="568.8" y="288.6">10.0</text>
<text x="568.8" y="276.32">12.5</text>
<text x="568.8" y="264.03">15.0</text>
</g>
<g font-size="8.5" font-weight="bold" fill="#1a1a1a" stroke="#1a1a1a" stroke-width="0.12" text-anchor="end">
<text transform="translate(593.8 344.1) rotate(-45)">T0_MAd</text>
<text transform="translate(631.6 344.1) rotate(-45)">T1_MAd</text>
<text transform="translate(669.2 344.1) rotate(-45)">CTRL</text>
</g>
<text transform="translate(548.5 296) rotate(-90)" font-size="12.2" font-weight="bold" fill="#1a1a1a" stroke="#1a1a1a" stroke-width="0.22" text-anchor="middle">Arm Lat 1RM (Kg)</text>
<circle cx="588.7" cy="332.5" r="2.42" fill="none" stroke="#2a2a2a" stroke-width="0.95"/>
<circle cx="591.7" cy="332.56" r="2.42" fill="none" stroke="#2a2a2a" stroke-width="0.95"/>
<circle cx="585.2" cy="331.55" r="2.42" fill="none" stroke="#2a2a2a" stroke-width="0.95"/>
<circle cx="588.53" cy="331.2" r="2.42" fill="none" stroke="#2a2a2a" stroke-width="0.95"/>
<circle cx="591.87" cy="331.51" r="2.42" fill="none" stroke="#2a2a2a" stroke-width="0.95"/>
<circle cx="595.2" cy="331.01" r="2.42" fill="none" stroke="#2a2a2a" stroke-width="0.95"/>
<circle cx="580.4" cy="329.73" r="2.42" fill="none" stroke="#2a2a2a" stroke-width="0.95"/>
<circle cx="583.2" cy="329.36" r="2.42" fill="none" stroke="#2a2a2a" stroke-width="0.95"/>
<circle cx="586" cy="329.19" r="2.42" fill="none" stroke="#2a2a2a" stroke-width="0.95"/>
<circle cx="588.8" cy="329.65" r="2.42" fill="none" stroke="#2a2a2a" stroke-width="0.95"/>
<circle cx="591.6" cy="329.81" r="2.42" fill="none" stroke="#2a2a2a" stroke-width="0.95"/>
<circle cx="594.4" cy="329.05" r="2.42" fill="none" stroke="#2a2a2a" stroke-width="0.95"/>
<circle cx="597.2" cy="329.49" r="2.42" fill="none" stroke="#2a2a2a" stroke-width="0.95"/>
<circle cx="600" cy="329.51" r="2.42" fill="none" stroke="#2a2a2a" stroke-width="0.95"/>
<circle cx="580.4" cy="327.18" r="2.42" fill="none" stroke="#2a2a2a" stroke-width="0.95"/>
<circle cx="583.2" cy="327.32" r="2.42" fill="none" stroke="#2a2a2a" stroke-width="0.95"/>
<circle cx="586" cy="327.12" r="2.42" fill="none" stroke="#2a2a2a" stroke-width="0.95"/>
<circle cx="588.8" cy="327.17" r="2.42" fill="none" stroke="#2a2a2a" stroke-width="0.95"/>
<circle cx="591.6" cy="327.22" r="2.42" fill="none" stroke="#2a2a2a" stroke-width="0.95"/>
<circle cx="594.4" cy="327.53" r="2.42" fill="none" stroke="#2a2a2a" stroke-width="0.95"/>
<circle cx="597.2" cy="327.58" r="2.42" fill="none" stroke="#2a2a2a" stroke-width="0.95"/>
<circle cx="600" cy="327.17" r="2.42" fill="none" stroke="#2a2a2a" stroke-width="0.95"/>
<circle cx="580.4" cy="325.03" r="2.42" fill="none" stroke="#2a2a2a" stroke-width="0.95"/>
<circle cx="583.2" cy="325.32" r="2.42" fill="none" stroke="#2a2a2a" stroke-width="0.95"/>
<circle cx="586" cy="325.63" r="2.42" fill="none" stroke="#2a2a2a" stroke-width="0.95"/>
<circle cx="588.8" cy="325.19" r="2.42" fill="none" stroke="#2a2a2a" stroke-width="0.95"/>
<circle cx="591.6" cy="325.3" r="2.42" fill="none" stroke="#2a2a2a" stroke-width="0.95"/>
<circle cx="594.4" cy="325.21" r="2.42" fill="none" stroke="#2a2a2a" stroke-width="0.95"/>
<circle cx="597.2" cy="325.74" r="2.42" fill="none" stroke="#2a2a2a" stroke-width="0.95"/>
<circle cx="600" cy="325.52" r="2.42" fill="none" stroke="#2a2a2a" stroke-width="0.95"/>
<circle cx="584.2" cy="323.36" r="2.42" fill="none" stroke="#2a2a2a" stroke-width="0.95"/>
<circle cx="587.2" cy="323.39" r="2.42" fill="none" stroke="#2a2a2a" stroke-width="0.95"/>
<circle cx="590.2" cy="323.66" r="2.42" fill="none" stroke="#2a2a2a" stroke-width="0.95"/>
<circle cx="593.2" cy="323.8" r="2.42" fill="none" stroke="#2a2a2a" stroke-width="0.95"/>
<circle cx="596.2" cy="323.88" r="2.42" fill="none" stroke="#2a2a2a" stroke-width="0.95"/>
<circle cx="586.8" cy="321.67" r="2.42" fill="none" stroke="#2a2a2a" stroke-width="0.95"/>
<circle cx="590.2" cy="321.73" r="2.42" fill="none" stroke="#2a2a2a" stroke-width="0.95"/>
<circle cx="593.6" cy="322.21" r="2.42" fill="none" stroke="#2a2a2a" stroke-width="0.95"/>
<circle cx="586.8" cy="319.99" r="2.42" fill="none" stroke="#2a2a2a" stroke-width="0.95"/>
<circle cx="590.2" cy="319.87" r="2.42" fill="none" stroke="#2a2a2a" stroke-width="0.95"/>
<circle cx="593.6" cy="319.9" r="2.42" fill="none" stroke="#2a2a2a" stroke-width="0.95"/>
<circle cx="586.8" cy="318.51" r="2.42" fill="none" stroke="#2a2a2a" stroke-width="0.95"/>
<circle cx="590.2" cy="317.93" r="2.42" fill="none" stroke="#2a2a2a" stroke-width="0.95"/>
<circle cx="593.6" cy="318.16" r="2.42" fill="none" stroke="#2a2a2a" stroke-width="0.95"/>
<circle cx="587" cy="316.26" r="2.42" fill="none" stroke="#2a2a2a" stroke-width="0.95"/>
<circle cx="590.2" cy="316.31" r="2.42" fill="none" stroke="#2a2a2a" stroke-width="0.95"/>
<circle cx="593.4" cy="316.71" r="2.42" fill="none" stroke="#2a2a2a" stroke-width="0.95"/>
<circle cx="588" cy="314.87" r="2.42" fill="none" stroke="#2a2a2a" stroke-width="0.95"/>
<circle cx="592.4" cy="314.3" r="2.42" fill="none" stroke="#2a2a2a" stroke-width="0.95"/>
<circle cx="588.6" cy="311.93" r="2.42" fill="none" stroke="#2a2a2a" stroke-width="0.95"/>
<circle cx="591.8" cy="312.41" r="2.42" fill="none" stroke="#2a2a2a" stroke-width="0.95"/>
<circle cx="587.9" cy="309.98" r="2.42" fill="none" stroke="#2a2a2a" stroke-width="0.95"/>
<circle cx="592.5" cy="309.8" r="2.42" fill="none" stroke="#2a2a2a" stroke-width="0.95"/>
<circle cx="590.2" cy="307.66" r="2.42" fill="none" stroke="#2a2a2a" stroke-width="0.95"/>
<g stroke="#2a2a2a" stroke-width="1.8" fill="none">
<line x1="577.7" y1="323.51" x2="602.7" y2="323.51"/>
<line x1="590.2" y1="317.61" x2="590.2" y2="329.4"/>
<line x1="583.9" y1="317.61" x2="596.5" y2="317.61"/>
<line x1="583.9" y1="329.4" x2="596.5" y2="329.4"/>
</g>
<rect x="625.63" y="332.88" width="4.74" height="4.74" fill="none" stroke="#666666" stroke-width="0.95"/>
<rect x="621.93" y="328.24" width="4.74" height="4.74" fill="none" stroke="#666666" stroke-width="0.95"/>
<rect x="624.4" y="327.95" width="4.74" height="4.74" fill="none" stroke="#666666" stroke-width="0.95"/>
<rect x="626.86" y="328.28" width="4.74" height="4.74" fill="none" stroke="#666666" stroke-width="0.95"/>
<rect x="629.33" y="327.99" width="4.74" height="4.74" fill="none" stroke="#666666" stroke-width="0.95"/>
<rect x="621.73" y="325.57" width="4.74" height="4.74" fill="none" stroke="#666666" stroke-width="0.95"/>
<rect x="624.33" y="325.46" width="4.74" height="4.74" fill="none" stroke="#666666" stroke-width="0.95"/>
<rect x="626.93" y="325.84" width="4.74" height="4.74" fill="none" stroke="#666666" stroke-width="0.95"/>
<rect x="629.53" y="325.9" width="4.74" height="4.74" fill="none" stroke="#666666" stroke-width="0.95"/>
<rect x="615.83" y="323.88" width="4.74" height="4.74" fill="none" stroke="#666666" stroke-width="0.95"/>
<rect x="618.63" y="323.31" width="4.74" height="4.74" fill="none" stroke="#666666" stroke-width="0.95"/>
<rect x="621.43" y="323.68" width="4.74" height="4.74" fill="none" stroke="#666666" stroke-width="0.95"/>
<rect x="624.23" y="323.5" width="4.74" height="4.74" fill="none" stroke="#666666" stroke-width="0.95"/>
<rect x="627.03" y="323.6" width="4.74" height="4.74" fill="none" stroke="#666666" stroke-width="0.95"/>
<rect x="629.83" y="323.35" width="4.74" height="4.74" fill="none" stroke="#666666" stroke-width="0.95"/>
<rect x="632.63" y="323.44" width="4.74" height="4.74" fill="none" stroke="#666666" stroke-width="0.95"/>
<rect x="635.43" y="323.61" width="4.74" height="4.74" fill="none" stroke="#666666" stroke-width="0.95"/>
<rect x="615.83" y="322.17" width="4.74" height="4.74" fill="none" stroke="#666666" stroke-width="0.95"/>
<rect x="618.63" y="321.6" width="4.74" height="4.74" fill="none" stroke="#666666" stroke-width="0.95"/>
<rect x="621.43" y="321.87" width="4.74" height="4.74" fill="none" stroke="#666666" stroke-width="0.95"/>
<rect x="624.23" y="322.09" width="4.74" height="4.74" fill="none" stroke="#666666" stroke-width="0.95"/>
<rect x="627.03" y="322.2" width="4.74" height="4.74" fill="none" stroke="#666666" stroke-width="0.95"/>
<rect x="629.83" y="321.66" width="4.74" height="4.74" fill="none" stroke="#666666" stroke-width="0.95"/>
<rect x="632.63" y="321.61" width="4.74" height="4.74" fill="none" stroke="#666666" stroke-width="0.95"/>
<rect x="635.43" y="322.18" width="4.74" height="4.74" fill="none" stroke="#666666" stroke-width="0.95"/>
<rect x="621.93" y="320" width="4.74" height="4.74" fill="none" stroke="#666666" stroke-width="0.95"/>
<rect x="624.4" y="319.65" width="4.74" height="4.74" fill="none" stroke="#666666" stroke-width="0.95"/>
<rect x="626.86" y="319.35" width="4.74" height="4.74" fill="none" stroke="#666666" stroke-width="0.95"/>
<rect x="629.33" y="319.96" width="4.74" height="4.74" fill="none" stroke="#666666" stroke-width="0.95"/>
<rect x="621.93" y="317.62" width="4.74" height="4.74" fill="none" stroke="#666666" stroke-width="0.95"/>
<rect x="624.4" y="317.98" width="4.74" height="4.74" fill="none" stroke="#666666" stroke-width="0.95"/>
<rect x="626.86" y="317.78" width="4.74" height="4.74" fill="none" stroke="#666666" stroke-width="0.95"/>
<rect x="629.33" y="317.92" width="4.74" height="4.74" fill="none" stroke="#666666" stroke-width="0.95"/>
<rect x="621.93" y="315.49" width="4.74" height="4.74" fill="none" stroke="#666666" stroke-width="0.95"/>
<rect x="624.4" y="315.93" width="4.74" height="4.74" fill="none" stroke="#666666" stroke-width="0.95"/>
<rect x="626.86" y="315.54" width="4.74" height="4.74" fill="none" stroke="#666666" stroke-width="0.95"/>
<rect x="629.33" y="315.66" width="4.74" height="4.74" fill="none" stroke="#666666" stroke-width="0.95"/>
<rect x="622.13" y="314.01" width="4.74" height="4.74" fill="none" stroke="#666666" stroke-width="0.95"/>
<rect x="625.63" y="314" width="4.74" height="4.74" fill="none" stroke="#666666" stroke-width="0.95"/>
<rect x="629.13" y="313.54" width="4.74" height="4.74" fill="none" stroke="#666666" stroke-width="0.95"/>
<rect x="622.63" y="311.6" width="4.74" height="4.74" fill="none" stroke="#666666" stroke-width="0.95"/>
<rect x="625.63" y="311.73" width="4.74" height="4.74" fill="none" stroke="#666666" stroke-width="0.95"/>
<rect x="628.63" y="311.81" width="4.74" height="4.74" fill="none" stroke="#666666" stroke-width="0.95"/>
<rect x="622.63" y="309.75" width="4.74" height="4.74" fill="none" stroke="#666666" stroke-width="0.95"/>
<rect x="625.63" y="309.57" width="4.74" height="4.74" fill="none" stroke="#666666" stroke-width="0.95"/>
<rect x="628.63" y="309.66" width="4.74" height="4.74" fill="none" stroke="#666666" stroke-width="0.95"/>
<rect x="623.63" y="308.03" width="4.74" height="4.74" fill="none" stroke="#666666" stroke-width="0.95"/>
<rect x="627.63" y="308.15" width="4.74" height="4.74" fill="none" stroke="#666666" stroke-width="0.95"/>
<rect x="625.63" y="305.58" width="4.74" height="4.74" fill="none" stroke="#666666" stroke-width="0.95"/>
<rect x="625.63" y="303.49" width="4.74" height="4.74" fill="none" stroke="#666666" stroke-width="0.95"/>
<g stroke="#3c3c3c" stroke-width="1.8" fill="none">
<line x1="615.5" y1="322.28" x2="640.5" y2="322.28"/>
<line x1="628" y1="315.65" x2="628" y2="328.91"/>
<line x1="621.7" y1="315.65" x2="634.3" y2="315.65"/>
<line x1="621.7" y1="328.91" x2="634.3" y2="328.91"/>
</g>
<path d="M665.6 288.68L668.12 293.71L663.08 293.71Z" fill="none" stroke="#a4a4a4" stroke-width="0.95"/>
<path d="M655.4 299.49L657.92 304.52L652.88 304.52Z" fill="none" stroke="#a4a4a4" stroke-width="0.95"/>
<path d="M660.7 299.49L663.22 304.52L658.18 304.52Z" fill="none" stroke="#a4a4a4" stroke-width="0.95"/>
<path d="M670.6 299.49L673.12 304.52L668.08 304.52Z" fill="none" stroke="#a4a4a4" stroke-width="0.95"/>
<path d="M675.9 299.49L678.42 304.52L673.38 304.52Z" fill="none" stroke="#a4a4a4" stroke-width="0.95"/>
<path d="M658 304.89L660.52 309.92L655.48 309.92Z" fill="none" stroke="#a4a4a4" stroke-width="0.95"/>
<path d="M663.3 304.89L665.82 309.92L660.78 309.92Z" fill="none" stroke="#a4a4a4" stroke-width="0.95"/>
<path d="M668.2 304.89L670.72 309.92L665.68 309.92Z" fill="none" stroke="#a4a4a4" stroke-width="0.95"/>
<path d="M673.3 304.89L675.82 309.92L670.78 309.92Z" fill="none" stroke="#a4a4a4" stroke-width="0.95"/>
<path d="M663.3 310.79L665.82 315.82L660.78 315.82Z" fill="none" stroke="#a4a4a4" stroke-width="0.95"/>
<path d="M668.2 310.79L670.72 315.82L665.68 315.82Z" fill="none" stroke="#a4a4a4" stroke-width="0.95"/>
<path d="M663.3 315.21L665.82 320.24L660.78 320.24Z" fill="none" stroke="#a4a4a4" stroke-width="0.95"/>
<path d="M668.2 315.21L670.72 320.24L665.68 320.24Z" fill="none" stroke="#a4a4a4" stroke-width="0.95"/>
<path d="M663.3 321.6L665.82 326.63L660.78 326.63Z" fill="none" stroke="#a4a4a4" stroke-width="0.95"/>
<path d="M668.2 321.6L670.72 326.63L665.68 326.63Z" fill="none" stroke="#a4a4a4" stroke-width="0.95"/>
<path d="M673.3 321.6L675.82 326.63L670.78 326.63Z" fill="none" stroke="#a4a4a4" stroke-width="0.95"/>
<path d="M658 324.54L660.52 329.58L655.48 329.58Z" fill="none" stroke="#a4a4a4" stroke-width="0.95"/>
<g stroke="#3c3c3c" stroke-width="1.8" fill="none">
<line x1="653.1" y1="310.73" x2="678.1" y2="310.73"/>
<line x1="665.6" y1="300.91" x2="665.6" y2="321.05"/>
<line x1="659.4" y1="300.91" x2="671.8" y2="300.91"/>
<line x1="659.4" y1="321.05" x2="671.8" y2="321.05"/>
</g>
<line x1="626" y1="244.3" x2="670.8" y2="244.3" stroke="#9a9a9a" stroke-width="0.9"/>
<text x="648.2" y="241.24" font-size="7.8" fill="#8a8a8a" text-anchor="middle">p&lt;0.01</text>
<line x1="588.9" y1="258.8" x2="667.5" y2="258.8" stroke="#9a9a9a" stroke-width="0.9"/>
<text x="627.8" y="255.14" font-size="7.8" fill="#8a8a8a" text-anchor="middle">p&lt;0.0001</text>
<line x1="588.4" y1="274.2" x2="631" y2="274.2" stroke="#9a9a9a" stroke-width="0.9" stroke-dasharray="2.5 1.4"/>
<text x="610" y="269.94" font-size="7.8" fill="#8a8a8a" text-anchor="middle">p&lt;0.0001</text>
<g stroke="#333" stroke-width="1.1" fill="none">
<line x1="34.3" y1="457.5" x2="34.3" y2="533"/>
<line x1="33.8" y1="532.5" x2="146.5" y2="532.5"/>
<line x1="32" y1="532.5" x2="34.3" y2="532.5"/>
<line x1="32" y1="520.08" x2="34.3" y2="520.08"/>
<line x1="32" y1="507.67" x2="34.3" y2="507.67"/>
<line x1="32" y1="495.25" x2="34.3" y2="495.25"/>
<line x1="32" y1="482.83" x2="34.3" y2="482.83"/>
<line x1="32" y1="470.42" x2="34.3" y2="470.42"/>
<line x1="32" y1="458" x2="34.3" y2="458"/>
<line x1="52.8" y1="532.5" x2="52.8" y2="535"/>
<line x1="90.5" y1="532.5" x2="90.5" y2="535"/>
<line x1="128" y1="532.5" x2="128" y2="535"/>
</g>
<g font-size="7.6" font-weight="bold" fill="#1a1a1a" stroke="#1a1a1a" stroke-width="0.1" text-anchor="end">
<text x="31.1" y="534.93">-30</text>
<text x="31.1" y="522.52">-20</text>
<text x="31.1" y="510.1">-10</text>
<text x="31.1" y="497.68">0</text>
<text x="31.1" y="485.27">10</text>
<text x="31.1" y="472.85">20</text>
<text x="31.1" y="460.43">30</text>
</g>
<g font-size="8.2" font-weight="bold" fill="#1a1a1a" stroke="#1a1a1a" stroke-width="0.12" text-anchor="end">
<text transform="translate(56.3 540.7) rotate(-45)">T0_HAd</text>
<text transform="translate(94 540.7) rotate(-45)">T1_HAd</text>
<text transform="translate(131.5 540.7) rotate(-45)">CTRL</text>
</g>
<text transform="translate(15 494.5) rotate(-90)" font-size="10.2" font-weight="bold" fill="#1a1a1a" stroke="#1a1a1a" stroke-width="0.18" text-anchor="middle">Flexibility (cm)</text>
<circle cx="51" cy="521.27" r="2.42" fill="none" stroke="#2a2a2a" stroke-width="0.95"/>
<circle cx="54.6" cy="519.69" r="2.42" fill="none" stroke="#2a2a2a" stroke-width="0.95"/>
<circle cx="49.8" cy="519.09" r="2.42" fill="none" stroke="#2a2a2a" stroke-width="0.95"/>
<circle cx="52.8" cy="517.5" r="2.42" fill="none" stroke="#2a2a2a" stroke-width="0.95"/>
<circle cx="55.8" cy="518.56" r="2.42" fill="none" stroke="#2a2a2a" stroke-width="0.95"/>
<circle cx="49.3" cy="515.23" r="2.42" fill="none" stroke="#2a2a2a" stroke-width="0.95"/>
<circle cx="52.8" cy="515.4" r="2.42" fill="none" stroke="#2a2a2a" stroke-width="0.95"/>
<circle cx="56.3" cy="514.69" r="2.42" fill="none" stroke="#2a2a2a" stroke-width="0.95"/>
<circle cx="47.3" cy="511.59" r="2.42" fill="none" stroke="#2a2a2a" stroke-width="0.95"/>
<circle cx="50.97" cy="511.95" r="2.42" fill="none" stroke="#2a2a2a" stroke-width="0.95"/>
<circle cx="54.63" cy="511.6" r="2.42" fill="none" stroke="#2a2a2a" stroke-width="0.95"/>
<circle cx="58.3" cy="512.11" r="2.42" fill="none" stroke="#2a2a2a" stroke-width="0.95"/>
<circle cx="46.3" cy="508.79" r="2.42" fill="none" stroke="#2a2a2a" stroke-width="0.95"/>
<circle cx="50.63" cy="508.77" r="2.42" fill="none" stroke="#2a2a2a" stroke-width="0.95"/>
<circle cx="54.97" cy="507.86" r="2.42" fill="none" stroke="#2a2a2a" stroke-width="0.95"/>
<circle cx="59.3" cy="509.17" r="2.42" fill="none" stroke="#2a2a2a" stroke-width="0.95"/>
<circle cx="44.8" cy="506.03" r="2.42" fill="none" stroke="#2a2a2a" stroke-width="0.95"/>
<circle cx="48.8" cy="505.47" r="2.42" fill="none" stroke="#2a2a2a" stroke-width="0.95"/>
<circle cx="52.8" cy="506.63" r="2.42" fill="none" stroke="#2a2a2a" stroke-width="0.95"/>
<circle cx="56.8" cy="506.67" r="2.42" fill="none" stroke="#2a2a2a" stroke-width="0.95"/>
<circle cx="60.8" cy="505.96" r="2.42" fill="none" stroke="#2a2a2a" stroke-width="0.95"/>
<circle cx="43.8" cy="502.49" r="2.42" fill="none" stroke="#2a2a2a" stroke-width="0.95"/>
<circle cx="47.4" cy="503.14" r="2.42" fill="none" stroke="#2a2a2a" stroke-width="0.95"/>
<circle cx="51" cy="502.33" r="2.42" fill="none" stroke="#2a2a2a" stroke-width="0.95"/>
<circle cx="54.6" cy="502.38" r="2.42" fill="none" stroke="#2a2a2a" stroke-width="0.95"/>
<circle cx="58.2" cy="503.04" r="2.42" fill="none" stroke="#2a2a2a" stroke-width="0.95"/>
<circle cx="61.8" cy="502.3" r="2.42" fill="none" stroke="#2a2a2a" stroke-width="0.95"/>
<circle cx="43.5" cy="500.21" r="2.42" fill="none" stroke="#2a2a2a" stroke-width="0.95"/>
<circle cx="47.22" cy="500.36" r="2.42" fill="none" stroke="#2a2a2a" stroke-width="0.95"/>
<circle cx="50.94" cy="499.33" r="2.42" fill="none" stroke="#2a2a2a" stroke-width="0.95"/>
<circle cx="54.66" cy="500.64" r="2.42" fill="none" stroke="#2a2a2a" stroke-width="0.95"/>
<circle cx="58.38" cy="499.42" r="2.42" fill="none" stroke="#2a2a2a" stroke-width="0.95"/>
<circle cx="62.1" cy="500.85" r="2.42" fill="none" stroke="#2a2a2a" stroke-width="0.95"/>
<circle cx="43.3" cy="498.1" r="2.42" fill="none" stroke="#2a2a2a" stroke-width="0.95"/>
<circle cx="47.1" cy="497.51" r="2.42" fill="none" stroke="#2a2a2a" stroke-width="0.95"/>
<circle cx="50.9" cy="496.5" r="2.42" fill="none" stroke="#2a2a2a" stroke-width="0.95"/>
<circle cx="54.7" cy="497.49" r="2.42" fill="none" stroke="#2a2a2a" stroke-width="0.95"/>
<circle cx="58.5" cy="497.22" r="2.42" fill="none" stroke="#2a2a2a" stroke-width="0.95"/>
<circle cx="62.3" cy="498.48" r="2.42" fill="none" stroke="#2a2a2a" stroke-width="0.95"/>
<circle cx="43.3" cy="493.83" r="2.42" fill="none" stroke="#2a2a2a" stroke-width="0.95"/>
<circle cx="47.1" cy="495.41" r="2.42" fill="none" stroke="#2a2a2a" stroke-width="0.95"/>
<circle cx="50.9" cy="495.72" r="2.42" fill="none" stroke="#2a2a2a" stroke-width="0.95"/>
<circle cx="54.7" cy="495.14" r="2.42" fill="none" stroke="#2a2a2a" stroke-width="0.95"/>
<circle cx="58.5" cy="495.32" r="2.42" fill="none" stroke="#2a2a2a" stroke-width="0.95"/>
<circle cx="62.3" cy="493.96" r="2.42" fill="none" stroke="#2a2a2a" stroke-width="0.95"/>
<circle cx="44.8" cy="492.83" r="2.42" fill="none" stroke="#2a2a2a" stroke-width="0.95"/>
<circle cx="48.8" cy="491.76" r="2.42" fill="none" stroke="#2a2a2a" stroke-width="0.95"/>
<circle cx="52.8" cy="492.78" r="2.42" fill="none" stroke="#2a2a2a" stroke-width="0.95"/>
<circle cx="56.8" cy="492.69" r="2.42" fill="none" stroke="#2a2a2a" stroke-width="0.95"/>
<circle cx="60.8" cy="491.04" r="2.42" fill="none" stroke="#2a2a2a" stroke-width="0.95"/>
<circle cx="46.3" cy="489.68" r="2.42" fill="none" stroke="#2a2a2a" stroke-width="0.95"/>
<circle cx="50.63" cy="489.99" r="2.42" fill="none" stroke="#2a2a2a" stroke-width="0.95"/>
<circle cx="54.97" cy="488.09" r="2.42" fill="none" stroke="#2a2a2a" stroke-width="0.95"/>
<circle cx="59.3" cy="488.71" r="2.42" fill="none" stroke="#2a2a2a" stroke-width="0.95"/>
<circle cx="48.3" cy="487.12" r="2.42" fill="none" stroke="#2a2a2a" stroke-width="0.95"/>
<circle cx="52.8" cy="485.81" r="2.42" fill="none" stroke="#2a2a2a" stroke-width="0.95"/>
<circle cx="57.3" cy="487.43" r="2.42" fill="none" stroke="#2a2a2a" stroke-width="0.95"/>
<circle cx="49.3" cy="483.83" r="2.42" fill="none" stroke="#2a2a2a" stroke-width="0.95"/>
<circle cx="52.8" cy="485.02" r="2.42" fill="none" stroke="#2a2a2a" stroke-width="0.95"/>
<circle cx="56.3" cy="483.54" r="2.42" fill="none" stroke="#2a2a2a" stroke-width="0.95"/>
<circle cx="52.8" cy="480.85" r="2.42" fill="none" stroke="#2a2a2a" stroke-width="0.95"/>
<circle cx="52.8" cy="476.8" r="2.42" fill="none" stroke="#2a2a2a" stroke-width="0.95"/>
<circle cx="52.8" cy="470.15" r="2.42" fill="none" stroke="#2a2a2a" stroke-width="0.95"/>
<circle cx="52.8" cy="469.77" r="2.42" fill="none" stroke="#2a2a2a" stroke-width="0.95"/>
<g stroke="#2a2a2a" stroke-width="1.8" fill="none">
<line x1="39.8" y1="498.85" x2="65.8" y2="498.85"/>
<line x1="52.8" y1="486.56" x2="52.8" y2="510.15"/>
<line x1="46.5" y1="486.56" x2="59.1" y2="486.56"/>
<line x1="46.5" y1="510.15" x2="59.1" y2="510.15"/>
</g>
<rect x="86.13" y="514.74" width="4.74" height="4.74" fill="none" stroke="#666666" stroke-width="0.95"/>
<rect x="90.13" y="514.44" width="4.74" height="4.74" fill="none" stroke="#666666" stroke-width="0.95"/>
<rect x="85.63" y="511.01" width="4.74" height="4.74" fill="none" stroke="#666666" stroke-width="0.95"/>
<rect x="90.63" y="511.24" width="4.74" height="4.74" fill="none" stroke="#666666" stroke-width="0.95"/>
<rect x="85.63" y="508.48" width="4.74" height="4.74" fill="none" stroke="#666666" stroke-width="0.95"/>
<rect x="90.63" y="509.72" width="4.74" height="4.74" fill="none" stroke="#666666" stroke-width="0.95"/>
<rect x="85.13" y="506.82" width="4.74" height="4.74" fill="none" stroke="#666666" stroke-width="0.95"/>
<rect x="88.13" y="507.17" width="4.74" height="4.74" fill="none" stroke="#666666" stroke-width="0.95"/>
<rect x="91.13" y="506.01" width="4.74" height="4.74" fill="none" stroke="#666666" stroke-width="0.95"/>
<rect x="84.13" y="504.51" width="4.74" height="4.74" fill="none" stroke="#666666" stroke-width="0.95"/>
<rect x="88.13" y="503.44" width="4.74" height="4.74" fill="none" stroke="#666666" stroke-width="0.95"/>
<rect x="92.13" y="504.1" width="4.74" height="4.74" fill="none" stroke="#666666" stroke-width="0.95"/>
<rect x="82.63" y="502.16" width="4.74" height="4.74" fill="none" stroke="#666666" stroke-width="0.95"/>
<rect x="86.3" y="501.72" width="4.74" height="4.74" fill="none" stroke="#666666" stroke-width="0.95"/>
<rect x="89.96" y="502.54" width="4.74" height="4.74" fill="none" stroke="#666666" stroke-width="0.95"/>
<rect x="93.63" y="502.03" width="4.74" height="4.74" fill="none" stroke="#666666" stroke-width="0.95"/>
<rect x="78.63" y="499.71" width="4.74" height="4.74" fill="none" stroke="#666666" stroke-width="0.95"/>
<rect x="82.43" y="500.2" width="4.74" height="4.74" fill="none" stroke="#666666" stroke-width="0.95"/>
<rect x="86.23" y="498.95" width="4.74" height="4.74" fill="none" stroke="#666666" stroke-width="0.95"/>
<rect x="90.03" y="500.37" width="4.74" height="4.74" fill="none" stroke="#666666" stroke-width="0.95"/>
<rect x="93.83" y="499.79" width="4.74" height="4.74" fill="none" stroke="#666666" stroke-width="0.95"/>
<rect x="97.63" y="499.41" width="4.74" height="4.74" fill="none" stroke="#666666" stroke-width="0.95"/>
<rect x="77.93" y="497.7" width="4.74" height="4.74" fill="none" stroke="#666666" stroke-width="0.95"/>
<rect x="81.33" y="496.85" width="4.74" height="4.74" fill="none" stroke="#666666" stroke-width="0.95"/>
<rect x="84.73" y="498.01" width="4.74" height="4.74" fill="none" stroke="#666666" stroke-width="0.95"/>
<rect x="88.13" y="497.35" width="4.74" height="4.74" fill="none" stroke="#666666" stroke-width="0.95"/>
<rect x="91.53" y="497" width="4.74" height="4.74" fill="none" stroke="#666666" stroke-width="0.95"/>
<rect x="94.93" y="497.65" width="4.74" height="4.74" fill="none" stroke="#666666" stroke-width="0.95"/>
<rect x="98.33" y="497.13" width="4.74" height="4.74" fill="none" stroke="#666666" stroke-width="0.95"/>
<rect x="78.63" y="494.35" width="4.74" height="4.74" fill="none" stroke="#666666" stroke-width="0.95"/>
<rect x="82.43" y="495.25" width="4.74" height="4.74" fill="none" stroke="#666666" stroke-width="0.95"/>
<rect x="86.23" y="494.14" width="4.74" height="4.74" fill="none" stroke="#666666" stroke-width="0.95"/>
<rect x="90.03" y="495.38" width="4.74" height="4.74" fill="none" stroke="#666666" stroke-width="0.95"/>
<rect x="93.83" y="494.47" width="4.74" height="4.74" fill="none" stroke="#666666" stroke-width="0.95"/>
<rect x="97.63" y="495.09" width="4.74" height="4.74" fill="none" stroke="#666666" stroke-width="0.95"/>
<rect x="79.13" y="493.16" width="4.74" height="4.74" fill="none" stroke="#666666" stroke-width="0.95"/>
<rect x="82.73" y="492.52" width="4.74" height="4.74" fill="none" stroke="#666666" stroke-width="0.95"/>
<rect x="86.33" y="492.64" width="4.74" height="4.74" fill="none" stroke="#666666" stroke-width="0.95"/>
<rect x="89.93" y="492.08" width="4.74" height="4.74" fill="none" stroke="#666666" stroke-width="0.95"/>
<rect x="93.53" y="491.58" width="4.74" height="4.74" fill="none" stroke="#666666" stroke-width="0.95"/>
<rect x="97.13" y="491.64" width="4.74" height="4.74" fill="none" stroke="#666666" stroke-width="0.95"/>
<rect x="80.13" y="489.46" width="4.74" height="4.74" fill="none" stroke="#666666" stroke-width="0.95"/>
<rect x="84.13" y="490.21" width="4.74" height="4.74" fill="none" stroke="#666666" stroke-width="0.95"/>
<rect x="88.13" y="489.91" width="4.74" height="4.74" fill="none" stroke="#666666" stroke-width="0.95"/>
<rect x="92.13" y="490.04" width="4.74" height="4.74" fill="none" stroke="#666666" stroke-width="0.95"/>
<rect x="96.13" y="490.66" width="4.74" height="4.74" fill="none" stroke="#666666" stroke-width="0.95"/>
<rect x="80.83" y="487.07" width="4.74" height="4.74" fill="none" stroke="#666666" stroke-width="0.95"/>
<rect x="84.48" y="487.23" width="4.74" height="4.74" fill="none" stroke="#666666" stroke-width="0.95"/>
<rect x="88.13" y="487.91" width="4.74" height="4.74" fill="none" stroke="#666666" stroke-width="0.95"/>
<rect x="91.78" y="486.9" width="4.74" height="4.74" fill="none" stroke="#666666" stroke-width="0.95"/>
<rect x="95.43" y="486.87" width="4.74" height="4.74" fill="none" stroke="#666666" stroke-width="0.95"/>
<rect x="80.83" y="485.07" width="4.74" height="4.74" fill="none" stroke="#666666" stroke-width="0.95"/>
<rect x="84.48" y="484.67" width="4.74" height="4.74" fill="none" stroke="#666666" stroke-width="0.95"/>
<rect x="88.13" y="485.08" width="4.74" height="4.74" fill="none" stroke="#666666" stroke-width="0.95"/>
<rect x="91.78" y="484.86" width="4.74" height="4.74" fill="none" stroke="#666666" stroke-width="0.95"/>
<rect x="95.43" y="485.44" width="4.74" height="4.74" fill="none" stroke="#666666" stroke-width="0.95"/>
<rect x="84.13" y="483.09" width="4.74" height="4.74" fill="none" stroke="#666666" stroke-width="0.95"/>
<rect x="88.13" y="482.47" width="4.74" height="4.74" fill="none" stroke="#666666" stroke-width="0.95"/>
<rect x="92.13" y="483.14" width="4.74" height="4.74" fill="none" stroke="#666666" stroke-width="0.95"/>
<rect x="86.13" y="480.42" width="4.74" height="4.74" fill="none" stroke="#666666" stroke-width="0.95"/>
<rect x="90.13" y="479.88" width="4.74" height="4.74" fill="none" stroke="#666666" stroke-width="0.95"/>
<rect x="86.13" y="478.68" width="4.74" height="4.74" fill="none" stroke="#666666" stroke-width="0.95"/>
<rect x="90.13" y="477.57" width="4.74" height="4.74" fill="none" stroke="#666666" stroke-width="0.95"/>
<rect x="85.63" y="474.69" width="4.74" height="4.74" fill="none" stroke="#666666" stroke-width="0.95"/>
<rect x="88.13" y="474.6" width="4.74" height="4.74" fill="none" stroke="#666666" stroke-width="0.95"/>
<rect x="90.63" y="475.47" width="4.74" height="4.74" fill="none" stroke="#666666" stroke-width="0.95"/>
<rect x="86.13" y="472.61" width="4.74" height="4.74" fill="none" stroke="#666666" stroke-width="0.95"/>
<rect x="90.13" y="472.47" width="4.74" height="4.74" fill="none" stroke="#666666" stroke-width="0.95"/>
<rect x="85.73" y="468.01" width="4.74" height="4.74" fill="none" stroke="#666666" stroke-width="0.95"/>
<rect x="88.13" y="467.79" width="4.74" height="4.74" fill="none" stroke="#666666" stroke-width="0.95"/>
<rect x="90.53" y="467.39" width="4.74" height="4.74" fill="none" stroke="#666666" stroke-width="0.95"/>
<rect x="88.13" y="463.19" width="4.74" height="4.74" fill="none" stroke="#666666" stroke-width="0.95"/>
<g stroke="#3c3c3c" stroke-width="1.8" fill="none">
<line x1="77.5" y1="494.88" x2="103.5" y2="494.88"/>
<line x1="90.5" y1="483.45" x2="90.5" y2="505.8"/>
<line x1="84.2" y1="483.45" x2="96.8" y2="483.45"/>
<line x1="84.2" y1="505.8" x2="96.8" y2="505.8"/>
</g>
<path d="M130.1 480.31L132.62 485.35L127.58 485.35Z" fill="none" stroke="#a4a4a4" stroke-width="0.95"/>
<path d="M121.5 483.79L124.02 488.82L118.98 488.82Z" fill="none" stroke="#a4a4a4" stroke-width="0.95"/>
<path d="M138.5 486.64L141.02 491.68L135.98 491.68Z" fill="none" stroke="#a4a4a4" stroke-width="0.95"/>
<path d="M121.8 489.75L124.32 494.78L119.28 494.78Z" fill="none" stroke="#a4a4a4" stroke-width="0.95"/>
<path d="M124.7 489.75L127.22 494.78L122.18 494.78Z" fill="none" stroke="#a4a4a4" stroke-width="0.95"/>
<path d="M130.7 489.75L133.22 494.78L128.18 494.78Z" fill="none" stroke="#a4a4a4" stroke-width="0.95"/>
<path d="M133.5 489.75L136.02 494.78L130.98 494.78Z" fill="none" stroke="#a4a4a4" stroke-width="0.95"/>
<path d="M117.2 491.98L119.72 497.02L114.68 497.02Z" fill="none" stroke="#a4a4a4" stroke-width="0.95"/>
<path d="M138.5 491.98L141.02 497.02L135.98 497.02Z" fill="none" stroke="#a4a4a4" stroke-width="0.95"/>
<path d="M118.6 495.09L121.12 500.12L116.08 500.12Z" fill="none" stroke="#a4a4a4" stroke-width="0.95"/>
<path d="M121.8 495.09L124.32 500.12L119.28 500.12Z" fill="none" stroke="#a4a4a4" stroke-width="0.95"/>
<path d="M125 495.09L127.52 500.12L122.48 500.12Z" fill="none" stroke="#a4a4a4" stroke-width="0.95"/>
<path d="M130.7 495.09L133.22 500.12L128.18 500.12Z" fill="none" stroke="#a4a4a4" stroke-width="0.95"/>
<path d="M133.5 495.09L136.02 500.12L130.98 500.12Z" fill="none" stroke="#a4a4a4" stroke-width="0.95"/>
<path d="M136.7 495.09L139.22 500.12L134.18 500.12Z" fill="none" stroke="#a4a4a4" stroke-width="0.95"/>
<path d="M117.6 499.43L120.12 504.47L115.08 504.47Z" fill="none" stroke="#a4a4a4" stroke-width="0.95"/>
<path d="M125.7 499.81L128.22 504.84L123.18 504.84Z" fill="none" stroke="#a4a4a4" stroke-width="0.95"/>
<path d="M138.5 497.94L141.02 502.98L135.98 502.98Z" fill="none" stroke="#a4a4a4" stroke-width="0.95"/>
<path d="M134.2 501.92L136.72 506.95L131.68 506.95Z" fill="none" stroke="#a4a4a4" stroke-width="0.95"/>
<g stroke="#3c3c3c" stroke-width="1.8" fill="none">
<line x1="115.5" y1="495.62" x2="140.5" y2="495.62"/>
<line x1="128" y1="489.54" x2="128" y2="500.84"/>
<line x1="122" y1="489.54" x2="134" y2="489.54"/>
<line x1="122" y1="500.84" x2="134" y2="500.84"/>
</g>
<line x1="90" y1="418.5" x2="250.5" y2="418.5" stroke="#9a9a9a" stroke-width="0.8" stroke-dasharray="0.9 1.6"/>
<text x="159.5" y="415.94" font-size="7.8" fill="#8a8a8a" text-anchor="middle">ns</text>
<line x1="88.7" y1="431.5" x2="133.2" y2="431.5" stroke="#9a9a9a" stroke-width="0.9"/>
<text x="111" y="428.54" font-size="7.8" fill="#8a8a8a" text-anchor="middle">ns</text>
<line x1="51.5" y1="446.1" x2="130" y2="446.1" stroke="#9a9a9a" stroke-width="0.9"/>
<text x="90.5" y="442.34" font-size="7.8" fill="#8a8a8a" text-anchor="middle">ns</text>
<line x1="51" y1="458.2" x2="94.2" y2="458.2" stroke="#9a9a9a" stroke-width="0.9" stroke-dasharray="2.5 1.4"/>
<text x="72.9" y="455.44" font-size="7.8" fill="#8a8a8a" text-anchor="middle">p&lt;0,0022</text>
<g stroke="#333" stroke-width="1.1" fill="none">
<line x1="191.6" y1="457.7" x2="191.6" y2="533.6"/>
<line x1="191.1" y1="533.1" x2="303.8" y2="533.1"/>
<line x1="189.3" y1="533.1" x2="191.6" y2="533.1"/>
<line x1="189.3" y1="520.62" x2="191.6" y2="520.62"/>
<line x1="189.3" y1="508.13" x2="191.6" y2="508.13"/>
<line x1="189.3" y1="495.65" x2="191.6" y2="495.65"/>
<line x1="189.3" y1="483.17" x2="191.6" y2="483.17"/>
<line x1="189.3" y1="470.68" x2="191.6" y2="470.68"/>
<line x1="189.3" y1="458.2" x2="191.6" y2="458.2"/>
<line x1="210.3" y1="533.1" x2="210.3" y2="535.6"/>
<line x1="248" y1="533.1" x2="248" y2="535.6"/>
<line x1="285.7" y1="533.1" x2="285.7" y2="535.6"/>
</g>
<g font-size="7.6" font-weight="bold" fill="#1a1a1a" stroke="#1a1a1a" stroke-width="0.1" text-anchor="end">
<text x="188.4" y="535.53">-30</text>
<text x="188.4" y="523.05">-20</text>
<text x="188.4" y="510.57">-10</text>
<text x="188.4" y="498.08">0</text>
<text x="188.4" y="485.6">10</text>
<text x="188.4" y="473.12">20</text>
<text x="188.4" y="460.63">30</text>
</g>
<g font-size="8.2" font-weight="bold" fill="#1a1a1a" stroke="#1a1a1a" stroke-width="0.12" text-anchor="end">
<text transform="translate(213.8 541.3) rotate(-45)">T0_MAd</text>
<text transform="translate(251.5 541.3) rotate(-45)">T1_MAd</text>
<text transform="translate(289.2 541.3) rotate(-45)">CTRL</text>
</g>
<text transform="translate(172.5 494.5) rotate(-90)" font-size="10.2" font-weight="bold" fill="#1a1a1a" stroke="#1a1a1a" stroke-width="0.18" text-anchor="middle">Flexibility (cm)</text>
<circle cx="207.7" cy="474.68" r="2.42" fill="none" stroke="#2a2a2a" stroke-width="0.95"/>
<circle cx="213" cy="476.05" r="2.42" fill="none" stroke="#2a2a2a" stroke-width="0.95"/>
<circle cx="210.4" cy="477.67" r="2.42" fill="none" stroke="#2a2a2a" stroke-width="0.95"/>
<circle cx="207.7" cy="483.54" r="2.42" fill="none" stroke="#2a2a2a" stroke-width="0.95"/>
<circle cx="213" cy="487.04" r="2.42" fill="none" stroke="#2a2a2a" stroke-width="0.95"/>
<circle cx="202.2" cy="489.91" r="2.42" fill="none" stroke="#2a2a2a" stroke-width="0.95"/>
<circle cx="205.8" cy="490.41" r="2.42" fill="none" stroke="#2a2a2a" stroke-width="0.95"/>
<circle cx="199.7" cy="493.4" r="2.42" fill="none" stroke="#2a2a2a" stroke-width="0.95"/>
<circle cx="203.3" cy="492.9" r="2.42" fill="none" stroke="#2a2a2a" stroke-width="0.95"/>
<circle cx="206.9" cy="492.9" r="2.42" fill="none" stroke="#2a2a2a" stroke-width="0.95"/>
<circle cx="200.2" cy="497.52" r="2.42" fill="none" stroke="#2a2a2a" stroke-width="0.95"/>
<circle cx="204.3" cy="496.52" r="2.42" fill="none" stroke="#2a2a2a" stroke-width="0.95"/>
<circle cx="213" cy="496.02" r="2.42" fill="none" stroke="#2a2a2a" stroke-width="0.95"/>
<circle cx="215.1" cy="496.02" r="2.42" fill="none" stroke="#2a2a2a" stroke-width="0.95"/>
<circle cx="217.3" cy="496.02" r="2.42" fill="none" stroke="#2a2a2a" stroke-width="0.95"/>
<circle cx="219.5" cy="496.02" r="2.42" fill="none" stroke="#2a2a2a" stroke-width="0.95"/>
<circle cx="221.2" cy="496.02" r="2.42" fill="none" stroke="#2a2a2a" stroke-width="0.95"/>
<circle cx="199.7" cy="498.52" r="2.42" fill="none" stroke="#2a2a2a" stroke-width="0.95"/>
<circle cx="203.8" cy="499.15" r="2.42" fill="none" stroke="#2a2a2a" stroke-width="0.95"/>
<circle cx="206.9" cy="499.15" r="2.42" fill="none" stroke="#2a2a2a" stroke-width="0.95"/>
<circle cx="213" cy="502.64" r="2.42" fill="none" stroke="#2a2a2a" stroke-width="0.95"/>
<circle cx="216.1" cy="502.64" r="2.42" fill="none" stroke="#2a2a2a" stroke-width="0.95"/>
<circle cx="208.4" cy="503.14" r="2.42" fill="none" stroke="#2a2a2a" stroke-width="0.95"/>
<circle cx="202.7" cy="506.26" r="2.42" fill="none" stroke="#2a2a2a" stroke-width="0.95"/>
<circle cx="206.3" cy="505.76" r="2.42" fill="none" stroke="#2a2a2a" stroke-width="0.95"/>
<circle cx="209.9" cy="506.76" r="2.42" fill="none" stroke="#2a2a2a" stroke-width="0.95"/>
<circle cx="214.5" cy="506.76" r="2.42" fill="none" stroke="#2a2a2a" stroke-width="0.95"/>
<circle cx="218.1" cy="506.26" r="2.42" fill="none" stroke="#2a2a2a" stroke-width="0.95"/>
<circle cx="202.2" cy="510.38" r="2.42" fill="none" stroke="#2a2a2a" stroke-width="0.95"/>
<circle cx="205.8" cy="509.88" r="2.42" fill="none" stroke="#2a2a2a" stroke-width="0.95"/>
<circle cx="209.4" cy="510.88" r="2.42" fill="none" stroke="#2a2a2a" stroke-width="0.95"/>
<circle cx="213.5" cy="509.88" r="2.42" fill="none" stroke="#2a2a2a" stroke-width="0.95"/>
<circle cx="218.1" cy="510.38" r="2.42" fill="none" stroke="#2a2a2a" stroke-width="0.95"/>
<circle cx="204.3" cy="513" r="2.42" fill="none" stroke="#2a2a2a" stroke-width="0.95"/>
<circle cx="207.9" cy="513.5" r="2.42" fill="none" stroke="#2a2a2a" stroke-width="0.95"/>
<circle cx="211.5" cy="513.5" r="2.42" fill="none" stroke="#2a2a2a" stroke-width="0.95"/>
<circle cx="215.1" cy="513" r="2.42" fill="none" stroke="#2a2a2a" stroke-width="0.95"/>
<circle cx="207.4" cy="515.5" r="2.42" fill="none" stroke="#2a2a2a" stroke-width="0.95"/>
<circle cx="212.5" cy="515.5" r="2.42" fill="none" stroke="#2a2a2a" stroke-width="0.95"/>
<circle cx="210.2" cy="521.12" r="2.42" fill="none" stroke="#2a2a2a" stroke-width="0.95"/>
<g stroke="#2a2a2a" stroke-width="1.8" fill="none">
<line x1="198" y1="500.64" x2="222.6" y2="500.64"/>
<line x1="210.3" y1="489.03" x2="210.3" y2="511.5"/>
<line x1="204.3" y1="489.03" x2="216.3" y2="489.03"/>
<line x1="204.3" y1="511.5" x2="216.3" y2="511.5"/>
</g>
<rect x="241.13" y="475.68" width="4.74" height="4.74" fill="none" stroke="#666666" stroke-width="0.95"/>
<rect x="245.53" y="473.31" width="4.74" height="4.74" fill="none" stroke="#666666" stroke-width="0.95"/>
<rect x="249.93" y="474.18" width="4.74" height="4.74" fill="none" stroke="#666666" stroke-width="0.95"/>
<rect x="245.53" y="479.3" width="4.74" height="4.74" fill="none" stroke="#666666" stroke-width="0.95"/>
<rect x="251.73" y="485.91" width="4.74" height="4.74" fill="none" stroke="#666666" stroke-width="0.95"/>
<rect x="238.83" y="488.04" width="4.74" height="4.74" fill="none" stroke="#666666" stroke-width="0.95"/>
<rect x="243.13" y="485.91" width="4.74" height="4.74" fill="none" stroke="#666666" stroke-width="0.95"/>
<rect x="235.23" y="491.53" width="4.74" height="4.74" fill="none" stroke="#666666" stroke-width="0.95"/>
<rect x="238.83" y="495.15" width="4.74" height="4.74" fill="none" stroke="#666666" stroke-width="0.95"/>
<rect x="243.13" y="496.15" width="4.74" height="4.74" fill="none" stroke="#666666" stroke-width="0.95"/>
<rect x="247.63" y="496.15" width="4.74" height="4.74" fill="none" stroke="#666666" stroke-width="0.95"/>
<rect x="251.93" y="496.52" width="4.74" height="4.74" fill="none" stroke="#666666" stroke-width="0.95"/>
<rect x="256.33" y="496.15" width="4.74" height="4.74" fill="none" stroke="#666666" stroke-width="0.95"/>
<rect x="235.23" y="498.77" width="4.74" height="4.74" fill="none" stroke="#666666" stroke-width="0.95"/>
<rect x="243.13" y="498.77" width="4.74" height="4.74" fill="none" stroke="#666666" stroke-width="0.95"/>
<rect x="247.63" y="502.89" width="4.74" height="4.74" fill="none" stroke="#666666" stroke-width="0.95"/>
<rect x="243.13" y="505.39" width="4.74" height="4.74" fill="none" stroke="#666666" stroke-width="0.95"/>
<rect x="247.63" y="509.51" width="4.74" height="4.74" fill="none" stroke="#666666" stroke-width="0.95"/>
<rect x="243.13" y="512.38" width="4.74" height="4.74" fill="none" stroke="#666666" stroke-width="0.95"/>
<g stroke="#3c3c3c" stroke-width="1.8" fill="none">
<line x1="235.5" y1="495.15" x2="260.5" y2="495.15"/>
<line x1="248" y1="483.42" x2="248" y2="506.01"/>
<line x1="242" y1="483.42" x2="254" y2="483.42"/>
<line x1="242" y1="506.01" x2="254" y2="506.01"/>
</g>
<path d="M287.8 480.65L290.32 485.68L285.28 485.68Z" fill="none" stroke="#a4a4a4" stroke-width="0.95"/>
<path d="M279.2 484.14L281.72 489.18L276.68 489.18Z" fill="none" stroke="#a4a4a4" stroke-width="0.95"/>
<path d="M296.2 487.01L298.72 492.05L293.68 492.05Z" fill="none" stroke="#a4a4a4" stroke-width="0.95"/>
<path d="M279.5 490.13L282.02 495.17L276.98 495.17Z" fill="none" stroke="#a4a4a4" stroke-width="0.95"/>
<path d="M282.4 490.13L284.92 495.17L279.88 495.17Z" fill="none" stroke="#a4a4a4" stroke-width="0.95"/>
<path d="M288.4 490.13L290.92 495.17L285.88 495.17Z" fill="none" stroke="#a4a4a4" stroke-width="0.95"/>
<path d="M291.2 490.13L293.72 495.17L288.68 495.17Z" fill="none" stroke="#a4a4a4" stroke-width="0.95"/>
<path d="M274.9 492.38L277.42 497.41L272.38 497.41Z" fill="none" stroke="#a4a4a4" stroke-width="0.95"/>
<path d="M296.2 492.38L298.72 497.41L293.68 497.41Z" fill="none" stroke="#a4a4a4" stroke-width="0.95"/>
<path d="M276.3 495.5L278.82 500.54L273.78 500.54Z" fill="none" stroke="#a4a4a4" stroke-width="0.95"/>
<path d="M279.5 495.5L282.02 500.54L276.98 500.54Z" fill="none" stroke="#a4a4a4" stroke-width="0.95"/>
<path d="M282.7 495.5L285.22 500.54L280.18 500.54Z" fill="none" stroke="#a4a4a4" stroke-width="0.95"/>
<path d="M288.4 495.5L290.92 500.54L285.88 500.54Z" fill="none" stroke="#a4a4a4" stroke-width="0.95"/>
<path d="M291.2 495.5L293.72 500.54L288.68 500.54Z" fill="none" stroke="#a4a4a4" stroke-width="0.95"/>
<path d="M294.4 495.5L296.92 500.54L291.88 500.54Z" fill="none" stroke="#a4a4a4" stroke-width="0.95"/>
<path d="M275.3 499.87L277.82 504.9L272.78 504.9Z" fill="none" stroke="#a4a4a4" stroke-width="0.95"/>
<path d="M283.4 500.25L285.92 505.28L280.88 505.28Z" fill="none" stroke="#a4a4a4" stroke-width="0.95"/>
<path d="M296.2 498.37L298.72 503.41L293.68 503.41Z" fill="none" stroke="#a4a4a4" stroke-width="0.95"/>
<path d="M291.9 502.37L294.42 507.4L289.38 507.4Z" fill="none" stroke="#a4a4a4" stroke-width="0.95"/>
<g stroke="#3c3c3c" stroke-width="1.8" fill="none">
<line x1="273.2" y1="496.02" x2="298.2" y2="496.02"/>
<line x1="285.7" y1="489.91" x2="285.7" y2="501.27"/>
<line x1="279.7" y1="489.91" x2="291.7" y2="489.91"/>
<line x1="279.7" y1="501.27" x2="291.7" y2="501.27"/>
</g>
<line x1="246.2" y1="431.5" x2="290.7" y2="431.5" stroke="#9a9a9a" stroke-width="0.9"/>
<text x="268.6" y="428.54" font-size="7.8" fill="#8a8a8a" text-anchor="middle">ns</text>
<line x1="208.5" y1="446.1" x2="287.7" y2="446.1" stroke="#9a9a9a" stroke-width="0.9"/>
<text x="248" y="442.34" font-size="7.8" fill="#8a8a8a" text-anchor="middle">ns</text>
<line x1="208.5" y1="461.2" x2="251.8" y2="461.2" stroke="#9a9a9a" stroke-width="0.9" stroke-dasharray="2.5 1.4"/>
<text x="235" y="459.24" font-size="7.8" fill="#8a8a8a" text-anchor="middle">p&lt; 0,0010</text>
</svg>
</body></html>
